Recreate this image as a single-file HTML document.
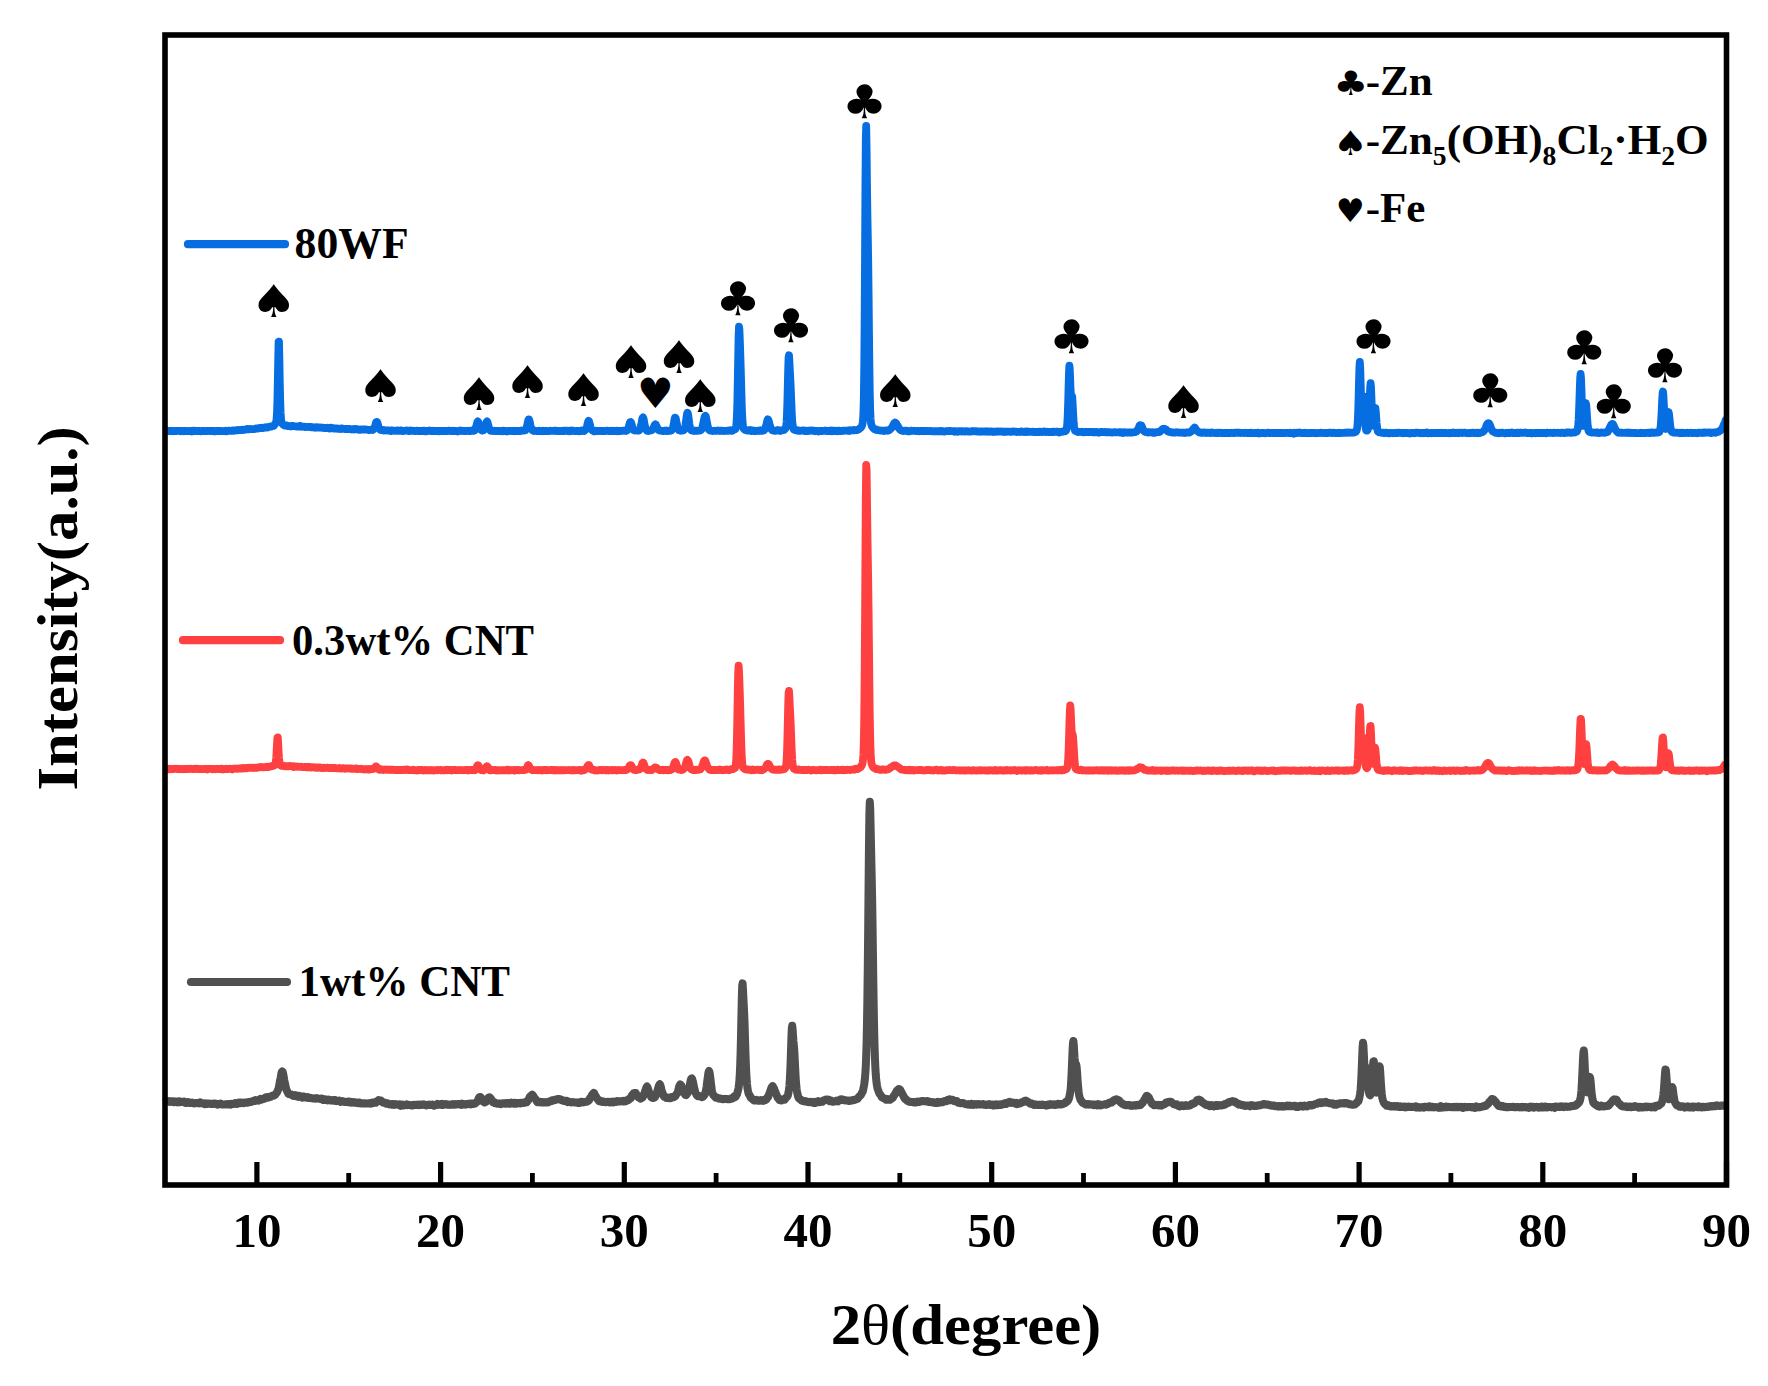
<!DOCTYPE html>
<html lang="en"><head><meta charset="utf-8"><title>XRD patterns</title>
<style>html,body{margin:0;padding:0;background:#fff}body{width:1768px;height:1386px;overflow:hidden}svg{display:block}</style>
</head><body>
<svg width="1768" height="1386" viewBox="0 0 1768 1386">
<rect width="1768" height="1386" fill="#fff"/>
<path d="M165.0,1102.0 165.4,1101.6 165.8,1101.1 166.2,1100.8 166.6,1101.0 167.0,1101.2 167.4,1101.2 167.8,1101.2 168.2,1101.2 168.6,1101.1 169.0,1101.1 169.4,1101.6 169.8,1102.0 170.2,1102.0 170.6,1101.7 171.0,1101.4 171.4,1101.2 171.8,1101.3 172.2,1101.5 172.6,1101.3 173.0,1101.2 173.4,1101.7 173.8,1102.1 174.2,1101.9 174.6,1101.4 175.0,1101.6 175.4,1101.9 175.8,1101.8 176.2,1101.6 176.6,1101.8 177.0,1102.3 177.4,1102.4 177.8,1101.8 178.2,1101.6 178.6,1101.4 179.0,1101.2 179.4,1101.4 179.8,1101.8 180.2,1102.2 180.6,1102.0 181.0,1101.8 181.4,1102.1 181.8,1102.0 182.2,1101.7 182.6,1101.8 183.0,1101.9 183.4,1102.0 183.8,1101.9 184.2,1101.7 184.6,1102.1 185.0,1102.7 185.4,1102.9 185.8,1103.0 186.2,1103.1 186.6,1102.9 187.0,1102.5 187.4,1102.4 187.8,1102.1 188.2,1102.0 188.6,1102.2 189.0,1102.8 189.4,1103.1 189.8,1103.0 190.2,1103.0 190.6,1102.8 191.0,1102.7 191.4,1102.7 191.8,1102.6 192.2,1103.0 192.6,1103.2 193.0,1103.0 193.4,1103.0 193.8,1103.2 194.2,1103.4 194.6,1103.4 195.0,1103.3 195.4,1103.3 195.8,1103.0 196.2,1102.9 196.6,1103.1 197.0,1103.0 197.4,1103.1 197.8,1103.2 198.2,1103.1 198.6,1103.3 199.0,1103.5 199.4,1103.3 199.8,1102.7 200.2,1102.3 200.6,1102.6 201.0,1103.0 201.4,1103.0 201.8,1103.1 202.2,1103.3 202.6,1103.3 203.0,1103.4 203.4,1103.5 203.8,1103.3 204.2,1103.5 204.6,1104.1 205.0,1103.8 205.4,1103.3 205.8,1103.4 206.2,1103.8 206.6,1104.0 207.0,1103.7 207.4,1103.4 207.8,1103.4 208.2,1103.7 208.6,1103.7 209.0,1103.5 209.4,1103.5 209.8,1103.7 210.2,1103.8 210.6,1103.7 211.0,1103.9 211.4,1104.1 211.8,1103.9 212.2,1103.8 212.6,1104.0 213.0,1103.9 213.4,1103.8 213.8,1103.5 214.2,1103.4 214.6,1103.8 215.0,1104.0 215.4,1104.0 215.8,1103.9 216.2,1103.7 216.6,1103.7 217.0,1104.1 217.4,1104.6 217.8,1104.4 218.2,1104.1 218.6,1104.1 219.0,1104.0 219.4,1104.0 219.8,1104.2 220.2,1103.9 220.6,1103.6 221.0,1103.7 221.4,1104.1 221.8,1104.4 222.2,1104.5 222.6,1104.3 223.0,1104.4 223.4,1104.4 223.8,1104.4 224.2,1104.5 224.6,1104.4 225.0,1104.3 225.4,1104.3 225.8,1104.2 226.2,1104.2 226.6,1104.4 227.0,1104.4 227.4,1104.2 227.8,1104.2 228.2,1104.4 228.6,1104.4 229.0,1104.2 229.4,1104.1 229.8,1104.0 230.2,1104.2 230.6,1104.6 231.0,1104.2 231.4,1103.9 231.8,1104.1 232.2,1103.9 232.6,1104.0 233.0,1104.1 233.4,1103.7 233.8,1103.5 234.2,1103.5 234.6,1103.4 235.0,1103.1 235.4,1103.1 235.8,1103.5 236.2,1103.8 236.6,1104.0 237.0,1104.0 237.4,1103.7 237.8,1103.3 238.2,1102.9 238.6,1102.6 239.0,1102.6 239.4,1102.8 239.8,1103.1 240.2,1103.2 240.6,1102.9 241.0,1102.5 241.4,1102.4 241.8,1102.7 242.2,1102.9 242.6,1102.8 243.0,1102.8 243.4,1103.2 243.8,1103.2 244.2,1102.6 244.6,1102.4 245.0,1102.4 245.4,1102.4 245.8,1102.5 246.2,1102.6 246.6,1102.7 247.0,1102.8 247.4,1102.6 247.8,1102.3 248.2,1102.1 248.6,1101.9 249.0,1102.0 249.4,1102.2 249.8,1102.2 250.2,1102.1 250.6,1101.9 251.0,1101.7 251.4,1101.8 251.8,1101.6 252.2,1101.4 252.6,1101.2 253.0,1101.0 253.4,1100.8 253.8,1100.9 254.2,1101.1 254.6,1101.1 255.0,1100.7 255.4,1100.1 255.8,1100.2 256.2,1100.4 256.6,1100.3 257.0,1100.4 257.4,1100.3 257.8,1100.0 258.2,1100.2 258.6,1100.5 259.0,1100.0 259.4,1099.5 259.8,1099.3 260.2,1099.1 260.6,1098.8 261.0,1099.1 261.4,1099.7 261.8,1099.5 262.2,1099.2 262.6,1099.2 263.0,1099.2 263.4,1099.0 263.8,1099.0 264.2,1098.7 264.6,1098.5 265.0,1098.1 265.4,1097.4 265.8,1097.3 266.2,1097.5 266.6,1097.3 267.0,1097.2 267.4,1097.0 267.8,1097.3 268.2,1097.7 268.6,1097.5 269.0,1097.1 269.4,1097.0 269.8,1096.9 270.2,1096.8 270.6,1096.8 271.0,1096.6 271.4,1096.1 271.8,1096.1 272.2,1095.9 272.6,1095.6 273.0,1095.6 273.4,1095.6 273.8,1095.7 274.2,1095.5 274.6,1095.1 275.0,1094.9 275.4,1094.4 275.8,1093.7 276.2,1093.3 276.6,1092.9 277.0,1092.3 277.4,1091.6 277.8,1090.5 278.2,1089.3 278.6,1088.4 279.0,1086.8 279.4,1084.3 279.8,1081.9 280.2,1079.9 280.6,1078.0 281.0,1075.8 281.4,1073.4 281.8,1071.9 282.2,1071.4 282.6,1071.7 283.0,1073.0 283.4,1075.0 283.8,1077.3 284.2,1079.9 284.6,1082.1 285.0,1083.6 285.4,1085.4 285.8,1087.4 286.2,1089.2 286.6,1090.0 287.0,1090.7 287.4,1091.9 287.8,1092.7 288.2,1093.3 288.6,1094.0 289.0,1094.2 289.4,1094.2 289.8,1094.2 290.2,1094.5 290.6,1094.4 291.0,1094.3 291.4,1094.6 291.8,1094.7 292.2,1094.8 292.6,1095.2 293.0,1095.8 293.4,1096.0 293.8,1096.0 294.2,1095.9 294.6,1095.3 295.0,1095.1 295.4,1095.7 295.8,1096.2 296.2,1096.3 296.6,1096.5 297.0,1096.4 297.4,1096.0 297.8,1096.5 298.2,1096.8 298.6,1096.3 299.0,1095.9 299.4,1096.2 299.8,1096.5 300.2,1096.6 300.6,1096.6 301.0,1096.4 301.4,1096.4 301.8,1097.0 302.2,1097.6 302.6,1097.3 303.0,1096.9 303.4,1096.6 303.8,1096.5 304.2,1096.9 304.6,1097.1 305.0,1097.1 305.4,1097.3 305.8,1097.6 306.2,1097.7 306.6,1097.7 307.0,1097.4 307.4,1097.0 307.8,1097.0 308.2,1097.5 308.6,1097.7 309.0,1098.0 309.4,1098.1 309.8,1097.8 310.2,1097.8 310.6,1098.0 311.0,1098.0 311.4,1098.1 311.8,1098.2 312.2,1098.4 312.6,1098.4 313.0,1098.5 313.4,1098.6 313.8,1098.5 314.2,1098.3 314.6,1098.3 315.0,1098.5 315.4,1098.7 315.8,1098.7 316.2,1098.3 316.6,1098.1 317.0,1098.3 317.4,1098.4 317.8,1098.4 318.2,1098.5 318.6,1098.4 319.0,1098.4 319.4,1098.8 319.8,1099.0 320.2,1098.9 320.6,1098.9 321.0,1099.0 321.4,1098.8 321.8,1098.5 322.2,1098.8 322.6,1099.4 323.0,1099.9 323.4,1100.1 323.8,1099.9 324.2,1099.5 324.6,1099.3 325.0,1099.6 325.4,1100.0 325.8,1099.9 326.2,1099.6 326.6,1099.8 327.0,1100.2 327.4,1100.4 327.8,1100.1 328.2,1099.7 328.6,1099.6 329.0,1099.7 329.4,1099.9 329.8,1100.3 330.2,1100.6 330.6,1100.6 331.0,1100.5 331.4,1100.3 331.8,1100.3 332.2,1100.3 332.6,1100.5 333.0,1100.7 333.4,1100.3 333.8,1100.0 334.2,1100.1 334.6,1100.2 335.0,1100.0 335.4,1100.4 335.8,1101.0 336.2,1101.2 336.6,1101.0 337.0,1101.1 337.4,1101.1 337.8,1100.7 338.2,1100.8 338.6,1101.0 339.0,1100.9 339.4,1100.6 339.8,1100.9 340.2,1101.5 340.6,1101.9 341.0,1101.8 341.4,1101.6 341.8,1101.8 342.2,1101.6 342.6,1101.2 343.0,1101.4 343.4,1101.5 343.8,1101.6 344.2,1101.7 344.6,1101.9 345.0,1101.8 345.4,1101.8 345.8,1102.0 346.2,1101.9 346.6,1101.9 347.0,1102.1 347.4,1101.9 347.8,1101.6 348.2,1101.6 348.6,1101.5 349.0,1101.9 349.4,1102.4 349.8,1102.1 350.2,1101.9 350.6,1101.8 351.0,1102.1 351.4,1102.7 351.8,1102.7 352.2,1102.3 352.6,1102.2 353.0,1102.1 353.4,1102.1 353.8,1102.1 354.2,1102.3 354.6,1102.6 355.0,1102.9 355.4,1102.8 355.8,1102.6 356.2,1102.4 356.6,1102.5 357.0,1102.7 357.4,1103.0 357.8,1103.2 358.2,1103.1 358.6,1102.8 359.0,1102.6 359.4,1103.2 359.8,1103.3 360.2,1102.9 360.6,1103.2 361.0,1103.4 361.4,1103.3 361.8,1103.5 362.2,1103.3 362.6,1103.2 363.0,1103.6 363.4,1103.5 363.8,1103.4 364.2,1103.3 364.6,1103.2 365.0,1103.5 365.4,1103.5 365.8,1103.4 366.2,1103.4 366.6,1103.6 367.0,1103.6 367.4,1103.5 367.8,1103.5 368.2,1103.4 368.6,1103.2 369.0,1103.2 369.4,1103.1 369.8,1103.3 370.2,1103.6 370.6,1103.7 371.0,1103.7 371.4,1103.5 371.8,1102.9 372.2,1102.6 372.6,1102.9 373.0,1103.2 373.4,1103.0 373.8,1102.9 374.2,1102.8 374.6,1102.2 375.0,1102.0 375.4,1102.5 375.8,1102.7 376.2,1102.1 376.6,1101.5 377.0,1101.4 377.4,1101.4 377.8,1101.1 378.2,1100.5 378.6,1100.1 379.0,1100.2 379.4,1100.5 379.8,1100.9 380.2,1101.0 380.6,1100.5 381.0,1100.5 381.4,1100.9 381.8,1101.3 382.2,1101.8 382.6,1102.2 383.0,1102.5 383.4,1102.8 383.8,1102.7 384.2,1102.5 384.6,1102.5 385.0,1102.7 385.4,1102.8 385.8,1103.0 386.2,1103.6 386.6,1103.8 387.0,1103.6 387.4,1103.4 387.8,1103.3 388.2,1103.8 388.6,1104.1 389.0,1103.8 389.4,1104.0 389.8,1104.4 390.2,1104.3 390.6,1104.2 391.0,1104.2 391.4,1104.1 391.8,1104.4 392.2,1104.6 392.6,1104.1 393.0,1104.0 393.4,1104.4 393.8,1104.8 394.2,1104.9 394.6,1104.7 395.0,1104.2 395.4,1104.1 395.8,1104.4 396.2,1104.5 396.6,1104.3 397.0,1104.4 397.4,1104.7 397.8,1104.7 398.2,1104.5 398.6,1104.4 399.0,1104.3 399.4,1104.3 399.8,1104.7 400.2,1105.4 400.6,1105.7 401.0,1105.2 401.4,1105.0 401.8,1104.8 402.2,1104.6 402.6,1104.6 403.0,1104.7 403.4,1105.2 403.8,1105.4 404.2,1105.0 404.6,1104.9 405.0,1105.1 405.4,1105.1 405.8,1105.0 406.2,1104.8 406.6,1104.5 407.0,1104.9 407.4,1105.2 407.8,1105.1 408.2,1104.8 408.6,1104.8 409.0,1105.0 409.4,1105.0 409.8,1104.9 410.2,1104.9 410.6,1105.2 411.0,1105.4 411.4,1105.3 411.8,1105.4 412.2,1105.6 412.6,1105.5 413.0,1105.1 413.4,1104.8 413.8,1104.8 414.2,1104.9 414.6,1105.1 415.0,1105.1 415.4,1104.9 415.8,1104.7 416.2,1104.8 416.6,1105.0 417.0,1105.0 417.4,1104.8 417.8,1104.7 418.2,1104.6 418.6,1104.9 419.0,1105.2 419.4,1105.1 419.8,1104.7 420.2,1104.5 420.6,1104.6 421.0,1105.1 421.4,1105.1 421.8,1104.6 422.2,1104.4 422.6,1104.6 423.0,1104.4 423.4,1104.3 423.8,1104.7 424.2,1104.8 424.6,1104.5 425.0,1104.8 425.4,1105.2 425.8,1105.1 426.2,1105.1 426.6,1105.4 427.0,1105.1 427.4,1104.8 427.8,1104.8 428.2,1104.7 428.6,1104.7 429.0,1104.6 429.4,1104.7 429.8,1104.8 430.2,1105.0 430.6,1105.1 431.0,1104.9 431.4,1104.9 431.8,1104.8 432.2,1104.5 432.6,1104.6 433.0,1104.9 433.4,1105.0 433.8,1105.4 434.2,1105.7 434.6,1105.3 435.0,1104.9 435.4,1105.0 435.8,1104.8 436.2,1104.6 436.6,1104.8 437.0,1104.4 437.4,1103.9 437.8,1104.1 438.2,1104.5 438.6,1104.7 439.0,1104.8 439.4,1104.8 439.8,1104.7 440.2,1104.3 440.6,1104.1 441.0,1104.6 441.4,1104.9 441.8,1104.4 442.2,1103.9 442.6,1104.3 443.0,1104.8 443.4,1104.6 443.8,1104.3 444.2,1104.4 444.6,1104.6 445.0,1104.4 445.4,1104.1 445.8,1104.1 446.2,1104.5 446.6,1104.8 447.0,1104.8 447.4,1104.8 447.8,1104.7 448.2,1104.6 448.6,1104.6 449.0,1104.7 449.4,1104.9 449.8,1104.7 450.2,1104.5 450.6,1104.5 451.0,1104.6 451.4,1104.6 451.8,1104.7 452.2,1104.4 452.6,1104.2 453.0,1104.6 453.4,1104.7 453.8,1104.5 454.2,1104.7 454.6,1104.7 455.0,1104.2 455.4,1104.1 455.8,1104.4 456.2,1104.3 456.6,1104.3 457.0,1104.4 457.4,1104.1 457.8,1103.9 458.2,1104.0 458.6,1104.3 459.0,1104.6 459.4,1104.6 459.8,1104.5 460.2,1104.4 460.6,1104.3 461.0,1104.5 461.4,1104.8 461.8,1104.4 462.2,1103.7 462.6,1104.0 463.0,1104.4 463.4,1104.1 463.8,1104.1 464.2,1104.2 464.6,1104.2 465.0,1104.6 465.4,1104.7 465.8,1104.4 466.2,1104.3 466.6,1104.0 467.0,1103.9 467.4,1104.1 467.8,1104.2 468.2,1104.1 468.6,1104.1 469.0,1103.7 469.4,1103.6 469.8,1103.8 470.2,1104.2 470.6,1104.4 471.0,1104.1 471.4,1103.7 471.8,1103.9 472.2,1103.8 472.6,1103.4 473.0,1103.5 473.4,1103.9 473.8,1104.0 474.2,1103.8 474.6,1103.7 475.0,1103.6 475.4,1103.3 475.8,1102.8 476.2,1102.4 476.6,1102.0 477.0,1101.9 477.4,1101.6 477.8,1100.7 478.2,1099.5 478.6,1098.6 479.0,1097.8 479.4,1097.2 479.8,1096.9 480.2,1097.0 480.6,1097.3 481.0,1097.7 481.4,1098.6 481.8,1099.4 482.2,1099.9 482.6,1100.7 483.0,1101.4 483.4,1101.7 483.8,1101.7 484.2,1101.9 484.6,1102.4 485.0,1102.2 485.4,1102.0 485.8,1101.9 486.2,1101.5 486.6,1101.4 487.0,1101.1 487.4,1100.3 487.8,1099.3 488.2,1098.1 488.6,1097.5 489.0,1097.5 489.4,1097.2 489.8,1097.3 490.2,1098.0 490.6,1098.3 491.0,1098.9 491.4,1099.7 491.8,1100.4 492.2,1100.9 492.6,1101.6 493.0,1102.5 493.4,1102.5 493.8,1101.9 494.2,1102.1 494.6,1102.9 495.0,1103.2 495.4,1103.3 495.8,1103.3 496.2,1103.2 496.6,1103.5 497.0,1103.7 497.4,1103.6 497.8,1103.7 498.2,1103.7 498.6,1103.5 499.0,1103.4 499.4,1103.7 499.8,1103.5 500.2,1103.4 500.6,1103.8 501.0,1104.2 501.4,1104.0 501.8,1103.8 502.2,1103.6 502.6,1103.3 503.0,1103.2 503.4,1103.4 503.8,1103.5 504.2,1103.6 504.6,1103.7 505.0,1103.2 505.4,1103.0 505.8,1103.4 506.2,1103.7 506.6,1103.5 507.0,1103.2 507.4,1103.1 507.8,1103.0 508.2,1103.2 508.6,1103.6 509.0,1103.8 509.4,1103.7 509.8,1103.7 510.2,1103.8 510.6,1103.2 511.0,1102.7 511.4,1103.1 511.8,1103.5 512.2,1103.4 512.6,1103.3 513.0,1103.6 513.4,1103.7 513.8,1103.2 514.2,1102.8 514.6,1102.8 515.0,1103.2 515.4,1103.6 515.8,1103.7 516.2,1103.7 516.6,1103.7 517.0,1103.5 517.4,1103.3 517.8,1103.0 518.2,1102.9 518.6,1103.0 519.0,1103.0 519.4,1103.3 519.8,1103.5 520.2,1103.2 520.6,1102.8 521.0,1102.9 521.4,1103.1 521.8,1102.9 522.2,1102.8 522.6,1102.8 523.0,1102.9 523.4,1103.0 523.8,1102.5 524.2,1102.4 524.6,1102.8 525.0,1102.8 525.4,1102.5 525.8,1102.3 526.2,1102.3 526.6,1102.3 527.0,1101.9 527.4,1101.1 527.8,1100.5 528.2,1100.2 528.6,1099.7 529.0,1098.9 529.4,1097.7 529.8,1096.8 530.2,1096.5 530.6,1096.2 531.0,1095.7 531.4,1095.4 531.8,1094.9 532.2,1094.6 532.6,1094.9 533.0,1095.5 533.4,1096.1 533.8,1096.8 534.2,1097.4 534.6,1098.1 535.0,1098.5 535.4,1099.0 535.8,1099.4 536.2,1099.9 536.6,1100.8 537.0,1101.7 537.4,1102.1 537.8,1101.9 538.2,1101.5 538.6,1101.7 539.0,1102.2 539.4,1102.1 539.8,1102.0 540.2,1101.8 540.6,1102.1 541.0,1102.5 541.4,1102.5 541.8,1102.3 542.2,1102.0 542.6,1102.1 543.0,1102.5 543.4,1102.5 543.8,1102.3 544.2,1102.2 544.6,1102.2 545.0,1102.5 545.4,1102.5 545.8,1102.1 546.2,1102.2 546.6,1102.2 547.0,1102.2 547.4,1102.5 547.8,1102.4 548.2,1102.0 548.6,1102.1 549.0,1102.0 549.4,1101.5 549.8,1101.4 550.2,1101.3 550.6,1101.2 551.0,1101.2 551.4,1100.7 551.8,1100.2 552.2,1100.2 552.6,1100.5 553.0,1100.6 553.4,1100.4 553.8,1100.1 554.2,1100.2 554.6,1100.3 555.0,1100.0 555.4,1099.5 555.8,1099.6 556.2,1099.7 556.6,1099.4 557.0,1099.2 557.4,1099.1 557.8,1099.1 558.2,1099.1 558.6,1099.1 559.0,1099.4 559.4,1099.3 559.8,1099.1 560.2,1099.3 560.6,1099.3 561.0,1099.8 561.4,1100.1 561.8,1099.9 562.2,1100.1 562.6,1100.4 563.0,1100.3 563.4,1100.5 563.8,1100.9 564.2,1101.1 564.6,1101.0 565.0,1101.1 565.4,1101.1 565.8,1100.7 566.2,1100.7 566.6,1100.7 567.0,1101.1 567.4,1101.9 567.8,1102.2 568.2,1102.1 568.6,1102.0 569.0,1101.9 569.4,1101.8 569.8,1101.8 570.2,1102.0 570.6,1102.3 571.0,1102.5 571.4,1102.4 571.8,1102.2 572.2,1102.2 572.6,1102.1 573.0,1102.1 573.4,1102.3 573.8,1102.3 574.2,1102.2 574.6,1102.4 575.0,1102.6 575.4,1102.6 575.8,1102.4 576.2,1102.4 576.6,1102.6 577.0,1102.6 577.4,1102.7 577.8,1102.9 578.2,1103.0 578.6,1102.5 579.0,1102.3 579.4,1102.9 579.8,1103.0 580.2,1102.4 580.6,1101.9 581.0,1101.8 581.4,1102.1 581.8,1102.3 582.2,1102.3 582.6,1101.8 583.0,1102.0 583.4,1102.3 583.8,1102.0 584.2,1101.9 584.6,1102.0 585.0,1101.9 585.4,1101.8 585.8,1101.8 586.2,1101.6 586.6,1101.7 587.0,1101.7 587.4,1101.4 587.8,1101.1 588.2,1100.9 588.6,1100.6 589.0,1100.2 589.4,1099.5 589.8,1098.5 590.2,1097.8 590.6,1097.6 591.0,1097.3 591.4,1096.4 591.8,1095.2 592.2,1094.7 592.6,1094.4 593.0,1093.9 593.4,1093.3 593.8,1092.9 594.2,1093.2 594.6,1094.4 595.0,1095.4 595.4,1095.8 595.8,1096.3 596.2,1097.1 596.6,1098.0 597.0,1098.5 597.4,1098.8 597.8,1099.1 598.2,1099.8 598.6,1100.7 599.0,1101.0 599.4,1101.1 599.8,1101.3 600.2,1101.4 600.6,1101.3 601.0,1101.1 601.4,1101.0 601.8,1101.5 602.2,1101.9 602.6,1101.7 603.0,1101.8 603.4,1101.9 603.8,1101.6 604.2,1101.7 604.6,1101.9 605.0,1102.1 605.4,1102.2 605.8,1102.0 606.2,1102.0 606.6,1102.2 607.0,1102.1 607.4,1101.9 607.8,1101.7 608.2,1101.8 608.6,1102.0 609.0,1101.9 609.4,1102.1 609.8,1102.5 610.2,1102.4 610.6,1101.9 611.0,1101.7 611.4,1101.8 611.8,1102.1 612.2,1102.1 612.6,1102.3 613.0,1102.5 613.4,1102.0 613.8,1101.6 614.2,1101.8 614.6,1101.9 615.0,1101.9 615.4,1101.9 615.8,1102.0 616.2,1102.0 616.6,1101.5 617.0,1101.2 617.4,1101.5 617.8,1101.5 618.2,1101.4 618.6,1101.4 619.0,1101.2 619.4,1101.3 619.8,1101.5 620.2,1101.5 620.6,1101.5 621.0,1101.3 621.4,1101.2 621.8,1101.1 622.2,1101.3 622.6,1101.4 623.0,1101.2 623.4,1100.9 623.8,1101.1 624.2,1101.4 624.6,1101.5 625.0,1101.2 625.4,1100.8 625.8,1100.9 626.2,1101.1 626.6,1100.6 627.0,1100.2 627.4,1100.0 627.8,1099.9 628.2,1100.1 628.6,1100.0 629.0,1099.5 629.4,1098.8 629.8,1098.5 630.2,1098.4 630.6,1098.3 631.0,1098.0 631.4,1096.9 631.8,1095.5 632.2,1094.9 632.6,1094.6 633.0,1094.2 633.4,1093.7 633.8,1093.2 634.2,1093.0 634.6,1093.2 635.0,1093.4 635.4,1093.1 635.8,1093.0 636.2,1093.9 636.6,1095.1 637.0,1095.5 637.4,1095.7 637.8,1096.3 638.2,1097.1 638.6,1097.5 639.0,1097.6 639.4,1097.8 639.8,1098.1 640.2,1098.3 640.6,1098.7 641.0,1098.6 641.4,1097.9 641.8,1097.6 642.2,1097.7 642.6,1097.3 643.0,1096.4 643.4,1095.7 643.8,1095.0 644.2,1093.9 644.6,1092.7 645.0,1091.5 645.4,1090.4 645.8,1089.1 646.2,1087.9 646.6,1087.0 647.0,1086.6 647.4,1087.0 647.8,1088.1 648.2,1089.4 648.6,1090.8 649.0,1092.0 649.4,1093.2 649.8,1094.2 650.2,1094.9 650.6,1095.7 651.0,1096.6 651.4,1097.2 651.8,1097.5 652.2,1097.6 652.6,1097.8 653.0,1098.0 653.4,1098.1 653.8,1097.8 654.2,1097.6 654.6,1097.4 655.0,1097.0 655.4,1096.3 655.8,1095.5 656.2,1094.4 656.6,1093.3 657.0,1092.3 657.4,1090.9 657.8,1089.4 658.2,1088.0 658.6,1086.5 659.0,1085.4 659.4,1084.7 659.8,1084.3 660.2,1084.8 660.6,1085.9 661.0,1087.5 661.4,1089.5 661.8,1091.3 662.2,1092.3 662.6,1092.9 663.0,1094.2 663.4,1095.5 663.8,1096.3 664.2,1096.8 664.6,1096.8 665.0,1096.7 665.4,1096.9 665.8,1097.4 666.2,1097.8 666.6,1097.7 667.0,1097.9 667.4,1098.1 667.8,1098.0 668.2,1097.8 668.6,1098.1 669.0,1098.2 669.4,1097.8 669.8,1098.0 670.2,1098.3 670.6,1098.2 671.0,1097.8 671.4,1097.1 671.8,1097.0 672.2,1097.1 672.6,1097.2 673.0,1097.3 673.4,1097.3 673.8,1097.1 674.2,1096.9 674.6,1096.7 675.0,1096.6 675.4,1096.1 675.8,1095.2 676.2,1094.5 676.6,1094.0 677.0,1093.5 677.4,1093.1 677.8,1092.3 678.2,1090.8 678.6,1088.8 679.0,1087.1 679.4,1086.1 679.8,1085.1 680.2,1084.5 680.6,1084.8 681.0,1085.3 681.4,1085.7 681.8,1087.0 682.2,1088.7 682.6,1089.5 683.0,1090.7 683.4,1091.8 683.8,1092.1 684.2,1092.6 684.6,1093.5 685.0,1094.4 685.4,1094.8 685.8,1095.0 686.2,1095.1 686.6,1094.6 687.0,1093.9 687.4,1093.4 687.8,1092.8 688.2,1091.6 688.6,1090.3 689.0,1089.2 689.4,1087.5 689.8,1085.2 690.2,1082.7 690.6,1080.7 691.0,1079.4 691.4,1078.6 691.8,1078.4 692.2,1079.1 692.6,1080.5 693.0,1082.0 693.4,1084.0 693.8,1086.0 694.2,1087.8 694.6,1089.7 695.0,1091.4 695.4,1092.5 695.8,1093.3 696.2,1094.2 696.6,1095.0 697.0,1095.4 697.4,1095.8 697.8,1096.2 698.2,1096.2 698.6,1095.9 699.0,1095.7 699.4,1096.0 699.8,1096.3 700.2,1096.4 700.6,1096.4 701.0,1096.6 701.4,1097.1 701.8,1097.2 702.2,1096.9 702.6,1096.9 703.0,1096.7 703.4,1096.3 703.8,1095.6 704.2,1095.0 704.6,1094.8 705.0,1094.1 705.4,1092.5 705.8,1091.0 706.2,1089.2 706.6,1086.6 707.0,1083.3 707.4,1080.1 707.8,1077.2 708.2,1074.3 708.6,1071.9 709.0,1071.0 709.4,1071.8 709.8,1073.9 710.2,1076.9 710.6,1080.3 711.0,1083.7 711.4,1087.1 711.8,1089.9 712.2,1092.0 712.6,1093.4 713.0,1094.6 713.4,1095.2 713.8,1095.3 714.2,1095.8 714.6,1096.5 715.0,1096.8 715.4,1097.4 715.8,1097.7 716.2,1097.6 716.6,1097.7 717.0,1097.6 717.4,1097.7 717.8,1097.8 718.2,1098.0 718.6,1098.4 719.0,1098.6 719.4,1098.7 719.8,1098.7 720.2,1098.6 720.6,1098.5 721.0,1098.5 721.4,1098.7 721.8,1099.0 722.2,1099.2 722.6,1098.9 723.0,1098.9 723.4,1099.1 723.8,1099.2 724.2,1099.0 724.6,1098.8 725.0,1098.9 725.4,1099.0 725.8,1099.0 726.2,1098.9 726.6,1099.0 727.0,1099.2 727.4,1099.1 727.8,1099.0 728.2,1099.2 728.6,1099.3 729.0,1099.3 729.4,1099.1 729.8,1098.9 730.2,1098.9 730.6,1098.9 731.0,1098.5 731.4,1098.2 731.8,1098.3 732.2,1098.5 732.6,1098.4 733.0,1098.1 733.4,1097.6 733.8,1097.0 734.2,1096.4 734.6,1096.2 735.0,1096.6 735.4,1097.0 735.8,1096.4 736.2,1095.4 736.6,1094.8 737.0,1094.2 737.4,1092.6 737.8,1091.2 738.2,1089.9 738.6,1087.6 739.0,1084.6 739.4,1080.5 739.8,1074.1 740.2,1065.2 740.6,1052.8 741.0,1036.4 741.4,1017.2 741.8,998.5 742.2,985.7 742.6,983.4 743.0,989.7 743.4,998.3 743.8,1006.1 744.2,1014.0 744.6,1024.5 745.0,1037.8 745.4,1051.3 745.8,1062.7 746.2,1071.7 746.6,1078.6 747.0,1083.8 747.4,1087.7 747.8,1090.0 748.2,1091.9 748.6,1093.6 749.0,1094.4 749.4,1094.8 749.8,1095.6 750.2,1096.6 750.6,1097.5 751.0,1098.0 751.4,1098.2 751.8,1098.4 752.2,1098.9 752.6,1099.3 753.0,1099.6 753.4,1100.1 753.8,1100.0 754.2,1100.2 754.6,1100.6 755.0,1100.5 755.4,1100.4 755.8,1100.6 756.2,1100.4 756.6,1099.9 757.0,1100.2 757.4,1100.4 757.8,1100.3 758.2,1100.6 758.6,1100.8 759.0,1100.7 759.4,1100.8 759.8,1100.7 760.2,1100.2 760.6,1100.1 761.0,1100.3 761.4,1100.6 761.8,1100.7 762.2,1100.7 762.6,1100.7 763.0,1100.9 763.4,1100.8 763.8,1100.2 764.2,1099.7 764.6,1099.5 765.0,1099.7 765.4,1100.1 765.8,1099.8 766.2,1099.3 766.6,1099.1 767.0,1098.2 767.4,1097.3 767.8,1097.2 768.2,1096.8 768.6,1095.5 769.0,1094.4 769.4,1093.5 769.8,1092.3 770.2,1091.2 770.6,1090.2 771.0,1089.0 771.4,1087.8 771.8,1087.0 772.2,1086.6 772.6,1086.2 773.0,1086.6 773.4,1087.4 773.8,1088.1 774.2,1088.9 774.6,1090.1 775.0,1091.2 775.4,1092.1 775.8,1093.3 776.2,1094.3 776.6,1095.0 777.0,1096.0 777.4,1097.4 777.8,1098.0 778.2,1098.2 778.6,1098.8 779.0,1099.4 779.4,1099.9 779.8,1099.8 780.2,1099.3 780.6,1099.7 781.0,1100.5 781.4,1100.5 781.8,1100.0 782.2,1099.7 782.6,1099.8 783.0,1099.8 783.4,1099.6 783.8,1099.5 784.2,1099.7 784.6,1099.7 785.0,1099.2 785.4,1098.4 785.8,1097.8 786.2,1097.6 786.6,1097.3 787.0,1096.7 787.4,1096.3 787.8,1095.6 788.2,1093.9 788.6,1091.9 789.0,1089.6 789.4,1085.8 789.8,1080.0 790.2,1072.4 790.6,1062.6 791.0,1050.7 791.4,1038.2 791.8,1028.7 792.2,1025.7 792.6,1029.0 793.0,1035.4 793.4,1040.9 793.8,1044.8 794.2,1049.6 794.6,1056.6 795.0,1064.8 795.4,1072.8 795.8,1079.7 796.2,1084.7 796.6,1088.5 797.0,1091.4 797.4,1093.7 797.8,1095.5 798.2,1096.8 798.6,1097.7 799.0,1098.4 799.4,1098.7 799.8,1098.8 800.2,1099.0 800.6,1099.4 801.0,1100.0 801.4,1100.4 801.8,1100.3 802.2,1100.6 802.6,1100.9 803.0,1101.1 803.4,1101.1 803.8,1101.2 804.2,1101.3 804.6,1101.2 805.0,1101.1 805.4,1101.5 805.8,1101.6 806.2,1101.4 806.6,1101.5 807.0,1101.7 807.4,1101.9 807.8,1102.0 808.2,1102.1 808.6,1101.9 809.0,1101.8 809.4,1102.3 809.8,1102.3 810.2,1102.0 810.6,1102.1 811.0,1102.1 811.4,1101.8 811.8,1101.9 812.2,1102.2 812.6,1102.3 813.0,1102.5 813.4,1102.8 813.8,1102.4 814.2,1102.1 814.6,1102.1 815.0,1101.8 815.4,1102.1 815.8,1102.7 816.2,1102.3 816.6,1102.0 817.0,1101.9 817.4,1102.0 817.8,1101.8 818.2,1101.3 818.6,1101.6 819.0,1102.2 819.4,1102.3 819.8,1102.0 820.2,1101.7 820.6,1101.7 821.0,1101.5 821.4,1101.3 821.8,1101.7 822.2,1101.8 822.6,1101.4 823.0,1101.2 823.4,1100.9 823.8,1100.3 824.2,1100.1 824.6,1100.2 825.0,1100.1 825.4,1099.9 825.8,1099.6 826.2,1099.6 826.6,1099.9 827.0,1099.7 827.4,1099.5 827.8,1099.9 828.2,1100.3 828.6,1099.9 829.0,1099.8 829.4,1100.6 829.8,1101.2 830.2,1101.0 830.6,1100.4 831.0,1100.4 831.4,1101.1 831.8,1101.4 832.2,1101.4 832.6,1101.6 833.0,1101.8 833.4,1101.7 833.8,1101.5 834.2,1101.4 834.6,1101.3 835.0,1101.4 835.4,1101.2 835.8,1100.8 836.2,1100.7 836.6,1100.7 837.0,1100.7 837.4,1101.1 837.8,1101.4 838.2,1100.9 838.6,1100.2 839.0,1100.0 839.4,1100.3 839.8,1100.3 840.2,1099.9 840.6,1099.4 841.0,1099.5 841.4,1100.0 841.8,1099.8 842.2,1099.4 842.6,1099.6 843.0,1100.0 843.4,1099.9 843.8,1099.8 844.2,1100.0 844.6,1100.3 845.0,1100.4 845.4,1100.2 845.8,1100.3 846.2,1100.4 846.6,1100.4 847.0,1100.6 847.4,1100.6 847.8,1100.5 848.2,1100.6 848.6,1100.9 849.0,1100.7 849.4,1100.7 849.8,1100.9 850.2,1100.8 850.6,1100.7 851.0,1100.6 851.4,1100.6 851.8,1100.6 852.2,1100.2 852.6,1100.0 853.0,1100.1 853.4,1099.9 853.8,1099.7 854.2,1099.9 854.6,1100.0 855.0,1099.7 855.4,1099.4 855.8,1099.3 856.2,1099.2 856.6,1099.0 857.0,1099.0 857.4,1098.9 857.8,1098.4 858.2,1097.8 858.6,1097.3 859.0,1096.8 859.4,1096.4 859.8,1095.9 860.2,1095.7 860.6,1095.4 861.0,1094.8 861.4,1094.0 861.8,1093.0 862.2,1092.2 862.6,1091.8 863.0,1090.7 863.4,1088.6 863.8,1086.6 864.2,1084.4 864.6,1081.6 865.0,1077.6 865.4,1072.5 865.8,1065.9 866.2,1056.2 866.6,1042.4 867.0,1023.2 867.4,997.8 867.8,965.9 868.2,927.1 868.6,884.0 869.0,843.1 869.4,813.2 869.8,801.7 870.2,808.5 870.6,825.9 871.0,845.2 871.4,863.3 871.8,881.2 872.2,902.4 872.6,928.7 873.0,958.1 873.4,986.8 873.8,1011.8 874.2,1032.0 874.6,1047.6 875.0,1059.4 875.4,1068.4 875.8,1074.9 876.2,1079.5 876.6,1083.1 877.0,1085.7 877.4,1087.8 877.8,1089.2 878.2,1090.3 878.6,1091.5 879.0,1092.4 879.4,1093.4 879.8,1094.1 880.2,1094.5 880.6,1095.0 881.0,1095.6 881.4,1096.5 881.8,1097.2 882.2,1097.4 882.6,1097.6 883.0,1097.9 883.4,1098.0 883.8,1098.3 884.2,1098.5 884.6,1098.4 885.0,1098.4 885.4,1098.9 885.8,1099.6 886.2,1099.8 886.6,1099.6 887.0,1099.5 887.4,1099.4 887.8,1099.1 888.2,1099.3 888.6,1099.7 889.0,1099.6 889.4,1099.7 889.8,1099.8 890.2,1099.4 890.6,1099.1 891.0,1099.0 891.4,1098.7 891.8,1098.4 892.2,1098.2 892.6,1098.0 893.0,1097.4 893.4,1096.4 893.8,1095.7 894.2,1095.2 894.6,1094.7 895.0,1094.1 895.4,1093.6 895.8,1092.7 896.2,1091.9 896.6,1091.2 897.0,1090.4 897.4,1090.1 897.8,1090.1 898.2,1089.7 898.6,1089.1 899.0,1089.0 899.4,1089.3 899.8,1089.4 900.2,1089.8 900.6,1090.7 901.0,1091.5 901.4,1092.0 901.8,1092.8 902.2,1093.7 902.6,1094.4 903.0,1095.1 903.4,1096.2 903.8,1096.9 904.2,1097.3 904.6,1098.2 905.0,1098.9 905.4,1098.9 905.8,1099.0 906.2,1099.8 906.6,1100.2 907.0,1100.4 907.4,1100.8 907.8,1100.9 908.2,1101.1 908.6,1101.4 909.0,1101.6 909.4,1101.8 909.8,1101.7 910.2,1101.7 910.6,1101.8 911.0,1101.9 911.4,1102.1 911.8,1102.0 912.2,1102.0 912.6,1102.2 913.0,1102.2 913.4,1102.4 913.8,1102.3 914.2,1102.0 914.6,1101.9 915.0,1102.2 915.4,1102.5 915.8,1102.5 916.2,1102.4 916.6,1102.2 917.0,1101.9 917.4,1101.6 917.8,1101.5 918.2,1101.8 918.6,1102.0 919.0,1102.0 919.4,1101.9 919.8,1101.8 920.2,1101.8 920.6,1101.5 921.0,1101.3 921.4,1101.1 921.8,1101.3 922.2,1101.3 922.6,1101.0 923.0,1101.0 923.4,1101.1 923.8,1101.1 924.2,1101.2 924.6,1101.3 925.0,1101.3 925.4,1101.3 925.8,1101.5 926.2,1101.4 926.6,1101.2 927.0,1101.1 927.4,1101.5 927.8,1101.8 928.2,1102.0 928.6,1101.7 929.0,1101.6 929.4,1102.0 929.8,1101.8 930.2,1101.8 930.6,1102.1 931.0,1102.2 931.4,1102.3 931.8,1102.3 932.2,1102.4 932.6,1102.3 933.0,1102.0 933.4,1102.2 933.8,1102.4 934.2,1102.5 934.6,1102.8 935.0,1102.9 935.4,1102.6 935.8,1102.7 936.2,1103.1 936.6,1103.0 937.0,1102.5 937.4,1101.9 937.8,1101.8 938.2,1102.0 938.6,1102.3 939.0,1102.7 939.4,1102.8 939.8,1102.2 940.2,1102.0 940.6,1102.2 941.0,1102.3 941.4,1102.3 941.8,1101.9 942.2,1101.8 942.6,1102.2 943.0,1101.9 943.4,1101.3 943.8,1101.3 944.2,1101.2 944.6,1101.0 945.0,1101.2 945.4,1101.2 945.8,1100.8 946.2,1100.9 946.6,1101.1 947.0,1100.8 947.4,1100.1 947.8,1099.8 948.2,1100.0 948.6,1100.6 949.0,1100.6 949.4,1099.9 949.8,1099.5 950.2,1099.9 950.6,1100.3 951.0,1100.3 951.4,1100.2 951.8,1100.0 952.2,1099.8 952.6,1099.8 953.0,1100.2 953.4,1100.5 953.8,1101.0 954.2,1101.1 954.6,1101.1 955.0,1101.3 955.4,1101.3 955.8,1101.4 956.2,1101.5 956.6,1101.1 957.0,1101.1 957.4,1101.7 957.8,1102.2 958.2,1102.7 958.6,1102.7 959.0,1102.5 959.4,1102.7 959.8,1102.9 960.2,1103.2 960.6,1103.2 961.0,1103.2 961.4,1103.1 961.8,1103.1 962.2,1103.1 962.6,1103.0 963.0,1103.0 963.4,1103.2 963.8,1103.2 964.2,1103.3 964.6,1103.7 965.0,1104.0 965.4,1104.0 965.8,1104.0 966.2,1104.2 966.6,1104.4 967.0,1104.4 967.4,1104.5 967.8,1104.5 968.2,1104.3 968.6,1104.1 969.0,1104.2 969.4,1104.6 969.8,1104.4 970.2,1104.4 970.6,1104.6 971.0,1104.3 971.4,1103.8 971.8,1103.7 972.2,1104.3 972.6,1104.8 973.0,1104.9 973.4,1104.9 973.8,1104.8 974.2,1104.2 974.6,1104.0 975.0,1104.3 975.4,1104.6 975.8,1104.5 976.2,1104.6 976.6,1104.7 977.0,1104.4 977.4,1104.1 977.8,1104.4 978.2,1104.6 978.6,1104.4 979.0,1104.1 979.4,1104.2 979.8,1104.5 980.2,1104.6 980.6,1104.5 981.0,1104.4 981.4,1104.5 981.8,1104.4 982.2,1104.2 982.6,1104.0 983.0,1104.1 983.4,1104.4 983.8,1104.7 984.2,1104.8 984.6,1104.8 985.0,1104.6 985.4,1104.6 985.8,1104.9 986.2,1105.1 986.6,1104.9 987.0,1104.7 987.4,1104.6 987.8,1104.4 988.2,1104.3 988.6,1104.3 989.0,1104.1 989.4,1104.2 989.8,1104.7 990.2,1105.0 990.6,1104.9 991.0,1104.7 991.4,1104.7 991.8,1104.8 992.2,1104.4 992.6,1104.4 993.0,1105.2 993.4,1105.5 993.8,1105.2 994.2,1104.8 994.6,1104.5 995.0,1104.6 995.4,1104.6 995.8,1104.3 996.2,1104.5 996.6,1104.9 997.0,1105.2 997.4,1104.9 997.8,1104.5 998.2,1104.5 998.6,1105.0 999.0,1105.0 999.4,1104.8 999.8,1104.5 1000.2,1104.4 1000.6,1104.9 1001.0,1105.0 1001.4,1104.7 1001.8,1104.3 1002.2,1104.3 1002.6,1104.5 1003.0,1104.1 1003.4,1103.7 1003.8,1103.4 1004.2,1103.5 1004.6,1103.8 1005.0,1103.5 1005.4,1103.2 1005.8,1103.7 1006.2,1103.9 1006.6,1103.4 1007.0,1102.7 1007.4,1102.8 1007.8,1103.0 1008.2,1102.5 1008.6,1102.2 1009.0,1102.1 1009.4,1101.9 1009.8,1102.3 1010.2,1102.8 1010.6,1102.9 1011.0,1102.9 1011.4,1102.7 1011.8,1102.6 1012.2,1102.6 1012.6,1102.5 1013.0,1102.4 1013.4,1102.7 1013.8,1102.9 1014.2,1103.1 1014.6,1103.3 1015.0,1103.5 1015.4,1103.6 1015.8,1103.2 1016.2,1102.9 1016.6,1103.3 1017.0,1104.1 1017.4,1104.0 1017.8,1103.6 1018.2,1103.4 1018.6,1103.4 1019.0,1103.3 1019.4,1103.4 1019.8,1103.5 1020.2,1103.4 1020.6,1102.9 1021.0,1102.5 1021.4,1102.4 1021.8,1102.4 1022.2,1102.3 1022.6,1102.1 1023.0,1102.2 1023.4,1102.0 1023.8,1101.5 1024.2,1101.0 1024.6,1100.8 1025.0,1100.8 1025.4,1100.7 1025.8,1100.6 1026.2,1100.8 1026.6,1101.0 1027.0,1101.5 1027.4,1101.9 1027.8,1101.9 1028.2,1102.0 1028.6,1102.2 1029.0,1102.5 1029.4,1102.9 1029.8,1103.3 1030.2,1103.6 1030.6,1103.8 1031.0,1103.7 1031.4,1103.5 1031.8,1103.5 1032.2,1103.5 1032.6,1103.8 1033.0,1104.2 1033.4,1104.7 1033.8,1104.9 1034.2,1104.7 1034.6,1104.3 1035.0,1104.5 1035.4,1104.9 1035.8,1104.7 1036.2,1104.6 1036.6,1104.6 1037.0,1104.7 1037.4,1104.8 1037.8,1104.9 1038.2,1105.0 1038.6,1104.9 1039.0,1104.8 1039.4,1104.9 1039.8,1104.8 1040.2,1104.7 1040.6,1104.8 1041.0,1104.9 1041.4,1104.9 1041.8,1104.8 1042.2,1104.7 1042.6,1104.6 1043.0,1104.7 1043.4,1105.0 1043.8,1105.0 1044.2,1105.0 1044.6,1105.1 1045.0,1104.9 1045.4,1104.9 1045.8,1105.4 1046.2,1105.6 1046.6,1105.3 1047.0,1105.2 1047.4,1105.0 1047.8,1104.7 1048.2,1105.0 1048.6,1105.2 1049.0,1105.1 1049.4,1104.8 1049.8,1104.3 1050.2,1104.1 1050.6,1104.4 1051.0,1104.4 1051.4,1104.5 1051.8,1104.6 1052.2,1104.8 1052.6,1104.7 1053.0,1104.3 1053.4,1104.4 1053.8,1104.7 1054.2,1104.9 1054.6,1104.7 1055.0,1104.3 1055.4,1104.5 1055.8,1104.8 1056.2,1104.5 1056.6,1104.4 1057.0,1104.4 1057.4,1104.1 1057.8,1103.8 1058.2,1103.7 1058.6,1104.0 1059.0,1104.4 1059.4,1104.2 1059.8,1104.0 1060.2,1104.1 1060.6,1103.9 1061.0,1103.9 1061.4,1104.4 1061.8,1104.3 1062.2,1104.1 1062.6,1104.1 1063.0,1103.9 1063.4,1103.6 1063.8,1103.4 1064.2,1103.2 1064.6,1103.3 1065.0,1103.2 1065.4,1102.8 1065.8,1102.2 1066.2,1101.6 1066.6,1101.4 1067.0,1101.6 1067.4,1101.2 1067.8,1100.7 1068.2,1100.2 1068.6,1099.3 1069.0,1098.3 1069.4,1096.7 1069.8,1094.7 1070.2,1092.6 1070.6,1089.5 1071.0,1084.4 1071.4,1077.4 1071.8,1068.8 1072.2,1059.2 1072.6,1049.6 1073.0,1042.6 1073.4,1041.0 1073.8,1045.2 1074.2,1052.0 1074.6,1058.1 1075.0,1062.2 1075.4,1063.8 1075.8,1063.8 1076.2,1064.4 1076.6,1066.7 1077.0,1071.2 1077.4,1077.0 1077.8,1082.9 1078.2,1087.8 1078.6,1091.5 1079.0,1094.4 1079.4,1096.6 1079.8,1097.8 1080.2,1098.9 1080.6,1100.0 1081.0,1100.6 1081.4,1100.9 1081.8,1101.4 1082.2,1102.3 1082.6,1102.8 1083.0,1102.8 1083.4,1103.1 1083.8,1103.5 1084.2,1103.5 1084.6,1103.4 1085.0,1103.7 1085.4,1104.2 1085.8,1104.5 1086.2,1104.3 1086.6,1104.3 1087.0,1104.4 1087.4,1104.2 1087.8,1104.0 1088.2,1104.3 1088.6,1104.6 1089.0,1104.4 1089.4,1104.2 1089.8,1104.2 1090.2,1104.4 1090.6,1104.6 1091.0,1104.6 1091.4,1104.4 1091.8,1104.3 1092.2,1104.4 1092.6,1104.6 1093.0,1104.9 1093.4,1105.1 1093.8,1104.8 1094.2,1104.6 1094.6,1104.5 1095.0,1104.6 1095.4,1104.9 1095.8,1105.0 1096.2,1104.7 1096.6,1104.7 1097.0,1105.4 1097.4,1105.4 1097.8,1104.6 1098.2,1104.2 1098.6,1104.4 1099.0,1104.6 1099.4,1104.5 1099.8,1104.6 1100.2,1104.9 1100.6,1105.3 1101.0,1104.9 1101.4,1104.8 1101.8,1105.2 1102.2,1105.0 1102.6,1104.7 1103.0,1104.7 1103.4,1104.7 1103.8,1104.6 1104.2,1104.5 1104.6,1104.3 1105.0,1104.1 1105.4,1104.3 1105.8,1104.7 1106.2,1104.8 1106.6,1104.5 1107.0,1104.2 1107.4,1104.2 1107.8,1103.9 1108.2,1103.4 1108.6,1103.1 1109.0,1102.8 1109.4,1102.6 1109.8,1102.8 1110.2,1102.9 1110.6,1102.7 1111.0,1102.7 1111.4,1102.6 1111.8,1102.2 1112.2,1101.7 1112.6,1101.5 1113.0,1101.6 1113.4,1101.1 1113.8,1100.3 1114.2,1100.0 1114.6,1100.1 1115.0,1100.0 1115.4,1099.7 1115.8,1099.5 1116.2,1099.2 1116.6,1099.4 1117.0,1099.7 1117.4,1099.7 1117.8,1099.9 1118.2,1100.2 1118.6,1100.2 1119.0,1100.3 1119.4,1100.9 1119.8,1101.5 1120.2,1102.0 1120.6,1102.5 1121.0,1102.8 1121.4,1102.8 1121.8,1103.2 1122.2,1103.8 1122.6,1104.0 1123.0,1103.9 1123.4,1104.1 1123.8,1104.6 1124.2,1104.8 1124.6,1104.7 1125.0,1104.8 1125.4,1104.9 1125.8,1105.2 1126.2,1105.3 1126.6,1105.1 1127.0,1105.1 1127.4,1105.0 1127.8,1105.1 1128.2,1105.3 1128.6,1105.1 1129.0,1104.9 1129.4,1105.0 1129.8,1105.2 1130.2,1105.7 1130.6,1105.8 1131.0,1105.6 1131.4,1105.5 1131.8,1105.6 1132.2,1105.9 1132.6,1105.7 1133.0,1105.4 1133.4,1105.6 1133.8,1105.6 1134.2,1105.3 1134.6,1105.2 1135.0,1105.6 1135.4,1105.7 1135.8,1105.3 1136.2,1105.1 1136.6,1105.5 1137.0,1105.5 1137.4,1104.9 1137.8,1104.8 1138.2,1105.0 1138.6,1105.0 1139.0,1104.9 1139.4,1105.0 1139.8,1105.2 1140.2,1105.1 1140.6,1105.0 1141.0,1104.5 1141.4,1103.6 1141.8,1103.0 1142.2,1103.0 1142.6,1102.9 1143.0,1102.2 1143.4,1101.6 1143.8,1100.9 1144.2,1099.9 1144.6,1099.2 1145.0,1098.6 1145.4,1098.0 1145.8,1097.3 1146.2,1096.5 1146.6,1095.9 1147.0,1095.8 1147.4,1096.0 1147.8,1096.5 1148.2,1096.9 1148.6,1097.1 1149.0,1097.8 1149.4,1099.0 1149.8,1099.9 1150.2,1100.3 1150.6,1101.0 1151.0,1101.9 1151.4,1102.7 1151.8,1103.4 1152.2,1103.9 1152.6,1104.1 1153.0,1104.5 1153.4,1104.8 1153.8,1105.1 1154.2,1105.3 1154.6,1105.2 1155.0,1104.8 1155.4,1104.7 1155.8,1104.9 1156.2,1105.0 1156.6,1105.1 1157.0,1105.2 1157.4,1105.1 1157.8,1105.0 1158.2,1104.8 1158.6,1105.1 1159.0,1105.6 1159.4,1105.6 1159.8,1105.3 1160.2,1104.9 1160.6,1104.9 1161.0,1105.4 1161.4,1105.6 1161.8,1105.3 1162.2,1105.1 1162.6,1105.0 1163.0,1104.7 1163.4,1104.7 1163.8,1104.4 1164.2,1104.1 1164.6,1104.1 1165.0,1104.0 1165.4,1103.5 1165.8,1102.8 1166.2,1102.4 1166.6,1102.5 1167.0,1102.7 1167.4,1102.6 1167.8,1102.3 1168.2,1102.0 1168.6,1101.9 1169.0,1101.8 1169.4,1101.8 1169.8,1101.8 1170.2,1101.8 1170.6,1101.8 1171.0,1101.8 1171.4,1102.1 1171.8,1102.6 1172.2,1102.9 1172.6,1103.2 1173.0,1103.5 1173.4,1103.8 1173.8,1104.3 1174.2,1104.3 1174.6,1104.1 1175.0,1104.3 1175.4,1104.4 1175.8,1104.6 1176.2,1105.0 1176.6,1105.0 1177.0,1104.6 1177.4,1105.0 1177.8,1105.6 1178.2,1105.9 1178.6,1106.0 1179.0,1105.8 1179.4,1105.9 1179.8,1106.4 1180.2,1106.2 1180.6,1105.8 1181.0,1105.6 1181.4,1105.4 1181.8,1105.2 1182.2,1105.3 1182.6,1105.5 1183.0,1105.4 1183.4,1105.6 1183.8,1106.2 1184.2,1106.1 1184.6,1105.5 1185.0,1105.2 1185.4,1105.2 1185.8,1105.0 1186.2,1105.2 1186.6,1105.8 1187.0,1105.9 1187.4,1105.8 1187.8,1105.8 1188.2,1105.5 1188.6,1105.3 1189.0,1105.5 1189.4,1105.7 1189.8,1105.5 1190.2,1105.3 1190.6,1105.0 1191.0,1104.5 1191.4,1104.1 1191.8,1104.1 1192.2,1104.2 1192.6,1104.0 1193.0,1103.4 1193.4,1103.3 1193.8,1103.5 1194.2,1103.4 1194.6,1102.9 1195.0,1102.5 1195.4,1102.1 1195.8,1101.8 1196.2,1101.3 1196.6,1100.8 1197.0,1100.2 1197.4,1100.1 1197.8,1100.3 1198.2,1100.3 1198.6,1099.7 1199.0,1099.6 1199.4,1100.1 1199.8,1100.3 1200.2,1100.2 1200.6,1100.3 1201.0,1100.8 1201.4,1101.7 1201.8,1102.3 1202.2,1102.2 1202.6,1102.3 1203.0,1102.6 1203.4,1103.1 1203.8,1103.5 1204.2,1103.6 1204.6,1103.6 1205.0,1103.9 1205.4,1104.5 1205.8,1104.8 1206.2,1104.9 1206.6,1105.0 1207.0,1105.0 1207.4,1105.2 1207.8,1105.0 1208.2,1104.8 1208.6,1105.0 1209.0,1105.6 1209.4,1106.1 1209.8,1105.9 1210.2,1105.8 1210.6,1105.9 1211.0,1105.5 1211.4,1105.1 1211.8,1105.3 1212.2,1105.3 1212.6,1105.2 1213.0,1105.4 1213.4,1105.9 1213.8,1106.3 1214.2,1106.1 1214.6,1105.7 1215.0,1105.5 1215.4,1105.2 1215.8,1105.1 1216.2,1105.1 1216.6,1105.1 1217.0,1105.5 1217.4,1106.0 1217.8,1105.8 1218.2,1105.5 1218.6,1105.2 1219.0,1105.0 1219.4,1105.3 1219.8,1105.5 1220.2,1105.5 1220.6,1105.5 1221.0,1105.4 1221.4,1105.3 1221.8,1105.4 1222.2,1105.3 1222.6,1105.0 1223.0,1104.9 1223.4,1105.1 1223.8,1104.9 1224.2,1104.4 1224.6,1104.0 1225.0,1104.2 1225.4,1104.4 1225.8,1104.0 1226.2,1103.5 1226.6,1103.3 1227.0,1103.2 1227.4,1103.2 1227.8,1102.9 1228.2,1102.5 1228.6,1102.4 1229.0,1102.7 1229.4,1102.3 1229.8,1101.7 1230.2,1101.7 1230.6,1101.9 1231.0,1101.9 1231.4,1101.6 1231.8,1101.4 1232.2,1101.3 1232.6,1101.0 1233.0,1101.2 1233.4,1101.7 1233.8,1101.8 1234.2,1101.7 1234.6,1101.6 1235.0,1101.7 1235.4,1102.2 1235.8,1102.7 1236.2,1103.0 1236.6,1102.9 1237.0,1103.0 1237.4,1103.1 1237.8,1103.5 1238.2,1104.2 1238.6,1104.5 1239.0,1104.1 1239.4,1104.0 1239.8,1104.4 1240.2,1104.6 1240.6,1104.4 1241.0,1104.6 1241.4,1105.0 1241.8,1105.1 1242.2,1105.2 1242.6,1105.1 1243.0,1105.3 1243.4,1105.4 1243.8,1105.2 1244.2,1105.3 1244.6,1105.6 1245.0,1106.0 1245.4,1106.0 1245.8,1105.7 1246.2,1105.6 1246.6,1105.8 1247.0,1105.8 1247.4,1105.6 1247.8,1105.4 1248.2,1105.6 1248.6,1105.9 1249.0,1105.9 1249.4,1106.1 1249.8,1106.4 1250.2,1106.3 1250.6,1105.7 1251.0,1105.1 1251.4,1105.1 1251.8,1105.3 1252.2,1105.5 1252.6,1105.5 1253.0,1105.6 1253.4,1105.9 1253.8,1105.8 1254.2,1105.5 1254.6,1105.8 1255.0,1106.1 1255.4,1106.0 1255.8,1105.9 1256.2,1106.0 1256.6,1105.9 1257.0,1105.7 1257.4,1105.5 1257.8,1105.4 1258.2,1105.4 1258.6,1105.3 1259.0,1105.1 1259.4,1105.2 1259.8,1105.4 1260.2,1105.2 1260.6,1104.9 1261.0,1104.9 1261.4,1105.0 1261.8,1105.0 1262.2,1104.8 1262.6,1104.6 1263.0,1104.2 1263.4,1104.0 1263.8,1104.3 1264.2,1104.4 1264.6,1104.1 1265.0,1104.3 1265.4,1104.6 1265.8,1104.6 1266.2,1104.7 1266.6,1104.5 1267.0,1104.5 1267.4,1104.8 1267.8,1104.6 1268.2,1104.6 1268.6,1104.8 1269.0,1104.9 1269.4,1104.9 1269.8,1105.0 1270.2,1105.4 1270.6,1105.6 1271.0,1105.4 1271.4,1105.5 1271.8,1105.7 1272.2,1105.7 1272.6,1105.7 1273.0,1105.6 1273.4,1105.4 1273.8,1105.5 1274.2,1105.8 1274.6,1106.1 1275.0,1106.2 1275.4,1106.2 1275.8,1106.2 1276.2,1106.2 1276.6,1106.3 1277.0,1106.1 1277.4,1106.1 1277.8,1106.1 1278.2,1106.3 1278.6,1106.6 1279.0,1106.4 1279.4,1106.0 1279.8,1106.0 1280.2,1106.3 1280.6,1106.5 1281.0,1106.2 1281.4,1106.0 1281.8,1106.0 1282.2,1106.1 1282.6,1106.4 1283.0,1106.7 1283.4,1106.6 1283.8,1106.2 1284.2,1106.1 1284.6,1106.2 1285.0,1106.3 1285.4,1106.4 1285.8,1106.1 1286.2,1106.0 1286.6,1105.8 1287.0,1105.6 1287.4,1105.5 1287.8,1105.7 1288.2,1106.1 1288.6,1105.9 1289.0,1105.7 1289.4,1105.6 1289.8,1105.7 1290.2,1106.0 1290.6,1106.3 1291.0,1106.3 1291.4,1106.1 1291.8,1106.2 1292.2,1106.2 1292.6,1106.0 1293.0,1106.0 1293.4,1105.8 1293.8,1105.8 1294.2,1106.2 1294.6,1106.2 1295.0,1106.0 1295.4,1105.9 1295.8,1106.4 1296.2,1106.8 1296.6,1106.6 1297.0,1106.3 1297.4,1106.3 1297.8,1106.3 1298.2,1106.5 1298.6,1106.8 1299.0,1106.5 1299.4,1106.3 1299.8,1106.3 1300.2,1105.9 1300.6,1105.7 1301.0,1105.8 1301.4,1106.1 1301.8,1106.3 1302.2,1106.3 1302.6,1106.6 1303.0,1106.7 1303.4,1106.5 1303.8,1106.0 1304.2,1105.5 1304.6,1105.6 1305.0,1106.1 1305.4,1106.0 1305.8,1106.0 1306.2,1106.2 1306.6,1106.4 1307.0,1106.4 1307.4,1106.0 1307.8,1105.9 1308.2,1105.8 1308.6,1105.5 1309.0,1105.2 1309.4,1105.1 1309.8,1105.0 1310.2,1105.1 1310.6,1105.4 1311.0,1105.6 1311.4,1105.6 1311.8,1105.4 1312.2,1105.1 1312.6,1105.0 1313.0,1105.1 1313.4,1105.0 1313.8,1104.8 1314.2,1104.6 1314.6,1104.3 1315.0,1104.1 1315.4,1104.1 1315.8,1104.1 1316.2,1103.8 1316.6,1103.6 1317.0,1103.8 1317.4,1103.5 1317.8,1103.0 1318.2,1102.8 1318.6,1102.8 1319.0,1102.7 1319.4,1102.6 1319.8,1102.3 1320.2,1102.3 1320.6,1102.8 1321.0,1103.1 1321.4,1102.8 1321.8,1102.3 1322.2,1102.2 1322.6,1102.3 1323.0,1102.5 1323.4,1102.4 1323.8,1102.4 1324.2,1102.7 1324.6,1102.6 1325.0,1102.1 1325.4,1101.9 1325.8,1101.8 1326.2,1102.1 1326.6,1102.6 1327.0,1102.7 1327.4,1102.8 1327.8,1102.7 1328.2,1102.7 1328.6,1103.0 1329.0,1103.2 1329.4,1103.2 1329.8,1103.3 1330.2,1103.4 1330.6,1103.3 1331.0,1103.4 1331.4,1103.5 1331.8,1103.6 1332.2,1103.6 1332.6,1103.3 1333.0,1103.4 1333.4,1104.1 1333.8,1104.6 1334.2,1104.4 1334.6,1104.3 1335.0,1104.5 1335.4,1104.3 1335.8,1104.0 1336.2,1104.2 1336.6,1104.6 1337.0,1104.4 1337.4,1103.8 1337.8,1103.7 1338.2,1103.8 1338.6,1103.6 1339.0,1103.6 1339.4,1103.7 1339.8,1103.3 1340.2,1103.2 1340.6,1103.3 1341.0,1103.4 1341.4,1103.5 1341.8,1103.4 1342.2,1103.3 1342.6,1103.2 1343.0,1103.0 1343.4,1103.3 1343.8,1103.4 1344.2,1103.1 1344.6,1102.9 1345.0,1103.1 1345.4,1103.5 1345.8,1103.4 1346.2,1103.1 1346.6,1103.1 1347.0,1103.2 1347.4,1103.4 1347.8,1103.7 1348.2,1103.6 1348.6,1103.6 1349.0,1104.1 1349.4,1104.3 1349.8,1104.2 1350.2,1104.1 1350.6,1104.4 1351.0,1104.5 1351.4,1104.5 1351.8,1104.7 1352.2,1104.7 1352.6,1104.7 1353.0,1104.8 1353.4,1104.6 1353.8,1104.4 1354.2,1104.3 1354.6,1104.4 1355.0,1104.4 1355.4,1104.0 1355.8,1103.6 1356.2,1103.4 1356.6,1103.1 1357.0,1102.3 1357.4,1101.8 1357.8,1101.7 1358.2,1101.4 1358.6,1100.7 1359.0,1099.3 1359.4,1097.5 1359.8,1095.5 1360.2,1093.1 1360.6,1089.4 1361.0,1084.1 1361.4,1076.7 1361.8,1067.2 1362.2,1056.7 1362.6,1047.2 1363.0,1042.8 1363.4,1045.4 1363.8,1053.1 1364.2,1061.9 1364.6,1068.5 1365.0,1072.0 1365.4,1072.5 1365.8,1070.7 1366.2,1068.5 1366.6,1067.6 1367.0,1069.7 1367.4,1074.6 1367.8,1080.7 1368.2,1085.8 1368.6,1089.8 1369.0,1092.7 1369.4,1094.2 1369.8,1095.0 1370.2,1095.3 1370.6,1094.5 1371.0,1092.6 1371.4,1089.4 1371.8,1085.3 1372.2,1079.9 1372.6,1073.1 1373.0,1066.1 1373.4,1061.3 1373.8,1061.2 1374.2,1066.0 1374.6,1073.0 1375.0,1079.6 1375.4,1084.6 1375.8,1088.6 1376.2,1091.6 1376.6,1092.6 1377.0,1091.7 1377.4,1089.9 1377.8,1087.2 1378.2,1082.6 1378.6,1076.2 1379.0,1069.9 1379.4,1066.3 1379.8,1066.9 1380.2,1071.5 1380.6,1078.1 1381.0,1084.6 1381.4,1089.9 1381.8,1094.2 1382.2,1097.4 1382.6,1099.3 1383.0,1100.5 1383.4,1101.6 1383.8,1102.6 1384.2,1103.3 1384.6,1103.9 1385.0,1104.2 1385.4,1104.4 1385.8,1104.8 1386.2,1105.2 1386.6,1105.7 1387.0,1105.7 1387.4,1105.3 1387.8,1105.1 1388.2,1105.2 1388.6,1105.7 1389.0,1106.0 1389.4,1105.8 1389.8,1105.8 1390.2,1106.4 1390.6,1106.5 1391.0,1106.1 1391.4,1105.9 1391.8,1106.1 1392.2,1106.5 1392.6,1106.5 1393.0,1106.4 1393.4,1106.2 1393.8,1106.0 1394.2,1106.0 1394.6,1106.1 1395.0,1106.6 1395.4,1106.7 1395.8,1106.5 1396.2,1106.4 1396.6,1106.1 1397.0,1105.9 1397.4,1106.1 1397.8,1106.4 1398.2,1106.6 1398.6,1107.0 1399.0,1106.9 1399.4,1106.5 1399.8,1106.6 1400.2,1106.7 1400.6,1106.4 1401.0,1106.6 1401.4,1107.0 1401.8,1106.9 1402.2,1106.8 1402.6,1106.9 1403.0,1106.7 1403.4,1106.6 1403.8,1106.8 1404.2,1107.0 1404.6,1107.2 1405.0,1107.4 1405.4,1107.1 1405.8,1106.6 1406.2,1106.8 1406.6,1107.2 1407.0,1107.2 1407.4,1107.0 1407.8,1106.9 1408.2,1106.9 1408.6,1106.6 1409.0,1106.6 1409.4,1107.1 1409.8,1107.1 1410.2,1106.9 1410.6,1107.0 1411.0,1107.0 1411.4,1106.8 1411.8,1106.8 1412.2,1106.8 1412.6,1106.8 1413.0,1106.9 1413.4,1107.1 1413.8,1107.1 1414.2,1107.1 1414.6,1107.2 1415.0,1106.8 1415.4,1106.5 1415.8,1107.0 1416.2,1107.4 1416.6,1107.0 1417.0,1106.6 1417.4,1106.8 1417.8,1107.1 1418.2,1107.3 1418.6,1107.4 1419.0,1107.6 1419.4,1107.7 1419.8,1107.4 1420.2,1107.2 1420.6,1107.2 1421.0,1107.3 1421.4,1107.5 1421.8,1107.2 1422.2,1107.0 1422.6,1107.4 1423.0,1107.6 1423.4,1107.6 1423.8,1107.7 1424.2,1107.4 1424.6,1106.8 1425.0,1106.7 1425.4,1106.7 1425.8,1106.7 1426.2,1106.9 1426.6,1107.1 1427.0,1107.1 1427.4,1106.8 1427.8,1107.1 1428.2,1107.3 1428.6,1107.3 1429.0,1106.9 1429.4,1106.5 1429.8,1106.9 1430.2,1107.3 1430.6,1107.3 1431.0,1107.0 1431.4,1106.7 1431.8,1106.7 1432.2,1106.7 1432.6,1106.8 1433.0,1107.1 1433.4,1107.3 1433.8,1107.4 1434.2,1107.3 1434.6,1107.2 1435.0,1107.3 1435.4,1107.1 1435.8,1107.0 1436.2,1107.2 1436.6,1107.2 1437.0,1107.3 1437.4,1107.5 1437.8,1107.5 1438.2,1107.6 1438.6,1107.9 1439.0,1107.8 1439.4,1107.5 1439.8,1107.1 1440.2,1106.4 1440.6,1106.2 1441.0,1106.9 1441.4,1107.6 1441.8,1107.3 1442.2,1107.1 1442.6,1107.4 1443.0,1107.5 1443.4,1107.5 1443.8,1107.4 1444.2,1107.3 1444.6,1107.0 1445.0,1106.7 1445.4,1106.5 1445.8,1106.9 1446.2,1107.2 1446.6,1107.3 1447.0,1107.2 1447.4,1106.8 1447.8,1106.8 1448.2,1107.0 1448.6,1106.8 1449.0,1107.0 1449.4,1107.2 1449.8,1107.1 1450.2,1107.0 1450.6,1107.0 1451.0,1107.0 1451.4,1107.2 1451.8,1107.2 1452.2,1107.0 1452.6,1107.3 1453.0,1107.3 1453.4,1107.0 1453.8,1106.8 1454.2,1106.9 1454.6,1107.3 1455.0,1107.3 1455.4,1106.9 1455.8,1106.8 1456.2,1106.8 1456.6,1107.1 1457.0,1107.3 1457.4,1107.1 1457.8,1106.8 1458.2,1106.9 1458.6,1107.2 1459.0,1107.0 1459.4,1106.9 1459.8,1107.1 1460.2,1107.3 1460.6,1107.1 1461.0,1106.8 1461.4,1106.8 1461.8,1107.0 1462.2,1107.0 1462.6,1107.4 1463.0,1107.8 1463.4,1107.6 1463.8,1107.0 1464.2,1106.8 1464.6,1107.2 1465.0,1107.3 1465.4,1107.1 1465.8,1107.1 1466.2,1107.0 1466.6,1107.1 1467.0,1107.2 1467.4,1107.1 1467.8,1107.2 1468.2,1107.0 1468.6,1106.9 1469.0,1107.0 1469.4,1107.0 1469.8,1106.9 1470.2,1106.9 1470.6,1107.2 1471.0,1107.2 1471.4,1106.9 1471.8,1107.0 1472.2,1107.4 1472.6,1107.3 1473.0,1107.1 1473.4,1107.2 1473.8,1107.4 1474.2,1107.6 1474.6,1107.6 1475.0,1107.8 1475.4,1107.4 1475.8,1106.6 1476.2,1106.4 1476.6,1106.7 1477.0,1107.0 1477.4,1107.0 1477.8,1106.9 1478.2,1107.2 1478.6,1107.4 1479.0,1107.3 1479.4,1107.0 1479.8,1107.2 1480.2,1107.2 1480.6,1106.9 1481.0,1106.8 1481.4,1106.8 1481.8,1106.7 1482.2,1106.5 1482.6,1106.3 1483.0,1106.5 1483.4,1106.4 1483.8,1106.2 1484.2,1106.0 1484.6,1105.6 1485.0,1105.6 1485.4,1106.0 1485.8,1105.8 1486.2,1105.4 1486.6,1105.3 1487.0,1104.8 1487.4,1104.3 1487.8,1104.0 1488.2,1103.7 1488.6,1103.1 1489.0,1102.3 1489.4,1101.8 1489.8,1101.6 1490.2,1101.3 1490.6,1100.7 1491.0,1100.3 1491.4,1099.7 1491.8,1099.0 1492.2,1099.1 1492.6,1099.5 1493.0,1099.4 1493.4,1099.3 1493.8,1099.8 1494.2,1100.6 1494.6,1100.9 1495.0,1101.3 1495.4,1101.7 1495.8,1101.9 1496.2,1102.7 1496.6,1103.4 1497.0,1103.8 1497.4,1104.3 1497.8,1104.7 1498.2,1105.4 1498.6,1105.8 1499.0,1105.5 1499.4,1105.6 1499.8,1105.6 1500.2,1105.7 1500.6,1106.1 1501.0,1106.4 1501.4,1106.6 1501.8,1106.4 1502.2,1106.0 1502.6,1106.0 1503.0,1106.1 1503.4,1106.7 1503.8,1107.0 1504.2,1106.9 1504.6,1106.8 1505.0,1107.0 1505.4,1107.2 1505.8,1107.1 1506.2,1106.8 1506.6,1106.9 1507.0,1107.2 1507.4,1107.1 1507.8,1107.0 1508.2,1107.1 1508.6,1107.2 1509.0,1107.2 1509.4,1107.0 1509.8,1106.9 1510.2,1106.9 1510.6,1107.1 1511.0,1107.0 1511.4,1107.0 1511.8,1107.1 1512.2,1107.0 1512.6,1106.8 1513.0,1106.8 1513.4,1106.8 1513.8,1107.1 1514.2,1107.2 1514.6,1107.3 1515.0,1107.3 1515.4,1107.3 1515.8,1107.3 1516.2,1106.9 1516.6,1107.0 1517.0,1107.2 1517.4,1107.0 1517.8,1107.0 1518.2,1107.0 1518.6,1107.1 1519.0,1107.2 1519.4,1107.3 1519.8,1107.4 1520.2,1107.3 1520.6,1107.1 1521.0,1107.0 1521.4,1107.3 1521.8,1107.4 1522.2,1107.0 1522.6,1106.8 1523.0,1107.0 1523.4,1107.1 1523.8,1106.9 1524.2,1107.0 1524.6,1107.2 1525.0,1107.1 1525.4,1106.9 1525.8,1107.0 1526.2,1107.0 1526.6,1107.4 1527.0,1107.6 1527.4,1107.5 1527.8,1107.6 1528.2,1107.5 1528.6,1107.6 1529.0,1107.9 1529.4,1107.7 1529.8,1107.1 1530.2,1106.6 1530.6,1106.7 1531.0,1107.1 1531.4,1106.9 1531.8,1106.9 1532.2,1107.0 1532.6,1106.7 1533.0,1106.8 1533.4,1107.4 1533.8,1107.6 1534.2,1107.2 1534.6,1107.2 1535.0,1107.2 1535.4,1107.0 1535.8,1106.9 1536.2,1107.0 1536.6,1106.8 1537.0,1107.1 1537.4,1107.3 1537.8,1107.1 1538.2,1107.6 1538.6,1107.7 1539.0,1107.3 1539.4,1107.4 1539.8,1107.2 1540.2,1106.9 1540.6,1106.8 1541.0,1107.1 1541.4,1107.3 1541.8,1106.9 1542.2,1106.6 1542.6,1106.8 1543.0,1107.2 1543.4,1107.5 1543.8,1107.2 1544.2,1106.8 1544.6,1106.7 1545.0,1106.6 1545.4,1106.5 1545.8,1106.8 1546.2,1106.9 1546.6,1107.1 1547.0,1107.5 1547.4,1107.6 1547.8,1107.3 1548.2,1106.9 1548.6,1106.9 1549.0,1106.9 1549.4,1106.9 1549.8,1106.9 1550.2,1107.0 1550.6,1107.2 1551.0,1107.2 1551.4,1107.4 1551.8,1107.3 1552.2,1107.1 1552.6,1107.1 1553.0,1107.0 1553.4,1107.0 1553.8,1107.2 1554.2,1107.6 1554.6,1107.9 1555.0,1107.1 1555.4,1106.7 1555.8,1107.1 1556.2,1107.0 1556.6,1106.7 1557.0,1106.6 1557.4,1106.7 1557.8,1106.9 1558.2,1107.0 1558.6,1106.9 1559.0,1106.9 1559.4,1107.1 1559.8,1107.0 1560.2,1106.7 1560.6,1106.4 1561.0,1106.2 1561.4,1106.4 1561.8,1106.8 1562.2,1106.8 1562.6,1106.7 1563.0,1106.9 1563.4,1107.1 1563.8,1107.2 1564.2,1107.0 1564.6,1106.6 1565.0,1106.5 1565.4,1106.7 1565.8,1106.8 1566.2,1106.6 1566.6,1106.5 1567.0,1106.8 1567.4,1106.9 1567.8,1106.8 1568.2,1106.8 1568.6,1106.7 1569.0,1106.7 1569.4,1106.8 1569.8,1106.6 1570.2,1106.3 1570.6,1106.2 1571.0,1106.4 1571.4,1106.3 1571.8,1106.2 1572.2,1106.2 1572.6,1106.1 1573.0,1105.9 1573.4,1105.7 1573.8,1105.9 1574.2,1105.9 1574.6,1105.7 1575.0,1105.8 1575.4,1105.7 1575.8,1105.3 1576.2,1105.2 1576.6,1104.9 1577.0,1104.2 1577.4,1103.6 1577.8,1103.5 1578.2,1103.6 1578.6,1103.1 1579.0,1102.3 1579.4,1101.9 1579.8,1101.0 1580.2,1099.5 1580.6,1097.4 1581.0,1094.8 1581.4,1090.6 1581.8,1084.2 1582.2,1076.4 1582.6,1067.9 1583.0,1059.1 1583.4,1052.4 1583.8,1050.5 1584.2,1054.7 1584.6,1062.8 1585.0,1071.8 1585.4,1079.5 1585.8,1085.2 1586.2,1089.2 1586.6,1091.5 1587.0,1092.3 1587.4,1092.4 1587.8,1091.7 1588.2,1089.6 1588.6,1085.8 1589.0,1081.7 1589.4,1078.6 1589.8,1076.9 1590.2,1078.0 1590.6,1081.4 1591.0,1085.8 1591.4,1090.8 1591.8,1094.8 1592.2,1097.6 1592.6,1099.7 1593.0,1101.5 1593.4,1102.8 1593.8,1103.4 1594.2,1103.6 1594.6,1103.9 1595.0,1104.2 1595.4,1104.4 1595.8,1104.9 1596.2,1105.1 1596.6,1104.9 1597.0,1105.2 1597.4,1105.9 1597.8,1106.1 1598.2,1106.3 1598.6,1106.3 1599.0,1106.2 1599.4,1106.3 1599.8,1106.7 1600.2,1106.6 1600.6,1106.0 1601.0,1105.5 1601.4,1105.6 1601.8,1105.9 1602.2,1106.0 1602.6,1106.3 1603.0,1106.5 1603.4,1106.5 1603.8,1106.4 1604.2,1106.4 1604.6,1106.3 1605.0,1106.1 1605.4,1105.9 1605.8,1105.9 1606.2,1106.1 1606.6,1106.0 1607.0,1105.7 1607.4,1105.6 1607.8,1105.9 1608.2,1105.8 1608.6,1105.6 1609.0,1105.3 1609.4,1104.7 1609.8,1104.4 1610.2,1103.8 1610.6,1103.1 1611.0,1102.8 1611.4,1102.6 1611.8,1102.1 1612.2,1101.4 1612.6,1100.7 1613.0,1100.3 1613.4,1100.0 1613.8,1099.5 1614.2,1099.3 1614.6,1099.4 1615.0,1099.4 1615.4,1099.7 1615.8,1099.7 1616.2,1099.6 1616.6,1099.8 1617.0,1100.4 1617.4,1101.3 1617.8,1102.0 1618.2,1102.6 1618.6,1103.2 1619.0,1103.6 1619.4,1103.8 1619.8,1103.9 1620.2,1104.4 1620.6,1105.0 1621.0,1105.8 1621.4,1105.9 1621.8,1105.6 1622.2,1105.9 1622.6,1106.4 1623.0,1106.5 1623.4,1106.6 1623.8,1106.6 1624.2,1106.6 1624.6,1106.6 1625.0,1106.4 1625.4,1106.3 1625.8,1106.6 1626.2,1107.0 1626.6,1106.8 1627.0,1106.6 1627.4,1106.9 1627.8,1107.2 1628.2,1107.1 1628.6,1107.0 1629.0,1106.6 1629.4,1106.4 1629.8,1106.5 1630.2,1106.4 1630.6,1106.8 1631.0,1107.3 1631.4,1107.2 1631.8,1107.0 1632.2,1106.9 1632.6,1106.8 1633.0,1106.6 1633.4,1106.7 1633.8,1106.9 1634.2,1106.8 1634.6,1106.3 1635.0,1106.1 1635.4,1106.4 1635.8,1106.6 1636.2,1106.8 1636.6,1106.8 1637.0,1106.7 1637.4,1106.7 1637.8,1107.0 1638.2,1107.6 1638.6,1107.7 1639.0,1107.2 1639.4,1106.8 1639.8,1106.9 1640.2,1106.9 1640.6,1106.8 1641.0,1106.9 1641.4,1107.2 1641.8,1107.4 1642.2,1107.6 1642.6,1107.5 1643.0,1107.2 1643.4,1107.1 1643.8,1106.9 1644.2,1106.7 1644.6,1106.8 1645.0,1107.0 1645.4,1107.3 1645.8,1107.1 1646.2,1106.5 1646.6,1106.5 1647.0,1106.9 1647.4,1107.2 1647.8,1107.1 1648.2,1107.0 1648.6,1106.9 1649.0,1106.7 1649.4,1106.9 1649.8,1107.1 1650.2,1106.9 1650.6,1106.8 1651.0,1107.1 1651.4,1107.5 1651.8,1107.5 1652.2,1106.9 1652.6,1106.7 1653.0,1106.7 1653.4,1106.6 1653.8,1106.5 1654.2,1106.6 1654.6,1107.1 1655.0,1107.3 1655.4,1106.6 1655.8,1105.8 1656.2,1105.8 1656.6,1106.0 1657.0,1105.9 1657.4,1105.8 1657.8,1105.8 1658.2,1105.8 1658.6,1105.7 1659.0,1105.3 1659.4,1104.9 1659.8,1104.7 1660.2,1104.4 1660.6,1103.8 1661.0,1103.6 1661.4,1103.4 1661.8,1102.5 1662.2,1101.3 1662.6,1099.7 1663.0,1097.5 1663.4,1094.5 1663.8,1090.4 1664.2,1085.0 1664.6,1079.2 1665.0,1073.5 1665.4,1069.6 1665.8,1069.7 1666.2,1073.5 1666.6,1078.7 1667.0,1084.3 1667.4,1089.6 1667.8,1093.3 1668.2,1096.0 1668.6,1098.1 1669.0,1099.2 1669.4,1099.0 1669.8,1098.3 1670.2,1097.6 1670.6,1095.9 1671.0,1093.2 1671.4,1090.5 1671.8,1088.1 1672.2,1087.0 1672.6,1087.9 1673.0,1090.6 1673.4,1094.1 1673.8,1097.0 1674.2,1099.0 1674.6,1101.1 1675.0,1102.4 1675.4,1102.9 1675.8,1103.7 1676.2,1104.5 1676.6,1105.0 1677.0,1105.4 1677.4,1105.4 1677.8,1105.5 1678.2,1105.5 1678.6,1105.5 1679.0,1106.0 1679.4,1106.7 1679.8,1106.6 1680.2,1106.6 1680.6,1106.9 1681.0,1106.8 1681.4,1106.5 1681.8,1106.6 1682.2,1106.7 1682.6,1106.3 1683.0,1106.3 1683.4,1106.8 1683.8,1107.0 1684.2,1107.2 1684.6,1107.5 1685.0,1107.0 1685.4,1106.7 1685.8,1106.8 1686.2,1106.8 1686.6,1107.0 1687.0,1107.2 1687.4,1106.6 1687.8,1106.3 1688.2,1106.5 1688.6,1106.6 1689.0,1106.7 1689.4,1106.8 1689.8,1107.2 1690.2,1107.6 1690.6,1107.6 1691.0,1107.6 1691.4,1107.2 1691.8,1106.6 1692.2,1106.5 1692.6,1106.9 1693.0,1107.5 1693.4,1107.6 1693.8,1106.9 1694.2,1106.6 1694.6,1106.8 1695.0,1106.9 1695.4,1106.9 1695.8,1106.8 1696.2,1106.8 1696.6,1106.7 1697.0,1106.7 1697.4,1107.2 1697.8,1107.3 1698.2,1106.8 1698.6,1106.4 1699.0,1106.7 1699.4,1107.0 1699.8,1107.2 1700.2,1107.2 1700.6,1106.9 1701.0,1106.7 1701.4,1107.0 1701.8,1107.4 1702.2,1107.2 1702.6,1106.8 1703.0,1106.8 1703.4,1106.8 1703.8,1106.8 1704.2,1107.1 1704.6,1107.3 1705.0,1107.1 1705.4,1106.9 1705.8,1106.9 1706.2,1106.9 1706.6,1106.9 1707.0,1106.7 1707.4,1106.6 1707.8,1106.8 1708.2,1106.9 1708.6,1106.9 1709.0,1106.7 1709.4,1106.4 1709.8,1106.3 1710.2,1106.4 1710.6,1106.4 1711.0,1106.0 1711.4,1106.0 1711.8,1106.5 1712.2,1106.4 1712.6,1106.2 1713.0,1106.2 1713.4,1106.0 1713.8,1105.9 1714.2,1106.0 1714.6,1106.2 1715.0,1106.3 1715.4,1105.9 1715.8,1105.5 1716.2,1105.3 1716.6,1105.5 1717.0,1105.7 1717.4,1105.7 1717.8,1105.5 1718.2,1105.6 1718.6,1105.9 1719.0,1105.9 1719.4,1105.9 1719.8,1106.0 1720.2,1105.9 1720.6,1105.7 1721.0,1105.7 1721.4,1105.5 1721.8,1105.4 1722.2,1105.5 1722.6,1105.6 1723.0,1105.8 1723.4,1105.7 1723.8,1105.5 1724.2,1105.7 1724.6,1105.9 1725.0,1105.8 1725.4,1105.7 1725.8,1105.8 1726.2,1105.8" fill="none" stroke="#505050" stroke-width="8.0" stroke-linejoin="round" stroke-linecap="butt"/>
<path d="M165.0,768.9 165.4,768.8 165.8,768.8 166.2,768.9 166.6,768.8 167.0,768.8 167.4,768.9 167.8,768.8 168.2,768.7 168.6,768.8 169.0,769.2 169.4,769.4 169.8,769.1 170.2,768.9 170.6,769.0 171.0,768.9 171.4,769.0 171.8,769.1 172.2,769.0 172.6,768.9 173.0,768.9 173.4,768.9 173.8,769.0 174.2,768.8 174.6,768.9 175.0,768.9 175.4,768.8 175.8,768.7 176.2,768.7 176.6,768.8 177.0,769.1 177.4,769.1 177.8,768.8 178.2,768.9 178.6,769.2 179.0,769.3 179.4,769.1 179.8,768.9 180.2,769.0 180.6,769.1 181.0,769.0 181.4,768.9 181.8,768.9 182.2,769.2 182.6,769.3 183.0,769.1 183.4,769.1 183.8,769.0 184.2,768.9 184.6,769.0 185.0,769.1 185.4,769.0 185.8,768.9 186.2,769.0 186.6,769.2 187.0,769.2 187.4,769.0 187.8,769.0 188.2,768.9 188.6,768.7 189.0,768.8 189.4,768.9 189.8,769.0 190.2,768.9 190.6,768.7 191.0,768.8 191.4,768.8 191.8,768.8 192.2,769.0 192.6,769.1 193.0,769.0 193.4,769.0 193.8,769.0 194.2,768.9 194.6,769.0 195.0,769.0 195.4,768.7 195.8,768.8 196.2,768.9 196.6,768.7 197.0,768.8 197.4,769.0 197.8,769.2 198.2,769.2 198.6,768.9 199.0,768.9 199.4,769.2 199.8,769.2 200.2,769.0 200.6,769.0 201.0,769.1 201.4,769.1 201.8,769.2 202.2,769.1 202.6,768.9 203.0,769.1 203.4,769.1 203.8,769.1 204.2,769.0 204.6,768.8 205.0,769.0 205.4,769.1 205.8,768.9 206.2,769.0 206.6,769.2 207.0,769.5 207.4,769.5 207.8,769.1 208.2,768.9 208.6,768.8 209.0,768.9 209.4,768.8 209.8,768.8 210.2,768.8 210.6,768.9 211.0,768.8 211.4,768.8 211.8,769.0 212.2,769.2 212.6,768.9 213.0,768.8 213.4,769.0 213.8,769.0 214.2,769.1 214.6,769.2 215.0,769.3 215.4,769.1 215.8,769.0 216.2,769.0 216.6,768.8 217.0,768.8 217.4,768.8 217.8,768.8 218.2,769.0 218.6,769.1 219.0,769.0 219.4,768.9 219.8,769.0 220.2,769.1 220.6,768.9 221.0,768.8 221.4,768.7 221.8,768.6 222.2,768.8 222.6,769.4 223.0,769.5 223.4,769.3 223.8,769.1 224.2,769.1 224.6,769.2 225.0,769.1 225.4,769.0 225.8,768.8 226.2,768.7 226.6,768.9 227.0,769.2 227.4,769.1 227.8,769.1 228.2,769.2 228.6,768.9 229.0,768.8 229.4,768.9 229.8,768.8 230.2,768.7 230.6,768.8 231.0,769.0 231.4,769.0 231.8,769.2 232.2,769.5 232.6,769.3 233.0,768.9 233.4,768.6 233.8,768.7 234.2,768.8 234.6,768.6 235.0,768.5 235.4,768.6 235.8,768.6 236.2,768.6 236.6,768.8 237.0,768.9 237.4,768.7 237.8,768.5 238.2,768.6 238.6,768.7 239.0,768.5 239.4,768.3 239.8,768.3 240.2,768.5 240.6,768.6 241.0,768.6 241.4,768.5 241.8,768.2 242.2,768.0 242.6,768.2 243.0,768.5 243.4,768.5 243.8,768.4 244.2,768.4 244.6,768.1 245.0,768.0 245.4,768.0 245.8,768.2 246.2,768.4 246.6,768.3 247.0,768.0 247.4,768.1 247.8,768.1 248.2,767.9 248.6,767.8 249.0,767.7 249.4,767.9 249.8,767.8 250.2,767.7 250.6,767.7 251.0,767.8 251.4,767.8 251.8,767.9 252.2,767.9 252.6,767.7 253.0,767.9 253.4,768.1 253.8,767.9 254.2,767.6 254.6,767.6 255.0,767.6 255.4,767.8 255.8,767.9 256.2,767.9 256.6,767.9 257.0,767.8 257.4,767.8 257.8,767.6 258.2,767.4 258.6,767.3 259.0,767.2 259.4,767.2 259.8,767.4 260.2,767.3 260.6,767.2 261.0,767.0 261.4,767.0 261.8,767.2 262.2,767.3 262.6,767.3 263.0,767.3 263.4,767.2 263.8,767.3 264.2,767.3 264.6,767.1 265.0,767.1 265.4,767.1 265.8,767.1 266.2,766.9 266.6,766.6 267.0,766.8 267.4,767.0 267.8,766.9 268.2,767.0 268.6,767.1 269.0,766.9 269.4,766.7 269.8,766.5 270.2,766.4 270.6,766.3 271.0,766.3 271.4,766.3 271.8,766.2 272.2,766.1 272.6,765.8 273.0,765.7 273.4,765.7 273.8,765.5 274.2,765.4 274.6,765.1 275.0,764.8 275.4,764.1 275.8,762.1 276.2,758.1 276.6,751.8 277.0,744.0 277.4,737.5 277.8,737.4 278.2,743.8 278.6,751.6 279.0,757.8 279.4,761.6 279.8,763.4 280.2,764.5 280.6,765.4 281.0,765.6 281.4,765.7 281.8,765.9 282.2,765.8 282.6,765.8 283.0,765.9 283.4,765.9 283.8,765.9 284.2,766.0 284.6,766.2 285.0,766.3 285.4,766.3 285.8,766.1 286.2,766.1 286.6,766.2 287.0,766.2 287.4,766.2 287.8,766.4 288.2,766.4 288.6,766.3 289.0,766.3 289.4,766.0 289.8,766.0 290.2,766.2 290.6,766.2 291.0,766.1 291.4,766.2 291.8,766.3 292.2,766.3 292.6,766.2 293.0,766.5 293.4,766.9 293.8,766.6 294.2,766.2 294.6,766.5 295.0,766.7 295.4,766.8 295.8,766.6 296.2,766.6 296.6,766.8 297.0,766.7 297.4,766.4 297.8,766.6 298.2,766.7 298.6,766.8 299.0,766.8 299.4,766.8 299.8,766.8 300.2,766.8 300.6,766.7 301.0,766.7 301.4,766.8 301.8,766.9 302.2,767.0 302.6,767.1 303.0,767.1 303.4,767.1 303.8,767.2 304.2,767.1 304.6,767.0 305.0,766.9 305.4,767.0 305.8,767.2 306.2,767.3 306.6,767.2 307.0,766.9 307.4,766.8 307.8,766.9 308.2,767.1 308.6,767.5 309.0,767.4 309.4,767.0 309.8,767.0 310.2,767.1 310.6,767.2 311.0,767.3 311.4,767.5 311.8,767.5 312.2,767.2 312.6,767.1 313.0,767.3 313.4,767.4 313.8,767.5 314.2,767.4 314.6,767.5 315.0,767.5 315.4,767.3 315.8,767.4 316.2,767.7 316.6,767.9 317.0,767.7 317.4,767.6 317.8,767.6 318.2,767.5 318.6,767.4 319.0,767.6 319.4,767.8 319.8,767.5 320.2,767.4 320.6,767.7 321.0,768.0 321.4,768.0 321.8,768.0 322.2,768.2 322.6,768.1 323.0,767.9 323.4,767.7 323.8,767.7 324.2,767.8 324.6,767.8 325.0,767.8 325.4,768.0 325.8,767.9 326.2,767.8 326.6,767.8 327.0,767.6 327.4,767.6 327.8,767.8 328.2,768.0 328.6,768.0 329.0,768.1 329.4,768.0 329.8,768.0 330.2,768.0 330.6,768.1 331.0,768.1 331.4,768.1 331.8,767.9 332.2,767.8 332.6,768.0 333.0,768.2 333.4,767.9 333.8,767.8 334.2,768.0 334.6,768.2 335.0,768.0 335.4,768.0 335.8,768.2 336.2,768.2 336.6,768.3 337.0,768.4 337.4,768.3 337.8,768.3 338.2,768.4 338.6,768.3 339.0,768.1 339.4,768.0 339.8,768.2 340.2,768.5 340.6,768.5 341.0,768.5 341.4,768.5 341.8,768.4 342.2,768.4 342.6,768.2 343.0,768.1 343.4,768.2 343.8,768.3 344.2,768.4 344.6,768.7 345.0,768.8 345.4,768.6 345.8,768.5 346.2,768.6 346.6,768.6 347.0,768.5 347.4,768.3 347.8,768.4 348.2,768.4 348.6,768.4 349.0,768.4 349.4,768.5 349.8,768.6 350.2,768.7 350.6,768.8 351.0,768.7 351.4,768.4 351.8,768.5 352.2,768.9 352.6,768.9 353.0,768.8 353.4,768.8 353.8,768.8 354.2,768.8 354.6,768.9 355.0,768.8 355.4,768.5 355.8,768.4 356.2,768.7 356.6,769.0 357.0,768.9 357.4,768.6 357.8,768.8 358.2,769.0 358.6,768.9 359.0,768.9 359.4,768.9 359.8,768.8 360.2,768.9 360.6,769.0 361.0,768.8 361.4,768.7 361.8,768.9 362.2,769.2 362.6,769.3 363.0,769.2 363.4,769.2 363.8,769.2 364.2,769.4 364.6,769.5 365.0,769.2 365.4,769.1 365.8,769.3 366.2,769.2 366.6,769.1 367.0,769.1 367.4,769.2 367.8,769.5 368.2,769.2 368.6,769.0 369.0,769.1 369.4,769.3 369.8,769.5 370.2,769.3 370.6,769.0 371.0,769.1 371.4,769.1 371.8,769.1 372.2,769.0 372.6,769.0 373.0,769.1 373.4,768.9 373.8,768.7 374.2,768.7 374.6,768.3 375.0,767.6 375.4,766.9 375.8,766.4 376.2,766.4 376.6,766.8 377.0,767.3 377.4,767.9 377.8,768.4 378.2,768.9 378.6,769.2 379.0,769.6 379.4,769.9 379.8,769.7 380.2,769.4 380.6,769.2 381.0,769.2 381.4,769.6 381.8,769.5 382.2,769.5 382.6,769.7 383.0,769.9 383.4,770.0 383.8,770.0 384.2,769.7 384.6,769.5 385.0,769.6 385.4,769.7 385.8,769.6 386.2,769.6 386.6,769.8 387.0,769.9 387.4,769.7 387.8,769.6 388.2,769.6 388.6,769.6 389.0,769.8 389.4,769.8 389.8,769.7 390.2,769.6 390.6,769.8 391.0,770.1 391.4,769.9 391.8,769.6 392.2,769.6 392.6,769.7 393.0,769.8 393.4,769.8 393.8,769.8 394.2,769.9 394.6,770.1 395.0,770.0 395.4,769.9 395.8,769.8 396.2,769.8 396.6,770.0 397.0,770.0 397.4,769.9 397.8,769.9 398.2,770.0 398.6,770.2 399.0,770.1 399.4,770.0 399.8,770.0 400.2,769.9 400.6,769.9 401.0,769.9 401.4,770.0 401.8,770.1 402.2,770.2 402.6,770.1 403.0,769.9 403.4,769.8 403.8,769.8 404.2,769.7 404.6,769.7 405.0,770.0 405.4,770.0 405.8,769.9 406.2,769.6 406.6,769.5 407.0,769.5 407.4,769.9 407.8,770.2 408.2,770.2 408.6,770.0 409.0,769.9 409.4,770.0 409.8,770.1 410.2,770.2 410.6,770.2 411.0,770.1 411.4,770.1 411.8,770.2 412.2,770.2 412.6,769.9 413.0,769.7 413.4,769.9 413.8,770.2 414.2,770.3 414.6,770.3 415.0,770.2 415.4,770.2 415.8,770.3 416.2,770.3 416.6,770.3 417.0,770.5 417.4,770.5 417.8,770.4 418.2,770.0 418.6,770.0 419.0,770.1 419.4,770.0 419.8,770.0 420.2,770.2 420.6,770.1 421.0,769.9 421.4,769.8 421.8,769.9 422.2,770.0 422.6,770.1 423.0,770.4 423.4,770.5 423.8,770.2 424.2,770.1 424.6,770.4 425.0,770.4 425.4,770.1 425.8,770.0 426.2,770.2 426.6,770.4 427.0,770.4 427.4,770.2 427.8,770.1 428.2,770.1 428.6,770.2 429.0,770.4 429.4,770.4 429.8,770.2 430.2,770.1 430.6,770.2 431.0,770.3 431.4,770.2 431.8,770.0 432.2,770.1 432.6,770.2 433.0,770.4 433.4,770.6 433.8,770.5 434.2,770.3 434.6,770.2 435.0,770.2 435.4,770.2 435.8,770.1 436.2,770.2 436.6,770.3 437.0,770.3 437.4,770.0 437.8,769.9 438.2,770.1 438.6,770.2 439.0,770.2 439.4,770.1 439.8,769.9 440.2,770.0 440.6,770.3 441.0,770.3 441.4,770.1 441.8,770.1 442.2,770.2 442.6,770.3 443.0,770.3 443.4,770.3 443.8,770.3 444.2,770.2 444.6,770.4 445.0,770.4 445.4,770.1 445.8,770.0 446.2,769.9 446.6,769.7 447.0,769.9 447.4,770.3 447.8,770.3 448.2,770.1 448.6,770.0 449.0,770.0 449.4,770.0 449.8,769.9 450.2,769.8 450.6,770.0 451.0,770.3 451.4,770.6 451.8,770.4 452.2,770.2 452.6,770.2 453.0,770.2 453.4,769.9 453.8,769.8 454.2,769.9 454.6,770.1 455.0,770.1 455.4,770.0 455.8,770.0 456.2,770.1 456.6,770.2 457.0,770.3 457.4,770.2 457.8,770.2 458.2,770.1 458.6,770.2 459.0,770.1 459.4,770.0 459.8,770.0 460.2,770.1 460.6,770.1 461.0,770.2 461.4,770.2 461.8,770.1 462.2,770.1 462.6,770.2 463.0,770.3 463.4,770.2 463.8,770.1 464.2,770.1 464.6,770.2 465.0,770.2 465.4,770.2 465.8,770.1 466.2,769.9 466.6,769.8 467.0,770.0 467.4,770.4 467.8,770.6 468.2,770.4 468.6,770.0 469.0,769.9 469.4,770.1 469.8,770.1 470.2,770.0 470.6,770.2 471.0,770.2 471.4,769.9 471.8,769.9 472.2,770.1 472.6,770.2 473.0,770.0 473.4,769.9 473.8,770.0 474.2,770.2 474.6,770.3 475.0,770.2 475.4,769.9 475.8,769.3 476.2,768.5 476.6,767.5 477.0,766.3 477.4,765.5 477.8,765.2 478.2,765.3 478.6,765.9 479.0,766.9 479.4,768.0 479.8,768.6 480.2,769.0 480.6,769.5 481.0,770.0 481.4,770.2 481.8,770.1 482.2,770.0 482.6,769.9 483.0,770.2 483.4,770.5 483.8,770.3 484.2,769.7 484.6,769.3 485.0,768.9 485.4,768.1 485.8,767.4 486.2,766.9 486.6,766.5 487.0,766.2 487.4,766.4 487.8,766.9 488.2,767.8 488.6,768.5 489.0,769.1 489.4,769.7 489.8,770.2 490.2,770.4 490.6,770.2 491.0,770.0 491.4,769.9 491.8,770.0 492.2,769.9 492.6,769.9 493.0,770.1 493.4,770.2 493.8,770.1 494.2,770.0 494.6,770.0 495.0,769.9 495.4,770.0 495.8,770.3 496.2,770.5 496.6,770.4 497.0,770.2 497.4,770.2 497.8,770.4 498.2,770.5 498.6,770.3 499.0,770.1 499.4,770.2 499.8,770.2 500.2,770.2 500.6,770.3 501.0,770.4 501.4,770.4 501.8,770.3 502.2,770.1 502.6,770.1 503.0,770.1 503.4,770.2 503.8,770.4 504.2,770.3 504.6,770.1 505.0,770.3 505.4,770.3 505.8,770.4 506.2,770.4 506.6,770.4 507.0,770.1 507.4,769.7 507.8,769.7 508.2,769.9 508.6,770.3 509.0,770.5 509.4,770.2 509.8,770.0 510.2,770.2 510.6,770.3 511.0,770.2 511.4,770.2 511.8,770.1 512.2,770.1 512.6,770.2 513.0,770.1 513.4,770.0 513.8,770.2 514.2,770.5 514.6,770.7 515.0,770.5 515.4,770.1 515.8,770.0 516.2,770.1 516.6,770.2 517.0,770.1 517.4,770.0 517.8,769.9 518.2,770.0 518.6,770.3 519.0,770.3 519.4,770.2 519.8,770.2 520.2,770.2 520.6,770.1 521.0,770.2 521.4,770.2 521.8,770.1 522.2,770.2 522.6,770.2 523.0,770.1 523.4,770.0 523.8,769.9 524.2,770.0 524.6,770.0 525.0,769.9 525.4,769.8 525.8,769.5 526.2,769.0 526.6,768.2 527.0,767.4 527.4,766.5 527.8,765.5 528.2,765.0 528.6,765.3 529.0,766.0 529.4,766.9 529.8,767.8 530.2,768.4 530.6,769.0 531.0,769.4 531.4,769.6 531.8,769.7 532.2,770.0 532.6,770.3 533.0,770.1 533.4,769.8 533.8,769.8 534.2,770.1 534.6,770.2 535.0,770.2 535.4,770.2 535.8,770.1 536.2,770.1 536.6,770.2 537.0,770.2 537.4,770.3 537.8,770.3 538.2,770.1 538.6,770.0 539.0,770.1 539.4,770.2 539.8,770.1 540.2,770.0 540.6,770.2 541.0,770.4 541.4,770.3 541.8,770.2 542.2,770.3 542.6,770.5 543.0,770.2 543.4,770.0 543.8,770.1 544.2,770.1 544.6,770.0 545.0,769.9 545.4,769.9 545.8,770.0 546.2,770.3 546.6,770.3 547.0,770.0 547.4,770.1 547.8,770.2 548.2,770.1 548.6,770.1 549.0,770.2 549.4,770.2 549.8,770.1 550.2,770.0 550.6,770.1 551.0,770.2 551.4,770.0 551.8,770.0 552.2,770.2 552.6,770.3 553.0,770.3 553.4,770.0 553.8,769.9 554.2,770.2 554.6,770.5 555.0,770.5 555.4,770.4 555.8,770.3 556.2,770.1 556.6,770.0 557.0,770.1 557.4,770.2 557.8,770.4 558.2,770.3 558.6,770.1 559.0,770.1 559.4,770.2 559.8,770.3 560.2,770.4 560.6,770.3 561.0,770.2 561.4,770.0 561.8,770.1 562.2,770.4 562.6,770.4 563.0,770.3 563.4,770.3 563.8,770.2 564.2,770.2 564.6,770.2 565.0,770.3 565.4,770.2 565.8,770.1 566.2,770.1 566.6,770.1 567.0,770.2 567.4,770.2 567.8,770.2 568.2,770.2 568.6,770.0 569.0,770.0 569.4,770.1 569.8,770.3 570.2,770.3 570.6,770.2 571.0,770.1 571.4,770.2 571.8,770.2 572.2,770.4 572.6,770.6 573.0,770.4 573.4,770.0 573.8,770.0 574.2,770.2 574.6,770.3 575.0,770.3 575.4,770.3 575.8,770.2 576.2,770.1 576.6,770.1 577.0,770.1 577.4,770.1 577.8,770.3 578.2,770.1 578.6,770.0 579.0,770.0 579.4,769.9 579.8,769.9 580.2,770.2 580.6,770.5 581.0,770.7 581.4,770.3 581.8,770.0 582.2,770.1 582.6,770.2 583.0,770.0 583.4,770.2 583.8,770.3 584.2,770.1 584.6,769.8 585.0,769.5 585.4,769.3 585.8,769.0 586.2,768.8 586.6,768.2 587.0,767.1 587.4,766.1 587.8,765.6 588.2,765.2 588.6,764.9 589.0,765.1 589.4,765.9 589.8,766.7 590.2,767.5 590.6,768.1 591.0,768.6 591.4,769.3 591.8,769.6 592.2,769.7 592.6,769.8 593.0,769.9 593.4,769.9 593.8,770.0 594.2,769.9 594.6,770.0 595.0,770.4 595.4,770.5 595.8,770.5 596.2,770.4 596.6,770.3 597.0,770.4 597.4,770.4 597.8,770.5 598.2,770.3 598.6,770.2 599.0,770.3 599.4,770.2 599.8,769.9 600.2,769.8 600.6,769.9 601.0,770.0 601.4,770.2 601.8,770.3 602.2,770.3 602.6,770.3 603.0,770.1 603.4,770.0 603.8,770.2 604.2,770.2 604.6,770.1 605.0,770.0 605.4,770.3 605.8,770.4 606.2,770.2 606.6,770.1 607.0,770.0 607.4,770.0 607.8,770.0 608.2,770.2 608.6,770.5 609.0,770.3 609.4,770.2 609.8,770.1 610.2,770.1 610.6,770.2 611.0,770.2 611.4,770.0 611.8,770.0 612.2,770.2 612.6,770.4 613.0,770.3 613.4,770.0 613.8,770.0 614.2,770.1 614.6,770.1 615.0,770.2 615.4,770.1 615.8,770.0 616.2,770.3 616.6,770.5 617.0,770.4 617.4,770.2 617.8,770.1 618.2,770.1 618.6,770.1 619.0,769.9 619.4,769.9 619.8,770.1 620.2,770.1 620.6,770.1 621.0,770.2 621.4,770.2 621.8,770.3 622.2,770.2 622.6,770.2 623.0,770.2 623.4,770.1 623.8,770.1 624.2,770.0 624.6,770.0 625.0,770.1 625.4,770.2 625.8,770.1 626.2,769.8 626.6,769.5 627.0,769.6 627.4,769.6 627.8,769.2 628.2,768.7 628.6,767.9 629.0,767.0 629.4,766.1 629.8,765.5 630.2,765.2 630.6,765.1 631.0,765.3 631.4,765.7 631.8,766.5 632.2,767.3 632.6,768.1 633.0,768.8 633.4,769.2 633.8,769.6 634.2,769.9 634.6,770.1 635.0,770.1 635.4,770.1 635.8,770.2 636.2,770.2 636.6,770.0 637.0,769.8 637.4,769.8 637.8,769.7 638.2,769.5 638.6,769.4 639.0,769.5 639.4,769.4 639.8,769.1 640.2,768.6 640.6,768.0 641.0,767.1 641.4,766.1 641.8,764.9 642.2,763.5 642.6,762.8 643.0,762.5 643.4,762.7 643.8,763.7 644.2,765.1 644.6,766.2 645.0,767.2 645.4,768.2 645.8,768.8 646.2,769.1 646.6,769.4 647.0,769.7 647.4,769.9 647.8,770.0 648.2,770.0 648.6,769.9 649.0,769.9 649.4,769.8 649.8,769.9 650.2,770.0 650.6,769.9 651.0,769.9 651.4,770.1 651.8,770.1 652.2,769.8 652.6,769.4 653.0,769.0 653.4,768.7 653.8,768.5 654.2,768.2 654.6,767.9 655.0,767.4 655.4,767.3 655.8,767.6 656.2,767.8 656.6,767.8 657.0,768.3 657.4,768.9 657.8,769.2 658.2,769.3 658.6,769.4 659.0,769.5 659.4,770.0 659.8,770.2 660.2,770.0 660.6,769.8 661.0,769.8 661.4,769.9 661.8,770.2 662.2,770.2 662.6,770.1 663.0,769.8 663.4,770.0 663.8,770.3 664.2,770.2 664.6,770.1 665.0,770.0 665.4,770.0 665.8,770.0 666.2,769.9 666.6,769.8 667.0,769.9 667.4,770.3 667.8,770.3 668.2,770.3 668.6,770.2 669.0,770.0 669.4,769.9 669.8,770.0 670.2,770.1 670.6,770.0 671.0,769.7 671.4,769.5 671.8,769.5 672.2,769.2 672.6,768.5 673.0,767.7 673.4,766.6 673.8,765.2 674.2,763.8 674.6,762.8 675.0,762.1 675.4,762.0 675.8,762.5 676.2,763.4 676.6,764.6 677.0,766.2 677.4,767.5 677.8,768.3 678.2,768.9 678.6,769.5 679.0,769.7 679.4,769.6 679.8,769.5 680.2,769.7 680.6,770.0 681.0,770.0 681.4,770.0 681.8,770.0 682.2,769.8 682.6,769.8 683.0,769.6 683.4,769.1 683.8,768.8 684.2,768.5 684.6,767.7 685.0,766.7 685.4,765.6 685.8,764.2 686.2,762.7 686.6,761.3 687.0,760.2 687.4,759.9 687.8,760.3 688.2,760.9 688.6,761.9 689.0,763.4 689.4,765.2 689.8,766.6 690.2,767.4 690.6,768.2 691.0,769.0 691.4,769.4 691.8,769.4 692.2,769.4 692.6,769.8 693.0,770.0 693.4,770.1 693.8,770.0 694.2,770.0 694.6,770.1 695.0,770.0 695.4,770.0 695.8,770.1 696.2,769.8 696.6,769.6 697.0,769.7 697.4,769.9 697.8,769.8 698.2,769.8 698.6,769.8 699.0,769.7 699.4,769.6 699.8,769.6 700.2,769.4 700.6,769.0 701.0,768.5 701.4,767.9 701.8,767.1 702.2,765.9 702.6,764.9 703.0,763.8 703.4,762.6 703.8,761.5 704.2,760.7 704.6,760.3 705.0,760.3 705.4,761.1 705.8,762.3 706.2,763.5 706.6,764.5 707.0,765.5 707.4,766.4 707.8,767.1 708.2,767.7 708.6,768.4 709.0,769.0 709.4,769.5 709.8,769.8 710.2,769.8 710.6,769.7 711.0,769.8 711.4,770.1 711.8,770.2 712.2,770.1 712.6,770.1 713.0,770.1 713.4,770.0 713.8,769.9 714.2,770.0 714.6,769.8 715.0,769.9 715.4,770.2 715.8,770.2 716.2,770.0 716.6,770.1 717.0,770.2 717.4,769.9 717.8,769.8 718.2,770.1 718.6,770.0 719.0,769.7 719.4,769.5 719.8,769.6 720.2,769.8 720.6,769.9 721.0,770.0 721.4,770.0 721.8,770.0 722.2,770.1 722.6,770.3 723.0,770.1 723.4,769.8 723.8,769.8 724.2,770.1 724.6,770.1 725.0,769.8 725.4,769.7 725.8,769.6 726.2,769.4 726.6,769.5 727.0,769.8 727.4,769.9 727.8,770.1 728.2,770.0 728.6,770.1 729.0,770.3 729.4,770.1 729.8,769.7 730.2,769.5 730.6,769.3 731.0,769.2 731.4,769.4 731.8,769.4 732.2,769.3 732.6,769.3 733.0,769.0 733.4,768.6 733.8,768.5 734.2,768.5 734.6,768.4 735.0,767.9 735.4,766.7 735.8,764.5 736.2,759.8 736.6,750.5 737.0,735.0 737.4,713.6 737.8,690.5 738.2,672.4 738.6,665.6 739.0,670.3 739.4,680.7 739.8,692.7 740.2,705.6 740.6,720.1 741.0,734.8 741.4,747.6 741.8,756.8 742.2,762.7 742.6,766.1 743.0,767.5 743.4,767.9 743.8,768.4 744.2,768.9 744.6,769.0 745.0,769.1 745.4,769.2 745.8,769.3 746.2,769.5 746.6,769.6 747.0,769.5 747.4,769.5 747.8,769.7 748.2,769.8 748.6,769.8 749.0,769.6 749.4,769.6 749.8,769.7 750.2,769.7 750.6,769.8 751.0,770.0 751.4,770.2 751.8,770.3 752.2,770.2 752.6,769.8 753.0,769.4 753.4,769.6 753.8,769.9 754.2,769.9 754.6,770.0 755.0,770.0 755.4,769.9 755.8,769.9 756.2,769.9 756.6,769.8 757.0,769.8 757.4,769.7 757.8,769.6 758.2,769.7 758.6,769.9 759.0,769.9 759.4,770.0 759.8,770.0 760.2,770.0 760.6,770.0 761.0,769.8 761.4,769.9 761.8,770.3 762.2,770.3 762.6,769.8 763.0,769.4 763.4,769.2 763.8,769.2 764.2,769.0 764.6,768.6 765.0,768.2 765.4,767.7 765.8,767.1 766.2,766.3 766.6,765.3 767.0,764.4 767.4,764.0 767.8,763.9 768.2,763.9 768.6,764.0 769.0,764.5 769.4,765.3 769.8,766.1 770.2,766.8 770.6,767.4 771.0,768.0 771.4,768.7 771.8,769.1 772.2,769.3 772.6,769.5 773.0,769.7 773.4,769.7 773.8,769.6 774.2,769.6 774.6,769.7 775.0,769.9 775.4,769.8 775.8,769.7 776.2,769.7 776.6,769.8 777.0,769.8 777.4,769.8 777.8,769.7 778.2,769.5 778.6,769.6 779.0,769.9 779.4,769.8 779.8,769.6 780.2,769.7 780.6,769.8 781.0,769.8 781.4,769.6 781.8,769.6 782.2,769.6 782.6,769.3 783.0,769.2 783.4,769.3 783.8,769.3 784.2,769.1 784.6,768.8 785.0,768.3 785.4,768.0 785.8,767.1 786.2,765.0 786.6,760.6 787.0,752.2 787.4,739.1 787.8,722.1 788.2,704.6 788.6,692.7 789.0,690.9 789.4,697.1 789.8,705.7 790.2,713.7 790.6,721.8 791.0,731.7 791.4,742.4 791.8,752.2 792.2,759.5 792.6,764.0 793.0,766.5 793.4,767.8 793.8,768.7 794.2,768.8 794.6,769.0 795.0,769.3 795.4,769.5 795.8,769.7 796.2,769.8 796.6,769.8 797.0,769.9 797.4,769.7 797.8,769.7 798.2,769.7 798.6,769.5 799.0,769.5 799.4,769.8 799.8,769.9 800.2,769.9 800.6,769.9 801.0,769.9 801.4,770.1 801.8,770.1 802.2,769.9 802.6,769.9 803.0,769.9 803.4,769.9 803.8,770.0 804.2,770.2 804.6,770.2 805.0,770.0 805.4,769.8 805.8,770.0 806.2,770.2 806.6,770.1 807.0,770.0 807.4,770.0 807.8,770.1 808.2,769.9 808.6,769.7 809.0,769.8 809.4,769.9 809.8,769.8 810.2,770.0 810.6,770.3 811.0,770.5 811.4,770.5 811.8,770.1 812.2,769.9 812.6,769.9 813.0,769.8 813.4,769.9 813.8,770.1 814.2,770.1 814.6,770.1 815.0,770.2 815.4,770.2 815.8,770.1 816.2,770.2 816.6,770.4 817.0,770.3 817.4,770.2 817.8,770.2 818.2,770.2 818.6,770.2 819.0,770.2 819.4,770.0 819.8,769.7 820.2,769.7 820.6,770.0 821.0,770.4 821.4,770.4 821.8,770.1 822.2,769.9 822.6,769.9 823.0,770.1 823.4,770.2 823.8,770.0 824.2,769.8 824.6,769.8 825.0,770.0 825.4,770.2 825.8,770.2 826.2,770.1 826.6,769.9 827.0,769.8 827.4,770.0 827.8,770.1 828.2,770.1 828.6,770.1 829.0,770.0 829.4,770.1 829.8,770.2 830.2,770.1 830.6,770.1 831.0,770.1 831.4,770.0 831.8,769.9 832.2,769.9 832.6,770.1 833.0,770.3 833.4,770.3 833.8,770.3 834.2,770.0 834.6,769.9 835.0,770.1 835.4,770.2 835.8,770.3 836.2,770.3 836.6,770.3 837.0,769.9 837.4,769.7 837.8,770.0 838.2,770.2 838.6,770.2 839.0,770.2 839.4,770.2 839.8,770.0 840.2,769.8 840.6,770.0 841.0,770.2 841.4,770.1 841.8,769.8 842.2,769.6 842.6,769.7 843.0,769.9 843.4,770.1 843.8,770.3 844.2,770.2 844.6,770.0 845.0,769.9 845.4,770.0 845.8,769.9 846.2,769.9 846.6,770.0 847.0,769.9 847.4,769.7 847.8,769.7 848.2,769.9 848.6,769.9 849.0,769.9 849.4,769.9 849.8,769.8 850.2,770.0 850.6,770.0 851.0,769.8 851.4,769.7 851.8,769.6 852.2,769.6 852.6,769.7 853.0,769.6 853.4,769.5 853.8,769.4 854.2,769.5 854.6,769.7 855.0,769.4 855.4,768.8 855.8,768.7 856.2,768.9 856.6,768.9 857.0,768.9 857.4,769.0 857.8,769.0 858.2,768.8 858.6,768.5 859.0,768.1 859.4,767.8 859.8,767.4 860.2,767.3 860.6,767.3 861.0,766.8 861.4,766.0 861.8,765.3 862.2,764.4 862.6,762.9 863.0,760.1 863.4,754.5 863.8,742.7 864.2,719.5 864.6,680.3 865.0,624.0 865.4,557.5 865.8,497.4 866.2,464.8 866.6,469.4 867.0,498.1 867.4,530.3 867.8,556.3 868.2,580.3 868.6,610.8 869.0,647.9 869.4,685.3 869.8,716.7 870.2,738.8 870.6,752.0 871.0,759.1 871.4,762.7 871.8,764.4 872.2,765.4 872.6,766.2 873.0,766.9 873.4,767.5 873.8,767.7 874.2,767.7 874.6,768.1 875.0,768.5 875.4,768.7 875.8,769.0 876.2,769.1 876.6,769.1 877.0,768.9 877.4,769.0 877.8,769.1 878.2,769.2 878.6,769.3 879.0,769.6 879.4,769.8 879.8,769.8 880.2,769.9 880.6,769.7 881.0,769.6 881.4,769.8 881.8,769.9 882.2,769.6 882.6,769.5 883.0,769.6 883.4,769.4 883.8,769.4 884.2,769.6 884.6,769.8 885.0,769.9 885.4,769.8 885.8,769.8 886.2,769.8 886.6,769.6 887.0,769.4 887.4,769.3 887.8,769.4 888.2,769.3 888.6,768.9 889.0,768.7 889.4,768.5 889.8,768.3 890.2,768.0 890.6,767.6 891.0,767.2 891.4,766.9 891.8,766.7 892.2,766.6 892.6,766.3 893.0,766.0 893.4,765.7 893.8,765.5 894.2,765.4 894.6,765.4 895.0,765.4 895.4,765.4 895.8,765.5 896.2,765.7 896.6,765.9 897.0,766.3 897.4,766.7 897.8,767.0 898.2,767.1 898.6,767.2 899.0,767.6 899.4,768.1 899.8,768.3 900.2,768.5 900.6,768.9 901.0,769.4 901.4,769.7 901.8,769.7 902.2,769.6 902.6,769.8 903.0,769.8 903.4,769.9 903.8,769.9 904.2,769.7 904.6,769.8 905.0,770.1 905.4,770.3 905.8,770.1 906.2,770.1 906.6,770.1 907.0,770.0 907.4,770.0 907.8,770.2 908.2,770.4 908.6,770.2 909.0,769.8 909.4,769.7 909.8,770.0 910.2,770.3 910.6,770.3 911.0,770.1 911.4,770.1 911.8,770.4 912.2,770.4 912.6,770.1 913.0,770.0 913.4,770.3 913.8,770.5 914.2,770.5 914.6,770.3 915.0,770.1 915.4,770.1 915.8,770.2 916.2,770.2 916.6,770.2 917.0,770.1 917.4,770.1 917.8,770.2 918.2,770.0 918.6,769.8 919.0,769.8 919.4,770.1 919.8,770.2 920.2,770.0 920.6,770.0 921.0,770.1 921.4,770.1 921.8,770.0 922.2,770.2 922.6,770.4 923.0,770.4 923.4,770.4 923.8,770.4 924.2,770.5 924.6,770.4 925.0,770.3 925.4,770.4 925.8,770.3 926.2,770.1 926.6,770.0 927.0,770.0 927.4,769.8 927.8,769.9 928.2,770.0 928.6,769.9 929.0,769.9 929.4,769.9 929.8,769.9 930.2,770.1 930.6,770.3 931.0,770.4 931.4,770.4 931.8,770.2 932.2,770.1 932.6,770.3 933.0,770.5 933.4,770.5 933.8,770.3 934.2,770.2 934.6,770.3 935.0,770.1 935.4,769.9 935.8,769.8 936.2,769.7 936.6,769.6 937.0,770.0 937.4,770.2 937.8,770.4 938.2,770.5 938.6,770.5 939.0,770.4 939.4,770.3 939.8,770.1 940.2,769.9 940.6,770.0 941.0,770.4 941.4,770.6 941.8,770.3 942.2,770.1 942.6,770.2 943.0,770.4 943.4,770.5 943.8,770.5 944.2,770.6 944.6,770.6 945.0,770.4 945.4,770.4 945.8,770.6 946.2,770.3 946.6,770.1 947.0,770.1 947.4,770.1 947.8,770.1 948.2,770.1 948.6,770.1 949.0,770.1 949.4,770.0 949.8,769.9 950.2,770.1 950.6,770.2 951.0,770.2 951.4,770.1 951.8,770.2 952.2,770.2 952.6,770.1 953.0,770.3 953.4,770.1 953.8,769.9 954.2,770.1 954.6,770.2 955.0,770.1 955.4,770.1 955.8,770.2 956.2,770.4 956.6,770.4 957.0,770.4 957.4,770.4 957.8,770.4 958.2,770.4 958.6,770.3 959.0,770.3 959.4,770.3 959.8,770.5 960.2,770.5 960.6,770.4 961.0,770.3 961.4,770.3 961.8,770.4 962.2,770.5 962.6,770.5 963.0,770.4 963.4,770.4 963.8,770.4 964.2,770.4 964.6,770.5 965.0,770.6 965.4,770.6 965.8,770.5 966.2,770.4 966.6,770.5 967.0,770.4 967.4,770.4 967.8,770.4 968.2,770.3 968.6,770.2 969.0,770.3 969.4,770.4 969.8,770.4 970.2,770.3 970.6,770.5 971.0,770.6 971.4,770.4 971.8,770.4 972.2,770.5 972.6,770.5 973.0,770.6 973.4,770.4 973.8,770.2 974.2,770.2 974.6,770.3 975.0,770.3 975.4,770.3 975.8,770.5 976.2,770.6 976.6,770.6 977.0,770.4 977.4,770.4 977.8,770.5 978.2,770.4 978.6,770.3 979.0,770.3 979.4,770.2 979.8,770.1 980.2,770.3 980.6,770.5 981.0,770.5 981.4,770.3 981.8,770.2 982.2,770.4 982.6,770.4 983.0,770.3 983.4,770.4 983.8,770.4 984.2,770.3 984.6,770.4 985.0,770.6 985.4,770.6 985.8,770.5 986.2,770.6 986.6,770.7 987.0,770.5 987.4,770.5 987.8,770.5 988.2,770.3 988.6,770.2 989.0,770.3 989.4,770.5 989.8,770.5 990.2,770.2 990.6,770.2 991.0,770.3 991.4,770.3 991.8,770.3 992.2,770.5 992.6,770.5 993.0,770.4 993.4,770.3 993.8,770.5 994.2,770.7 994.6,770.6 995.0,770.2 995.4,770.0 995.8,770.1 996.2,770.2 996.6,770.3 997.0,770.6 997.4,770.7 997.8,770.6 998.2,770.4 998.6,770.3 999.0,770.3 999.4,770.1 999.8,770.1 1000.2,770.3 1000.6,770.3 1001.0,770.2 1001.4,770.2 1001.8,770.5 1002.2,770.6 1002.6,770.5 1003.0,770.4 1003.4,770.5 1003.8,770.6 1004.2,770.4 1004.6,770.1 1005.0,770.1 1005.4,770.5 1005.8,770.5 1006.2,770.3 1006.6,770.1 1007.0,770.0 1007.4,770.3 1007.8,770.5 1008.2,770.4 1008.6,770.4 1009.0,770.4 1009.4,770.3 1009.8,770.2 1010.2,770.2 1010.6,770.5 1011.0,770.6 1011.4,770.6 1011.8,770.4 1012.2,770.2 1012.6,770.2 1013.0,770.4 1013.4,770.4 1013.8,770.4 1014.2,770.2 1014.6,770.0 1015.0,770.1 1015.4,770.4 1015.8,770.4 1016.2,770.3 1016.6,770.6 1017.0,770.9 1017.4,770.6 1017.8,770.4 1018.2,770.4 1018.6,770.2 1019.0,770.3 1019.4,770.4 1019.8,770.3 1020.2,770.2 1020.6,770.5 1021.0,770.5 1021.4,770.5 1021.8,770.5 1022.2,770.5 1022.6,770.5 1023.0,770.4 1023.4,770.4 1023.8,770.4 1024.2,770.1 1024.6,770.2 1025.0,770.6 1025.4,770.8 1025.8,770.5 1026.2,770.2 1026.6,770.3 1027.0,770.2 1027.4,770.1 1027.8,770.3 1028.2,770.4 1028.6,770.4 1029.0,770.5 1029.4,770.6 1029.8,770.4 1030.2,770.4 1030.6,770.6 1031.0,770.5 1031.4,770.3 1031.8,770.6 1032.2,770.6 1032.6,770.3 1033.0,770.3 1033.4,770.6 1033.8,770.4 1034.2,770.3 1034.6,770.3 1035.0,770.2 1035.4,770.0 1035.8,770.0 1036.2,770.2 1036.6,770.2 1037.0,770.1 1037.4,770.3 1037.8,770.5 1038.2,770.5 1038.6,770.5 1039.0,770.5 1039.4,770.7 1039.8,770.7 1040.2,770.5 1040.6,770.3 1041.0,770.1 1041.4,770.3 1041.8,770.7 1042.2,770.5 1042.6,770.1 1043.0,770.1 1043.4,770.2 1043.8,770.4 1044.2,770.4 1044.6,770.4 1045.0,770.4 1045.4,770.4 1045.8,770.3 1046.2,770.2 1046.6,769.9 1047.0,770.0 1047.4,770.3 1047.8,770.5 1048.2,770.6 1048.6,770.7 1049.0,770.7 1049.4,770.5 1049.8,770.5 1050.2,770.4 1050.6,770.3 1051.0,770.3 1051.4,770.3 1051.8,770.2 1052.2,770.3 1052.6,770.5 1053.0,770.5 1053.4,770.2 1053.8,770.3 1054.2,770.4 1054.6,770.4 1055.0,770.3 1055.4,770.3 1055.8,770.4 1056.2,770.2 1056.6,770.1 1057.0,770.2 1057.4,770.4 1057.8,770.3 1058.2,770.1 1058.6,770.3 1059.0,770.2 1059.4,770.2 1059.8,770.3 1060.2,770.1 1060.6,769.9 1061.0,769.8 1061.4,770.0 1061.8,770.5 1062.2,770.5 1062.6,770.2 1063.0,769.8 1063.4,769.6 1063.8,769.7 1064.2,770.0 1064.6,770.0 1065.0,769.7 1065.4,769.5 1065.8,769.5 1066.2,769.2 1066.6,768.8 1067.0,768.3 1067.4,767.1 1067.8,764.3 1068.2,759.1 1068.6,750.5 1069.0,738.1 1069.4,723.8 1069.8,711.5 1070.2,705.5 1070.6,708.5 1071.0,717.4 1071.4,726.8 1071.8,732.7 1072.2,734.2 1072.6,734.2 1073.0,736.2 1073.4,741.3 1073.8,748.3 1074.2,755.6 1074.6,761.5 1075.0,765.4 1075.4,767.6 1075.8,768.8 1076.2,769.3 1076.6,769.3 1077.0,769.5 1077.4,769.7 1077.8,769.7 1078.2,769.9 1078.6,770.2 1079.0,770.2 1079.4,770.0 1079.8,770.0 1080.2,770.2 1080.6,770.0 1081.0,769.7 1081.4,769.8 1081.8,770.2 1082.2,770.5 1082.6,770.4 1083.0,770.3 1083.4,770.2 1083.8,770.3 1084.2,770.4 1084.6,770.3 1085.0,770.5 1085.4,770.6 1085.8,770.5 1086.2,770.3 1086.6,770.3 1087.0,770.4 1087.4,770.4 1087.8,770.5 1088.2,770.6 1088.6,770.5 1089.0,770.5 1089.4,770.6 1089.8,770.7 1090.2,770.5 1090.6,770.4 1091.0,770.4 1091.4,770.3 1091.8,770.4 1092.2,770.6 1092.6,770.6 1093.0,770.4 1093.4,770.3 1093.8,770.4 1094.2,770.5 1094.6,770.4 1095.0,770.4 1095.4,770.4 1095.8,770.2 1096.2,770.3 1096.6,770.4 1097.0,770.1 1097.4,770.1 1097.8,770.4 1098.2,770.5 1098.6,770.6 1099.0,770.7 1099.4,770.6 1099.8,770.5 1100.2,770.4 1100.6,770.1 1101.0,770.2 1101.4,770.5 1101.8,770.6 1102.2,770.5 1102.6,770.6 1103.0,770.5 1103.4,770.2 1103.8,770.2 1104.2,770.5 1104.6,770.5 1105.0,770.6 1105.4,770.6 1105.8,770.5 1106.2,770.4 1106.6,770.5 1107.0,770.1 1107.4,770.1 1107.8,770.5 1108.2,770.8 1108.6,770.8 1109.0,770.6 1109.4,770.4 1109.8,770.6 1110.2,770.6 1110.6,770.3 1111.0,770.2 1111.4,770.6 1111.8,770.8 1112.2,770.7 1112.6,770.4 1113.0,770.3 1113.4,770.3 1113.8,770.4 1114.2,770.7 1114.6,770.6 1115.0,770.3 1115.4,770.2 1115.8,770.4 1116.2,770.6 1116.6,770.8 1117.0,770.7 1117.4,770.6 1117.8,770.8 1118.2,770.8 1118.6,770.5 1119.0,770.5 1119.4,770.6 1119.8,770.5 1120.2,770.5 1120.6,770.5 1121.0,770.6 1121.4,770.7 1121.8,770.4 1122.2,770.3 1122.6,770.5 1123.0,770.5 1123.4,770.4 1123.8,770.5 1124.2,770.6 1124.6,770.8 1125.0,770.9 1125.4,770.7 1125.8,770.6 1126.2,770.4 1126.6,770.5 1127.0,770.5 1127.4,770.3 1127.8,770.3 1128.2,770.7 1128.6,770.8 1129.0,770.8 1129.4,770.6 1129.8,770.1 1130.2,770.1 1130.6,770.4 1131.0,770.5 1131.4,770.5 1131.8,770.4 1132.2,770.3 1132.6,770.4 1133.0,770.5 1133.4,770.3 1133.8,770.3 1134.2,770.4 1134.6,770.3 1135.0,770.1 1135.4,769.9 1135.8,769.8 1136.2,769.7 1136.6,769.2 1137.0,768.8 1137.4,768.7 1137.8,768.7 1138.2,768.6 1138.6,768.3 1139.0,768.0 1139.4,767.5 1139.8,767.2 1140.2,767.2 1140.6,767.3 1141.0,767.5 1141.4,767.6 1141.8,767.7 1142.2,767.7 1142.6,768.1 1143.0,768.7 1143.4,769.0 1143.8,769.1 1144.2,769.5 1144.6,769.9 1145.0,769.9 1145.4,769.8 1145.8,770.0 1146.2,770.0 1146.6,770.1 1147.0,770.4 1147.4,770.5 1147.8,770.4 1148.2,770.6 1148.6,770.6 1149.0,770.7 1149.4,770.6 1149.8,770.5 1150.2,770.6 1150.6,770.6 1151.0,770.5 1151.4,770.4 1151.8,770.4 1152.2,770.1 1152.6,770.0 1153.0,770.4 1153.4,770.7 1153.8,770.8 1154.2,770.7 1154.6,770.9 1155.0,770.9 1155.4,770.7 1155.8,770.4 1156.2,770.4 1156.6,770.4 1157.0,770.4 1157.4,770.6 1157.8,770.7 1158.2,770.6 1158.6,770.6 1159.0,770.6 1159.4,770.6 1159.8,770.5 1160.2,770.3 1160.6,770.5 1161.0,770.8 1161.4,771.0 1161.8,770.8 1162.2,770.6 1162.6,770.5 1163.0,770.4 1163.4,770.6 1163.8,770.7 1164.2,770.7 1164.6,770.6 1165.0,770.7 1165.4,770.6 1165.8,770.5 1166.2,770.8 1166.6,771.0 1167.0,770.9 1167.4,770.6 1167.8,770.4 1168.2,770.6 1168.6,770.8 1169.0,770.7 1169.4,770.6 1169.8,770.7 1170.2,770.8 1170.6,770.6 1171.0,770.4 1171.4,770.5 1171.8,770.6 1172.2,770.5 1172.6,770.4 1173.0,770.4 1173.4,770.5 1173.8,770.6 1174.2,770.5 1174.6,770.4 1175.0,770.7 1175.4,770.8 1175.8,770.7 1176.2,770.6 1176.6,770.5 1177.0,770.6 1177.4,770.6 1177.8,770.6 1178.2,770.8 1178.6,770.8 1179.0,770.7 1179.4,770.6 1179.8,770.6 1180.2,770.7 1180.6,770.6 1181.0,770.4 1181.4,770.6 1181.8,770.9 1182.2,770.8 1182.6,770.5 1183.0,770.3 1183.4,770.5 1183.8,770.9 1184.2,770.9 1184.6,770.6 1185.0,770.6 1185.4,770.8 1185.8,770.8 1186.2,770.7 1186.6,770.7 1187.0,770.7 1187.4,770.6 1187.8,770.7 1188.2,770.8 1188.6,770.8 1189.0,770.9 1189.4,770.9 1189.8,770.6 1190.2,770.6 1190.6,770.7 1191.0,770.8 1191.4,770.8 1191.8,770.7 1192.2,770.8 1192.6,771.2 1193.0,771.2 1193.4,770.9 1193.8,770.9 1194.2,770.9 1194.6,770.9 1195.0,770.9 1195.4,770.8 1195.8,770.5 1196.2,770.4 1196.6,770.4 1197.0,770.4 1197.4,770.5 1197.8,770.5 1198.2,770.4 1198.6,770.5 1199.0,770.6 1199.4,770.6 1199.8,770.6 1200.2,770.6 1200.6,770.5 1201.0,770.4 1201.4,770.4 1201.8,770.6 1202.2,770.9 1202.6,771.1 1203.0,771.0 1203.4,770.8 1203.8,770.7 1204.2,770.7 1204.6,770.7 1205.0,770.7 1205.4,770.7 1205.8,770.7 1206.2,770.9 1206.6,770.8 1207.0,770.7 1207.4,770.7 1207.8,770.5 1208.2,770.4 1208.6,770.6 1209.0,770.8 1209.4,770.7 1209.8,770.8 1210.2,770.9 1210.6,770.7 1211.0,770.7 1211.4,771.1 1211.8,771.1 1212.2,770.8 1212.6,770.5 1213.0,770.4 1213.4,770.4 1213.8,770.6 1214.2,770.7 1214.6,770.6 1215.0,770.6 1215.4,770.9 1215.8,770.9 1216.2,770.8 1216.6,770.7 1217.0,771.0 1217.4,771.0 1217.8,770.9 1218.2,770.8 1218.6,770.6 1219.0,770.4 1219.4,770.6 1219.8,770.9 1220.2,770.8 1220.6,770.4 1221.0,770.4 1221.4,770.5 1221.8,770.5 1222.2,770.6 1222.6,770.7 1223.0,770.8 1223.4,771.0 1223.8,771.0 1224.2,770.9 1224.6,770.9 1225.0,771.0 1225.4,770.9 1225.8,770.8 1226.2,770.9 1226.6,770.8 1227.0,770.8 1227.4,770.8 1227.8,770.7 1228.2,770.7 1228.6,770.8 1229.0,770.7 1229.4,770.6 1229.8,770.9 1230.2,770.9 1230.6,770.7 1231.0,770.7 1231.4,770.8 1231.8,770.8 1232.2,770.8 1232.6,770.7 1233.0,770.5 1233.4,770.6 1233.8,770.7 1234.2,770.7 1234.6,770.7 1235.0,770.9 1235.4,771.1 1235.8,771.0 1236.2,770.8 1236.6,770.8 1237.0,770.7 1237.4,770.7 1237.8,770.8 1238.2,770.7 1238.6,770.5 1239.0,770.5 1239.4,770.6 1239.8,770.8 1240.2,770.9 1240.6,770.9 1241.0,770.8 1241.4,770.6 1241.8,770.7 1242.2,771.0 1242.6,771.1 1243.0,771.1 1243.4,770.9 1243.8,770.5 1244.2,770.4 1244.6,770.7 1245.0,770.7 1245.4,770.5 1245.8,770.7 1246.2,770.8 1246.6,770.7 1247.0,770.5 1247.4,770.7 1247.8,770.9 1248.2,770.7 1248.6,770.5 1249.0,770.6 1249.4,770.8 1249.8,770.7 1250.2,770.4 1250.6,770.5 1251.0,770.6 1251.4,770.5 1251.8,770.5 1252.2,770.5 1252.6,770.5 1253.0,770.9 1253.4,771.2 1253.8,770.9 1254.2,770.9 1254.6,771.2 1255.0,770.9 1255.4,770.7 1255.8,770.7 1256.2,770.6 1256.6,770.5 1257.0,770.5 1257.4,770.6 1257.8,770.6 1258.2,770.5 1258.6,770.6 1259.0,770.8 1259.4,770.7 1259.8,770.7 1260.2,770.9 1260.6,770.8 1261.0,770.5 1261.4,770.7 1261.8,771.0 1262.2,771.0 1262.6,770.8 1263.0,770.6 1263.4,770.7 1263.8,770.8 1264.2,770.7 1264.6,770.7 1265.0,770.5 1265.4,770.4 1265.8,770.6 1266.2,770.9 1266.6,771.1 1267.0,771.1 1267.4,771.0 1267.8,770.8 1268.2,770.8 1268.6,770.8 1269.0,770.8 1269.4,770.9 1269.8,770.8 1270.2,770.7 1270.6,770.7 1271.0,770.7 1271.4,770.6 1271.8,770.5 1272.2,770.7 1272.6,770.8 1273.0,770.7 1273.4,770.4 1273.8,770.5 1274.2,770.7 1274.6,770.9 1275.0,771.2 1275.4,771.3 1275.8,771.0 1276.2,770.8 1276.6,770.9 1277.0,770.8 1277.4,770.9 1277.8,770.9 1278.2,770.7 1278.6,770.7 1279.0,770.7 1279.4,770.8 1279.8,770.8 1280.2,770.8 1280.6,770.8 1281.0,770.5 1281.4,770.4 1281.8,770.7 1282.2,770.7 1282.6,770.5 1283.0,770.7 1283.4,770.5 1283.8,770.4 1284.2,770.7 1284.6,770.7 1285.0,770.5 1285.4,770.4 1285.8,770.3 1286.2,770.5 1286.6,770.7 1287.0,770.7 1287.4,770.5 1287.8,770.4 1288.2,770.5 1288.6,770.7 1289.0,770.6 1289.4,770.6 1289.8,770.6 1290.2,770.7 1290.6,770.9 1291.0,770.9 1291.4,770.8 1291.8,770.7 1292.2,770.5 1292.6,770.5 1293.0,770.6 1293.4,770.6 1293.8,770.3 1294.2,770.4 1294.6,770.7 1295.0,770.8 1295.4,770.6 1295.8,770.6 1296.2,770.7 1296.6,770.9 1297.0,770.9 1297.4,770.8 1297.8,770.7 1298.2,770.8 1298.6,770.9 1299.0,770.8 1299.4,770.6 1299.8,770.6 1300.2,770.8 1300.6,770.6 1301.0,770.4 1301.4,770.7 1301.8,770.8 1302.2,770.5 1302.6,770.7 1303.0,770.8 1303.4,770.7 1303.8,770.6 1304.2,770.6 1304.6,770.7 1305.0,770.6 1305.4,770.4 1305.8,770.3 1306.2,770.5 1306.6,770.9 1307.0,770.9 1307.4,770.7 1307.8,770.6 1308.2,770.5 1308.6,770.5 1309.0,770.5 1309.4,770.3 1309.8,770.1 1310.2,770.2 1310.6,770.5 1311.0,770.8 1311.4,770.7 1311.8,770.7 1312.2,770.8 1312.6,770.9 1313.0,770.8 1313.4,770.7 1313.8,770.6 1314.2,770.5 1314.6,770.8 1315.0,771.0 1315.4,771.0 1315.8,771.0 1316.2,770.9 1316.6,770.8 1317.0,770.7 1317.4,770.9 1317.8,771.0 1318.2,770.8 1318.6,770.7 1319.0,770.5 1319.4,770.4 1319.8,770.7 1320.2,771.1 1320.6,770.8 1321.0,770.6 1321.4,770.6 1321.8,770.4 1322.2,770.4 1322.6,770.5 1323.0,770.5 1323.4,770.6 1323.8,770.6 1324.2,770.6 1324.6,770.7 1325.0,770.8 1325.4,770.9 1325.8,771.0 1326.2,771.0 1326.6,770.8 1327.0,770.6 1327.4,770.4 1327.8,770.2 1328.2,770.4 1328.6,770.9 1329.0,770.9 1329.4,770.8 1329.8,771.0 1330.2,771.1 1330.6,770.9 1331.0,770.7 1331.4,770.7 1331.8,770.7 1332.2,770.4 1332.6,770.3 1333.0,770.6 1333.4,770.7 1333.8,770.6 1334.2,770.6 1334.6,770.6 1335.0,770.4 1335.4,770.4 1335.8,770.5 1336.2,770.5 1336.6,770.5 1337.0,770.3 1337.4,770.4 1337.8,770.6 1338.2,770.7 1338.6,770.9 1339.0,770.8 1339.4,770.5 1339.8,770.4 1340.2,770.6 1340.6,770.7 1341.0,770.7 1341.4,770.6 1341.8,770.6 1342.2,770.7 1342.6,770.6 1343.0,770.4 1343.4,770.5 1343.8,770.9 1344.2,771.1 1344.6,770.9 1345.0,770.7 1345.4,770.5 1345.8,770.4 1346.2,770.3 1346.6,770.2 1347.0,770.5 1347.4,770.8 1347.8,770.7 1348.2,770.8 1348.6,770.5 1349.0,770.3 1349.4,770.4 1349.8,770.6 1350.2,770.6 1350.6,770.4 1351.0,770.1 1351.4,770.2 1351.8,770.3 1352.2,770.4 1352.6,770.6 1353.0,770.5 1353.4,770.2 1353.8,770.0 1354.2,770.0 1354.6,770.1 1355.0,769.9 1355.4,769.3 1355.8,769.2 1356.2,769.0 1356.6,768.4 1357.0,767.3 1357.4,764.8 1357.8,759.8 1358.2,751.4 1358.6,739.1 1359.0,724.6 1359.4,712.3 1359.8,707.2 1360.2,712.0 1360.6,723.7 1361.0,736.5 1361.4,746.0 1361.8,750.6 1362.2,750.0 1362.6,745.7 1363.0,740.4 1363.4,737.6 1363.8,739.3 1364.2,745.2 1364.6,752.8 1365.0,759.4 1365.4,763.9 1365.8,766.5 1366.2,767.4 1366.6,767.8 1367.0,768.2 1367.4,767.9 1367.8,766.6 1368.2,764.0 1368.6,759.3 1369.0,752.2 1369.4,742.8 1369.8,732.9 1370.2,726.1 1370.6,726.0 1371.0,732.7 1371.4,742.6 1371.8,752.1 1372.2,759.2 1372.6,762.9 1373.0,763.6 1373.4,762.1 1373.8,758.5 1374.2,753.6 1374.6,749.4 1375.0,747.6 1375.4,749.4 1375.8,753.7 1376.2,758.7 1376.6,763.2 1377.0,766.4 1377.4,768.2 1377.8,769.2 1378.2,769.8 1378.6,770.0 1379.0,770.0 1379.4,770.0 1379.8,770.1 1380.2,770.1 1380.6,770.1 1381.0,770.3 1381.4,770.5 1381.8,770.6 1382.2,770.7 1382.6,770.7 1383.0,770.6 1383.4,770.9 1383.8,771.0 1384.2,770.8 1384.6,770.6 1385.0,770.4 1385.4,770.3 1385.8,770.3 1386.2,770.4 1386.6,770.6 1387.0,770.8 1387.4,770.7 1387.8,770.2 1388.2,770.1 1388.6,770.3 1389.0,770.4 1389.4,770.3 1389.8,770.5 1390.2,770.7 1390.6,770.7 1391.0,770.6 1391.4,770.9 1391.8,771.2 1392.2,771.0 1392.6,770.9 1393.0,770.7 1393.4,770.3 1393.8,770.2 1394.2,770.4 1394.6,770.6 1395.0,770.6 1395.4,770.5 1395.8,770.7 1396.2,770.8 1396.6,770.7 1397.0,770.6 1397.4,770.6 1397.8,770.6 1398.2,770.7 1398.6,770.8 1399.0,770.9 1399.4,770.7 1399.8,770.3 1400.2,770.2 1400.6,770.6 1401.0,770.9 1401.4,770.7 1401.8,770.7 1402.2,770.7 1402.6,770.8 1403.0,771.0 1403.4,770.8 1403.8,770.4 1404.2,770.6 1404.6,770.7 1405.0,770.7 1405.4,770.7 1405.8,770.6 1406.2,770.6 1406.6,770.6 1407.0,770.7 1407.4,770.9 1407.8,770.9 1408.2,770.8 1408.6,771.0 1409.0,771.0 1409.4,770.8 1409.8,771.0 1410.2,771.1 1410.6,770.9 1411.0,770.9 1411.4,771.0 1411.8,770.8 1412.2,770.7 1412.6,770.7 1413.0,770.9 1413.4,770.9 1413.8,770.6 1414.2,770.5 1414.6,770.6 1415.0,770.5 1415.4,770.4 1415.8,770.5 1416.2,770.6 1416.6,770.5 1417.0,770.3 1417.4,770.5 1417.8,770.7 1418.2,770.7 1418.6,770.6 1419.0,770.6 1419.4,770.6 1419.8,770.7 1420.2,770.7 1420.6,770.5 1421.0,770.6 1421.4,770.7 1421.8,770.7 1422.2,770.9 1422.6,771.0 1423.0,770.9 1423.4,770.7 1423.8,770.6 1424.2,770.5 1424.6,770.4 1425.0,770.5 1425.4,770.4 1425.8,770.4 1426.2,770.4 1426.6,770.4 1427.0,770.5 1427.4,770.5 1427.8,770.6 1428.2,770.7 1428.6,770.6 1429.0,770.5 1429.4,770.5 1429.8,770.4 1430.2,770.5 1430.6,770.6 1431.0,770.6 1431.4,770.6 1431.8,770.7 1432.2,770.9 1432.6,770.8 1433.0,770.6 1433.4,770.6 1433.8,770.3 1434.2,769.9 1434.6,770.1 1435.0,770.6 1435.4,770.8 1435.8,770.9 1436.2,770.9 1436.6,770.6 1437.0,770.3 1437.4,770.3 1437.8,770.5 1438.2,770.7 1438.6,770.9 1439.0,771.1 1439.4,771.0 1439.8,770.7 1440.2,770.6 1440.6,770.7 1441.0,770.9 1441.4,770.9 1441.8,770.8 1442.2,771.0 1442.6,771.2 1443.0,770.9 1443.4,770.6 1443.8,770.4 1444.2,770.5 1444.6,770.8 1445.0,770.8 1445.4,770.7 1445.8,770.9 1446.2,770.9 1446.6,770.8 1447.0,770.8 1447.4,770.8 1447.8,770.7 1448.2,770.7 1448.6,770.7 1449.0,770.5 1449.4,770.5 1449.8,770.8 1450.2,771.0 1450.6,770.9 1451.0,770.7 1451.4,770.8 1451.8,770.6 1452.2,770.5 1452.6,770.5 1453.0,770.7 1453.4,770.6 1453.8,770.4 1454.2,770.4 1454.6,770.7 1455.0,770.9 1455.4,771.0 1455.8,770.9 1456.2,770.8 1456.6,770.6 1457.0,770.4 1457.4,770.5 1457.8,770.5 1458.2,770.5 1458.6,770.6 1459.0,770.7 1459.4,770.6 1459.8,770.6 1460.2,770.9 1460.6,771.0 1461.0,771.0 1461.4,770.9 1461.8,770.8 1462.2,770.7 1462.6,770.6 1463.0,770.8 1463.4,770.9 1463.8,770.7 1464.2,770.6 1464.6,770.7 1465.0,770.8 1465.4,770.9 1465.8,770.4 1466.2,770.0 1466.6,770.2 1467.0,770.5 1467.4,770.5 1467.8,770.5 1468.2,770.6 1468.6,770.7 1469.0,770.5 1469.4,770.7 1469.8,771.0 1470.2,770.8 1470.6,770.7 1471.0,770.7 1471.4,770.6 1471.8,770.6 1472.2,770.6 1472.6,770.6 1473.0,770.6 1473.4,770.4 1473.8,770.3 1474.2,770.6 1474.6,770.8 1475.0,770.6 1475.4,770.6 1475.8,770.7 1476.2,770.7 1476.6,770.4 1477.0,770.3 1477.4,770.2 1477.8,770.0 1478.2,770.2 1478.6,770.5 1479.0,770.6 1479.4,770.4 1479.8,770.2 1480.2,770.4 1480.6,770.5 1481.0,770.3 1481.4,770.2 1481.8,770.1 1482.2,769.9 1482.6,769.5 1483.0,769.1 1483.4,768.8 1483.8,768.5 1484.2,768.1 1484.6,767.7 1485.0,766.8 1485.4,765.9 1485.8,765.2 1486.2,764.5 1486.6,763.8 1487.0,763.4 1487.4,763.0 1487.8,762.9 1488.2,763.0 1488.6,763.1 1489.0,763.4 1489.4,764.0 1489.8,764.6 1490.2,765.2 1490.6,766.0 1491.0,766.9 1491.4,767.7 1491.8,768.3 1492.2,768.6 1492.6,769.0 1493.0,769.3 1493.4,769.6 1493.8,769.8 1494.2,770.0 1494.6,770.3 1495.0,770.5 1495.4,770.7 1495.8,770.6 1496.2,770.3 1496.6,770.4 1497.0,770.5 1497.4,770.4 1497.8,770.5 1498.2,770.7 1498.6,770.7 1499.0,770.5 1499.4,770.4 1499.8,770.5 1500.2,770.7 1500.6,770.8 1501.0,770.7 1501.4,770.8 1501.8,770.6 1502.2,770.4 1502.6,770.4 1503.0,770.6 1503.4,770.8 1503.8,770.7 1504.2,770.5 1504.6,770.6 1505.0,770.7 1505.4,770.8 1505.8,771.0 1506.2,771.0 1506.6,771.0 1507.0,771.1 1507.4,770.9 1507.8,770.6 1508.2,770.2 1508.6,770.2 1509.0,770.5 1509.4,770.7 1509.8,770.7 1510.2,770.5 1510.6,770.6 1511.0,770.7 1511.4,770.8 1511.8,771.0 1512.2,771.0 1512.6,770.8 1513.0,770.8 1513.4,770.8 1513.8,770.8 1514.2,771.0 1514.6,771.1 1515.0,770.8 1515.4,770.7 1515.8,770.7 1516.2,770.7 1516.6,770.6 1517.0,770.8 1517.4,770.9 1517.8,770.9 1518.2,770.9 1518.6,770.5 1519.0,770.2 1519.4,770.4 1519.8,770.6 1520.2,770.7 1520.6,770.6 1521.0,770.6 1521.4,770.4 1521.8,770.2 1522.2,770.4 1522.6,770.6 1523.0,770.6 1523.4,770.7 1523.8,770.7 1524.2,770.6 1524.6,770.5 1525.0,770.5 1525.4,770.6 1525.8,770.7 1526.2,770.6 1526.6,770.4 1527.0,770.2 1527.4,770.3 1527.8,770.6 1528.2,770.6 1528.6,770.7 1529.0,770.7 1529.4,770.5 1529.8,770.3 1530.2,770.3 1530.6,770.5 1531.0,770.9 1531.4,771.0 1531.8,770.7 1532.2,770.5 1532.6,770.6 1533.0,770.8 1533.4,770.9 1533.8,770.8 1534.2,770.6 1534.6,770.3 1535.0,770.5 1535.4,770.9 1535.8,770.8 1536.2,770.8 1536.6,770.8 1537.0,770.9 1537.4,770.8 1537.8,770.7 1538.2,770.7 1538.6,770.8 1539.0,770.8 1539.4,770.8 1539.8,771.0 1540.2,771.0 1540.6,770.8 1541.0,770.8 1541.4,770.7 1541.8,770.6 1542.2,770.8 1542.6,770.8 1543.0,770.6 1543.4,770.6 1543.8,770.6 1544.2,770.5 1544.6,770.5 1545.0,770.7 1545.4,770.7 1545.8,770.6 1546.2,770.4 1546.6,770.6 1547.0,770.8 1547.4,770.6 1547.8,770.5 1548.2,770.6 1548.6,770.7 1549.0,770.8 1549.4,770.7 1549.8,770.8 1550.2,770.8 1550.6,770.7 1551.0,770.7 1551.4,770.6 1551.8,770.8 1552.2,771.1 1552.6,770.9 1553.0,770.6 1553.4,770.6 1553.8,770.6 1554.2,770.8 1554.6,770.9 1555.0,770.6 1555.4,770.3 1555.8,770.5 1556.2,770.7 1556.6,770.7 1557.0,770.6 1557.4,770.6 1557.8,770.4 1558.2,770.1 1558.6,770.0 1559.0,770.3 1559.4,770.5 1559.8,770.6 1560.2,770.7 1560.6,770.6 1561.0,770.3 1561.4,770.3 1561.8,770.5 1562.2,770.6 1562.6,770.5 1563.0,770.3 1563.4,770.3 1563.8,770.4 1564.2,770.6 1564.6,770.7 1565.0,770.7 1565.4,770.8 1565.8,770.7 1566.2,770.4 1566.6,770.2 1567.0,770.5 1567.4,770.5 1567.8,770.3 1568.2,770.1 1568.6,770.3 1569.0,770.5 1569.4,770.5 1569.8,770.6 1570.2,770.8 1570.6,770.8 1571.0,770.6 1571.4,770.5 1571.8,770.3 1572.2,770.1 1572.6,770.3 1573.0,770.3 1573.4,770.2 1573.8,770.4 1574.2,770.5 1574.6,770.3 1575.0,770.2 1575.4,770.1 1575.8,770.2 1576.2,770.2 1576.6,769.9 1577.0,769.6 1577.4,769.0 1577.8,767.7 1578.2,765.6 1578.6,762.0 1579.0,756.1 1579.4,747.1 1579.8,736.1 1580.2,725.6 1580.6,718.8 1581.0,718.9 1581.4,725.6 1581.8,736.0 1582.2,746.6 1582.6,755.0 1583.0,760.7 1583.4,763.6 1583.8,763.9 1584.2,761.9 1584.6,757.9 1585.0,752.8 1585.4,747.8 1585.8,744.4 1586.2,744.2 1586.6,747.3 1587.0,752.6 1587.4,758.3 1587.8,762.9 1588.2,766.2 1588.6,768.1 1589.0,769.0 1589.4,769.5 1589.8,770.0 1590.2,770.1 1590.6,769.9 1591.0,769.9 1591.4,770.0 1591.8,770.1 1592.2,770.3 1592.6,770.5 1593.0,770.4 1593.4,770.2 1593.8,770.1 1594.2,770.2 1594.6,770.1 1595.0,770.1 1595.4,770.2 1595.8,770.5 1596.2,770.5 1596.6,770.5 1597.0,770.7 1597.4,770.7 1597.8,770.4 1598.2,770.2 1598.6,770.3 1599.0,770.6 1599.4,770.7 1599.8,770.5 1600.2,770.5 1600.6,770.6 1601.0,770.4 1601.4,770.4 1601.8,770.5 1602.2,770.4 1602.6,770.3 1603.0,770.3 1603.4,770.3 1603.8,770.5 1604.2,770.5 1604.6,770.4 1605.0,770.4 1605.4,770.3 1605.8,770.4 1606.2,770.5 1606.6,770.1 1607.0,769.9 1607.4,769.8 1607.8,769.4 1608.2,768.9 1608.6,768.6 1609.0,768.2 1609.4,767.8 1609.8,767.4 1610.2,766.7 1610.6,765.9 1611.0,765.6 1611.4,765.3 1611.8,764.9 1612.2,764.6 1612.6,764.5 1613.0,764.8 1613.4,765.3 1613.8,765.6 1614.2,765.9 1614.6,766.3 1615.0,766.9 1615.4,767.7 1615.8,768.1 1616.2,768.5 1616.6,768.7 1617.0,769.1 1617.4,769.5 1617.8,769.9 1618.2,770.1 1618.6,770.2 1619.0,770.1 1619.4,770.4 1619.8,770.5 1620.2,770.5 1620.6,770.5 1621.0,770.6 1621.4,770.6 1621.8,770.6 1622.2,770.5 1622.6,770.5 1623.0,770.5 1623.4,770.5 1623.8,770.7 1624.2,770.8 1624.6,770.4 1625.0,770.0 1625.4,770.3 1625.8,770.6 1626.2,770.6 1626.6,770.8 1627.0,770.9 1627.4,770.7 1627.8,770.4 1628.2,770.2 1628.6,770.3 1629.0,770.4 1629.4,770.6 1629.8,770.8 1630.2,770.9 1630.6,770.7 1631.0,770.6 1631.4,770.7 1631.8,770.7 1632.2,770.6 1632.6,770.5 1633.0,770.6 1633.4,770.8 1633.8,770.8 1634.2,770.6 1634.6,770.6 1635.0,770.7 1635.4,770.5 1635.8,770.3 1636.2,770.4 1636.6,770.5 1637.0,770.5 1637.4,770.4 1637.8,770.5 1638.2,770.5 1638.6,770.4 1639.0,770.5 1639.4,770.7 1639.8,770.7 1640.2,770.6 1640.6,770.5 1641.0,770.8 1641.4,770.9 1641.8,770.9 1642.2,770.8 1642.6,770.4 1643.0,770.4 1643.4,770.6 1643.8,770.5 1644.2,770.7 1644.6,770.9 1645.0,770.7 1645.4,770.6 1645.8,770.6 1646.2,770.5 1646.6,770.4 1647.0,770.5 1647.4,770.7 1647.8,770.8 1648.2,770.6 1648.6,770.5 1649.0,770.6 1649.4,770.7 1649.8,770.5 1650.2,770.4 1650.6,770.5 1651.0,770.7 1651.4,770.7 1651.8,770.5 1652.2,770.4 1652.6,770.3 1653.0,770.5 1653.4,770.8 1653.8,770.8 1654.2,770.7 1654.6,770.6 1655.0,770.4 1655.4,770.6 1655.8,770.6 1656.2,770.7 1656.6,770.6 1657.0,770.2 1657.4,770.0 1657.8,770.3 1658.2,770.5 1658.6,770.4 1659.0,770.0 1659.4,769.3 1659.8,768.6 1660.2,767.5 1660.6,765.3 1661.0,761.2 1661.4,755.6 1661.8,748.7 1662.2,741.9 1662.6,737.6 1663.0,737.5 1663.4,741.8 1663.8,748.3 1664.2,755.3 1664.6,761.0 1665.0,764.5 1665.4,766.6 1665.8,767.2 1666.2,766.6 1666.6,765.3 1667.0,762.9 1667.4,759.6 1667.8,756.2 1668.2,753.8 1668.6,753.4 1669.0,755.3 1669.4,758.7 1669.8,762.3 1670.2,765.4 1670.6,767.7 1671.0,769.0 1671.4,769.9 1671.8,770.2 1672.2,770.2 1672.6,770.4 1673.0,770.3 1673.4,770.2 1673.8,770.4 1674.2,770.5 1674.6,770.4 1675.0,770.5 1675.4,770.5 1675.8,770.6 1676.2,770.8 1676.6,770.7 1677.0,770.6 1677.4,770.5 1677.8,770.4 1678.2,770.5 1678.6,770.8 1679.0,770.9 1679.4,770.8 1679.8,770.6 1680.2,770.5 1680.6,770.5 1681.0,770.5 1681.4,770.5 1681.8,770.3 1682.2,770.4 1682.6,770.7 1683.0,770.8 1683.4,770.7 1683.8,770.8 1684.2,770.7 1684.6,770.6 1685.0,770.8 1685.4,770.9 1685.8,770.9 1686.2,770.8 1686.6,770.7 1687.0,770.7 1687.4,770.7 1687.8,770.6 1688.2,770.6 1688.6,770.5 1689.0,770.4 1689.4,770.7 1689.8,771.0 1690.2,770.9 1690.6,770.6 1691.0,770.7 1691.4,770.7 1691.8,770.6 1692.2,770.8 1692.6,770.9 1693.0,770.6 1693.4,770.6 1693.8,770.9 1694.2,770.8 1694.6,770.7 1695.0,770.6 1695.4,770.5 1695.8,770.4 1696.2,770.3 1696.6,770.3 1697.0,770.5 1697.4,770.5 1697.8,770.4 1698.2,770.4 1698.6,770.6 1699.0,770.8 1699.4,771.0 1699.8,770.8 1700.2,770.6 1700.6,770.4 1701.0,770.5 1701.4,770.4 1701.8,770.4 1702.2,770.7 1702.6,770.8 1703.0,770.6 1703.4,770.6 1703.8,770.5 1704.2,770.5 1704.6,770.5 1705.0,770.6 1705.4,770.7 1705.8,770.7 1706.2,770.7 1706.6,770.9 1707.0,771.3 1707.4,771.1 1707.8,770.6 1708.2,770.5 1708.6,770.7 1709.0,770.7 1709.4,770.6 1709.8,770.7 1710.2,770.5 1710.6,770.4 1711.0,770.5 1711.4,770.6 1711.8,770.6 1712.2,770.6 1712.6,770.4 1713.0,770.5 1713.4,770.7 1713.8,770.7 1714.2,770.4 1714.6,770.4 1715.0,770.5 1715.4,770.4 1715.8,770.4 1716.2,770.5 1716.6,770.4 1717.0,770.2 1717.4,770.3 1717.8,770.4 1718.2,770.1 1718.6,770.0 1719.0,770.2 1719.4,770.1 1719.8,769.8 1720.2,769.6 1720.6,769.4 1721.0,769.2 1721.4,769.0 1721.8,769.0 1722.2,768.9 1722.6,768.3 1723.0,767.5 1723.4,766.9 1723.8,766.3 1724.2,765.8 1724.6,765.2 1725.0,764.7 1725.4,764.2 1725.8,763.5 1726.2,762.8" fill="none" stroke="#ff4040" stroke-width="7.8" stroke-linejoin="round" stroke-linecap="butt"/>
<path d="M165.0,431.3 165.4,431.0 165.8,430.8 166.2,430.9 166.6,430.9 167.0,430.8 167.4,431.0 167.8,431.0 168.2,431.0 168.6,431.1 169.0,431.0 169.4,430.8 169.8,430.8 170.2,431.0 170.6,431.1 171.0,430.9 171.4,430.8 171.8,430.9 172.2,431.0 172.6,431.0 173.0,431.0 173.4,431.2 173.8,431.3 174.2,431.2 174.6,431.1 175.0,431.0 175.4,430.9 175.8,430.8 176.2,430.9 176.6,431.0 177.0,430.9 177.4,430.8 177.8,430.8 178.2,430.8 178.6,430.8 179.0,430.9 179.4,430.8 179.8,431.1 180.2,431.3 180.6,431.2 181.0,431.0 181.4,430.8 181.8,430.9 182.2,431.2 182.6,431.1 183.0,430.9 183.4,431.1 183.8,431.3 184.2,431.2 184.6,431.1 185.0,431.1 185.4,430.9 185.8,430.8 186.2,430.8 186.6,431.0 187.0,431.1 187.4,431.2 187.8,431.2 188.2,431.2 188.6,431.1 189.0,431.0 189.4,431.2 189.8,431.1 190.2,431.0 190.6,431.0 191.0,431.1 191.4,431.3 191.8,431.5 192.2,431.3 192.6,430.8 193.0,430.6 193.4,430.8 193.8,431.0 194.2,431.2 194.6,431.0 195.0,430.7 195.4,430.9 195.8,431.1 196.2,431.1 196.6,431.1 197.0,431.0 197.4,431.0 197.8,431.0 198.2,431.1 198.6,431.1 199.0,431.0 199.4,430.9 199.8,431.0 200.2,431.1 200.6,431.3 201.0,431.3 201.4,431.1 201.8,430.9 202.2,430.9 202.6,431.0 203.0,431.0 203.4,431.0 203.8,430.9 204.2,431.0 204.6,431.0 205.0,431.1 205.4,431.2 205.8,431.2 206.2,431.0 206.6,430.9 207.0,431.0 207.4,431.0 207.8,430.9 208.2,430.9 208.6,430.9 209.0,430.8 209.4,431.0 209.8,431.1 210.2,431.0 210.6,430.9 211.0,430.8 211.4,430.8 211.8,430.8 212.2,431.1 212.6,431.1 213.0,431.0 213.4,431.0 213.8,431.3 214.2,431.2 214.6,431.0 215.0,431.2 215.4,431.4 215.8,431.1 216.2,430.9 216.6,431.0 217.0,431.0 217.4,430.8 217.8,430.8 218.2,431.0 218.6,431.1 219.0,431.0 219.4,430.9 219.8,430.9 220.2,431.0 220.6,431.0 221.0,431.0 221.4,431.0 221.8,431.2 222.2,431.2 222.6,431.1 223.0,431.1 223.4,431.1 223.8,431.1 224.2,431.1 224.6,431.1 225.0,430.8 225.4,430.7 225.8,431.1 226.2,431.4 226.6,431.2 227.0,431.0 227.4,430.9 227.8,430.9 228.2,430.8 228.6,430.7 229.0,430.6 229.4,430.7 229.8,430.8 230.2,430.8 230.6,430.8 231.0,430.8 231.4,430.9 231.8,430.9 232.2,430.8 232.6,430.4 233.0,430.4 233.4,430.8 233.8,430.9 234.2,430.6 234.6,430.4 235.0,430.5 235.4,430.5 235.8,430.4 236.2,430.4 236.6,430.2 237.0,430.0 237.4,430.2 237.8,430.4 238.2,430.4 238.6,430.1 239.0,430.0 239.4,430.1 239.8,430.1 240.2,430.0 240.6,430.0 241.0,430.1 241.4,430.2 241.8,430.2 242.2,430.2 242.6,429.8 243.0,429.6 243.4,429.7 243.8,429.8 244.2,429.9 244.6,429.8 245.0,429.6 245.4,429.6 245.8,429.6 246.2,429.6 246.6,429.2 247.0,428.9 247.4,428.9 247.8,429.0 248.2,429.2 248.6,429.4 249.0,429.2 249.4,429.1 249.8,429.2 250.2,429.0 250.6,428.9 251.0,429.1 251.4,429.2 251.8,429.1 252.2,429.1 252.6,429.2 253.0,429.2 253.4,429.2 253.8,429.1 254.2,428.8 254.6,428.8 255.0,428.9 255.4,428.8 255.8,428.5 256.2,428.5 256.6,428.5 257.0,428.6 257.4,428.6 257.8,428.7 258.2,428.7 258.6,428.4 259.0,428.1 259.4,428.0 259.8,428.0 260.2,428.0 260.6,428.2 261.0,428.1 261.4,428.0 261.8,427.9 262.2,427.7 262.6,427.8 263.0,428.0 263.4,428.0 263.8,427.9 264.2,427.9 264.6,427.6 265.0,427.5 265.4,427.3 265.8,427.2 266.2,427.5 266.6,427.5 267.0,427.3 267.4,427.5 267.8,427.4 268.2,427.2 268.6,427.0 269.0,426.8 269.4,426.7 269.8,426.7 270.2,426.7 270.6,426.7 271.0,426.7 271.4,426.5 271.8,426.3 272.2,426.1 272.6,425.9 273.0,426.0 273.4,425.9 273.8,425.7 274.2,425.2 274.6,424.6 275.0,424.0 275.4,423.6 275.8,423.0 276.2,421.6 276.6,418.8 277.0,412.6 277.4,401.0 277.8,382.7 278.2,359.9 278.6,341.7 279.0,341.6 279.4,359.7 279.8,382.5 280.2,400.9 280.6,412.4 281.0,418.5 281.4,421.3 281.8,422.7 282.2,423.4 282.6,424.0 283.0,424.4 283.4,424.8 283.8,425.0 284.2,425.1 284.6,425.5 285.0,425.6 285.4,425.4 285.8,425.3 286.2,425.4 286.6,425.7 287.0,426.0 287.4,425.9 287.8,425.8 288.2,425.9 288.6,425.9 289.0,426.1 289.4,426.2 289.8,426.1 290.2,426.2 290.6,426.5 291.0,426.4 291.4,426.2 291.8,426.0 292.2,425.9 292.6,425.9 293.0,426.0 293.4,426.0 293.8,426.1 294.2,426.1 294.6,426.3 295.0,426.4 295.4,426.3 295.8,426.4 296.2,426.4 296.6,426.5 297.0,426.6 297.4,426.5 297.8,426.3 298.2,426.4 298.6,426.6 299.0,426.3 299.4,426.0 299.8,425.9 300.2,425.9 300.6,426.0 301.0,426.5 301.4,426.8 301.8,426.7 302.2,426.7 302.6,426.7 303.0,426.7 303.4,426.7 303.8,426.8 304.2,426.8 304.6,426.7 305.0,427.0 305.4,427.1 305.8,427.0 306.2,427.0 306.6,426.8 307.0,426.8 307.4,426.9 307.8,426.9 308.2,426.9 308.6,426.9 309.0,427.0 309.4,427.0 309.8,426.9 310.2,427.0 310.6,427.2 311.0,427.3 311.4,427.1 311.8,426.9 312.2,427.1 312.6,427.3 313.0,427.3 313.4,427.3 313.8,427.4 314.2,427.5 314.6,427.6 315.0,427.8 315.4,427.7 315.8,427.3 316.2,427.2 316.6,427.5 317.0,427.7 317.4,427.5 317.8,427.3 318.2,427.4 318.6,427.6 319.0,427.6 319.4,427.6 319.8,427.5 320.2,427.5 320.6,427.4 321.0,427.6 321.4,427.8 321.8,427.8 322.2,427.7 322.6,427.7 323.0,427.7 323.4,427.7 323.8,427.8 324.2,428.1 324.6,428.1 325.0,427.9 325.4,427.9 325.8,428.1 326.2,428.2 326.6,428.0 327.0,427.8 327.4,427.7 327.8,427.8 328.2,428.2 328.6,428.3 329.0,428.3 329.4,428.6 329.8,428.6 330.2,428.1 330.6,427.7 331.0,427.7 331.4,428.1 331.8,428.4 332.2,428.3 332.6,428.0 333.0,428.2 333.4,428.5 333.8,428.4 334.2,428.4 334.6,428.6 335.0,428.5 335.4,428.4 335.8,428.5 336.2,428.5 336.6,428.5 337.0,428.7 337.4,428.8 337.8,428.7 338.2,428.7 338.6,428.7 339.0,428.7 339.4,428.7 339.8,428.9 340.2,429.0 340.6,429.0 341.0,428.7 341.4,428.4 341.8,428.5 342.2,428.8 342.6,428.8 343.0,428.7 343.4,428.8 343.8,428.8 344.2,428.9 344.6,429.0 345.0,429.0 345.4,429.0 345.8,429.0 346.2,428.9 346.6,429.0 347.0,428.8 347.4,428.8 347.8,429.0 348.2,428.9 348.6,428.8 349.0,428.8 349.4,428.9 349.8,429.2 350.2,429.2 350.6,429.1 351.0,429.1 351.4,429.3 351.8,429.5 352.2,429.4 352.6,429.2 353.0,429.3 353.4,429.2 353.8,429.3 354.2,429.5 354.6,429.3 355.0,429.0 355.4,428.9 355.8,429.0 356.2,429.2 356.6,429.3 357.0,429.3 357.4,429.2 357.8,429.3 358.2,429.6 358.6,429.8 359.0,429.7 359.4,429.8 359.8,429.9 360.2,429.7 360.6,429.5 361.0,429.5 361.4,429.6 361.8,429.6 362.2,429.5 362.6,429.3 363.0,429.4 363.4,429.5 363.8,429.3 364.2,429.3 364.6,429.5 365.0,429.4 365.4,429.5 365.8,429.6 366.2,429.6 366.6,429.7 367.0,429.7 367.4,429.7 367.8,429.7 368.2,429.8 368.6,430.0 369.0,430.1 369.4,430.0 369.8,429.8 370.2,429.8 370.6,429.8 371.0,429.7 371.4,429.7 371.8,429.9 372.2,430.0 372.6,430.0 373.0,429.9 373.4,429.4 373.8,429.1 374.2,428.7 374.6,427.7 375.0,426.4 375.4,424.9 375.8,423.3 376.2,422.2 376.6,421.9 377.0,422.0 377.4,422.6 377.8,424.0 378.2,425.6 378.6,426.9 379.0,428.1 379.4,429.0 379.8,429.3 380.2,429.5 380.6,429.9 381.0,430.0 381.4,429.9 381.8,430.0 382.2,430.2 382.6,429.9 383.0,429.9 383.4,430.3 383.8,430.6 384.2,430.6 384.6,430.3 385.0,430.2 385.4,430.3 385.8,430.4 386.2,430.3 386.6,430.4 387.0,430.6 387.4,430.6 387.8,430.6 388.2,430.5 388.6,430.5 389.0,430.6 389.4,430.7 389.8,430.8 390.2,430.6 390.6,430.6 391.0,431.1 391.4,430.9 391.8,430.5 392.2,430.4 392.6,430.4 393.0,430.6 393.4,430.7 393.8,430.8 394.2,430.9 394.6,430.8 395.0,430.7 395.4,430.7 395.8,430.6 396.2,430.7 396.6,430.8 397.0,430.8 397.4,430.5 397.8,430.4 398.2,430.7 398.6,430.8 399.0,430.9 399.4,430.9 399.8,430.7 400.2,430.5 400.6,430.3 401.0,430.4 401.4,430.7 401.8,430.9 402.2,431.0 402.6,431.0 403.0,431.0 403.4,431.0 403.8,430.9 404.2,430.9 404.6,430.8 405.0,430.7 405.4,430.7 405.8,430.6 406.2,430.5 406.6,430.5 407.0,430.6 407.4,430.8 407.8,430.7 408.2,430.7 408.6,431.0 409.0,431.1 409.4,431.1 409.8,431.0 410.2,430.7 410.6,430.4 411.0,430.7 411.4,430.9 411.8,430.9 412.2,430.9 412.6,430.9 413.0,430.8 413.4,430.7 413.8,430.9 414.2,431.1 414.6,431.1 415.0,431.1 415.4,431.0 415.8,431.0 416.2,430.9 416.6,430.7 417.0,430.7 417.4,431.0 417.8,431.0 418.2,430.9 418.6,431.0 419.0,431.0 419.4,431.0 419.8,430.9 420.2,430.8 420.6,430.9 421.0,431.2 421.4,431.1 421.8,431.0 422.2,431.0 422.6,431.0 423.0,430.9 423.4,430.7 423.8,430.6 424.2,430.8 424.6,431.0 425.0,431.3 425.4,431.4 425.8,431.4 426.2,431.3 426.6,431.0 427.0,431.0 427.4,431.1 427.8,431.1 428.2,430.9 428.6,430.8 429.0,430.7 429.4,430.5 429.8,430.6 430.2,430.9 430.6,431.0 431.0,430.9 431.4,431.0 431.8,431.1 432.2,431.0 432.6,430.8 433.0,430.7 433.4,430.9 433.8,431.1 434.2,431.1 434.6,430.9 435.0,431.0 435.4,431.1 435.8,431.0 436.2,431.0 436.6,431.1 437.0,431.0 437.4,430.8 437.8,430.9 438.2,431.4 438.6,431.4 439.0,431.0 439.4,431.0 439.8,431.2 440.2,431.2 440.6,431.0 441.0,430.8 441.4,430.9 441.8,430.9 442.2,431.0 442.6,430.9 443.0,431.0 443.4,431.2 443.8,431.2 444.2,430.9 444.6,430.8 445.0,430.9 445.4,431.1 445.8,431.2 446.2,431.2 446.6,431.0 447.0,430.9 447.4,430.9 447.8,431.1 448.2,430.9 448.6,430.7 449.0,430.6 449.4,430.6 449.8,430.8 450.2,431.0 450.6,431.1 451.0,431.2 451.4,431.1 451.8,431.1 452.2,431.1 452.6,430.8 453.0,430.7 453.4,430.9 453.8,431.0 454.2,430.9 454.6,430.8 455.0,430.9 455.4,431.0 455.8,431.0 456.2,431.0 456.6,431.2 457.0,431.3 457.4,431.4 457.8,431.5 458.2,431.1 458.6,430.8 459.0,430.8 459.4,430.9 459.8,430.7 460.2,430.4 460.6,430.6 461.0,431.0 461.4,431.0 461.8,430.8 462.2,430.7 462.6,430.8 463.0,430.9 463.4,431.0 463.8,431.0 464.2,431.0 464.6,431.0 465.0,431.1 465.4,431.2 465.8,431.1 466.2,431.0 466.6,430.9 467.0,430.8 467.4,430.7 467.8,430.8 468.2,430.9 468.6,431.0 469.0,431.0 469.4,430.8 469.8,430.8 470.2,431.1 470.6,431.0 471.0,430.7 471.4,430.8 471.8,430.8 472.2,430.5 472.6,430.6 473.0,430.8 473.4,430.9 473.8,430.8 474.2,430.6 474.6,430.4 475.0,429.7 475.4,428.8 475.8,427.8 476.2,426.5 476.6,424.8 477.0,423.3 477.4,422.0 477.8,421.4 478.2,421.9 478.6,422.8 479.0,423.9 479.4,425.5 479.8,427.2 480.2,428.4 480.6,429.3 481.0,429.7 481.4,430.2 481.8,430.5 482.2,430.6 482.6,430.6 483.0,430.4 483.4,430.3 483.8,430.0 484.2,429.5 484.6,428.8 485.0,427.8 485.4,426.3 485.8,424.4 486.2,422.9 486.6,421.9 487.0,421.4 487.4,421.9 487.8,423.3 488.2,424.9 488.6,426.4 489.0,427.6 489.4,428.6 489.8,429.5 490.2,430.2 490.6,430.8 491.0,430.9 491.4,430.9 491.8,430.8 492.2,430.7 492.6,430.8 493.0,431.0 493.4,431.0 493.8,430.9 494.2,430.7 494.6,430.7 495.0,430.9 495.4,431.0 495.8,431.0 496.2,430.9 496.6,430.8 497.0,430.9 497.4,431.0 497.8,431.0 498.2,430.9 498.6,431.0 499.0,431.0 499.4,431.0 499.8,431.0 500.2,431.1 500.6,431.2 501.0,431.3 501.4,431.2 501.8,431.0 502.2,430.8 502.6,431.1 503.0,431.3 503.4,430.9 503.8,430.7 504.2,430.9 504.6,431.1 505.0,431.1 505.4,430.9 505.8,431.0 506.2,431.2 506.6,431.3 507.0,431.5 507.4,431.3 507.8,431.1 508.2,431.1 508.6,430.9 509.0,430.8 509.4,431.0 509.8,430.9 510.2,430.8 510.6,430.8 511.0,430.9 511.4,431.0 511.8,431.0 512.2,431.0 512.6,431.1 513.0,431.0 513.4,430.9 513.8,431.2 514.2,431.3 514.6,431.1 515.0,431.1 515.4,431.0 515.8,430.9 516.2,431.0 516.6,431.1 517.0,431.1 517.4,431.1 517.8,431.0 518.2,430.9 518.6,430.8 519.0,430.8 519.4,431.0 519.8,431.2 520.2,431.0 520.6,430.8 521.0,430.9 521.4,430.7 521.8,430.4 522.2,430.6 522.6,430.7 523.0,430.7 523.4,430.6 523.8,430.5 524.2,430.6 524.6,430.4 525.0,430.3 525.4,430.2 525.8,429.8 526.2,429.0 526.6,427.6 527.0,426.0 527.4,424.2 527.8,422.2 528.2,420.4 528.6,419.4 529.0,419.4 529.4,420.4 529.8,421.9 530.2,424.1 530.6,426.2 531.0,427.7 531.4,428.8 531.8,429.6 532.2,430.0 532.6,430.3 533.0,430.6 533.4,430.8 533.8,431.0 534.2,430.9 534.6,430.7 535.0,430.7 535.4,430.7 535.8,430.8 536.2,430.9 536.6,431.0 537.0,431.2 537.4,431.1 537.8,430.8 538.2,430.8 538.6,430.8 539.0,430.7 539.4,431.0 539.8,431.2 540.2,431.1 540.6,431.0 541.0,431.1 541.4,431.1 541.8,431.2 542.2,431.3 542.6,431.0 543.0,430.7 543.4,430.9 543.8,431.1 544.2,431.1 544.6,430.9 545.0,430.9 545.4,431.0 545.8,431.1 546.2,431.1 546.6,430.9 547.0,430.9 547.4,431.1 547.8,431.1 548.2,431.2 548.6,431.2 549.0,431.1 549.4,431.0 549.8,430.9 550.2,430.7 550.6,430.7 551.0,430.9 551.4,430.9 551.8,430.9 552.2,430.9 552.6,430.9 553.0,430.9 553.4,430.9 553.8,430.7 554.2,430.7 554.6,431.0 555.0,430.9 555.4,430.6 555.8,430.7 556.2,431.0 556.6,431.0 557.0,431.0 557.4,430.9 557.8,430.9 558.2,431.0 558.6,430.9 559.0,430.9 559.4,431.1 559.8,431.1 560.2,430.9 560.6,430.9 561.0,431.0 561.4,431.0 561.8,431.1 562.2,431.2 562.6,431.2 563.0,430.9 563.4,430.6 563.8,430.8 564.2,431.0 564.6,431.0 565.0,430.8 565.4,430.6 565.8,430.8 566.2,430.9 566.6,430.7 567.0,430.7 567.4,430.8 567.8,431.0 568.2,431.2 568.6,431.3 569.0,431.1 569.4,430.7 569.8,430.7 570.2,431.2 570.6,431.3 571.0,431.1 571.4,430.9 571.8,430.6 572.2,430.5 572.6,430.6 573.0,430.8 573.4,430.8 573.8,430.9 574.2,430.9 574.6,431.1 575.0,431.2 575.4,431.2 575.8,431.2 576.2,431.0 576.6,430.9 577.0,430.9 577.4,431.0 577.8,431.0 578.2,431.0 578.6,431.1 579.0,431.3 579.4,431.3 579.8,431.0 580.2,430.9 580.6,430.7 581.0,430.6 581.4,430.9 581.8,431.0 582.2,430.8 582.6,430.5 583.0,430.5 583.4,430.9 583.8,431.1 584.2,431.0 584.6,430.5 585.0,430.2 585.4,429.8 585.8,429.1 586.2,428.5 586.6,427.6 587.0,426.2 587.4,424.5 587.8,422.8 588.2,421.5 588.6,420.8 589.0,421.3 589.4,422.5 589.8,424.1 590.2,425.8 590.6,427.3 591.0,428.6 591.4,429.4 591.8,429.8 592.2,430.2 592.6,430.3 593.0,430.4 593.4,430.8 593.8,431.2 594.2,431.4 594.6,431.2 595.0,430.9 595.4,431.1 595.8,431.0 596.2,430.7 596.6,430.9 597.0,431.1 597.4,431.0 597.8,431.0 598.2,431.1 598.6,431.1 599.0,431.0 599.4,430.9 599.8,430.9 600.2,430.9 600.6,430.8 601.0,431.0 601.4,431.1 601.8,431.1 602.2,431.0 602.6,430.9 603.0,430.9 603.4,431.0 603.8,431.1 604.2,431.2 604.6,431.1 605.0,431.1 605.4,431.1 605.8,430.8 606.2,430.7 606.6,430.9 607.0,430.8 607.4,430.7 607.8,430.7 608.2,430.9 608.6,431.0 609.0,431.0 609.4,431.1 609.8,431.1 610.2,431.0 610.6,431.0 611.0,430.8 611.4,430.7 611.8,430.8 612.2,431.1 612.6,431.1 613.0,431.1 613.4,430.9 613.8,430.7 614.2,430.9 614.6,431.0 615.0,430.9 615.4,430.9 615.8,430.9 616.2,431.0 616.6,430.8 617.0,430.6 617.4,430.9 617.8,431.3 618.2,431.1 618.6,430.9 619.0,430.9 619.4,430.9 619.8,430.9 620.2,431.0 620.6,431.0 621.0,430.8 621.4,430.9 621.8,430.9 622.2,430.8 622.6,430.7 623.0,430.8 623.4,430.7 623.8,430.7 624.2,430.7 624.6,430.7 625.0,430.7 625.4,430.7 625.8,430.9 626.2,431.0 626.6,430.7 627.0,430.4 627.4,430.0 627.8,429.5 628.2,428.8 628.6,427.5 629.0,425.9 629.4,424.3 629.8,422.9 630.2,422.1 630.6,421.9 631.0,422.3 631.4,423.4 631.8,424.9 632.2,426.5 632.6,428.1 633.0,429.3 633.4,429.9 633.8,430.2 634.2,430.5 634.6,430.5 635.0,430.4 635.4,430.4 635.8,430.4 636.2,430.4 636.6,430.5 637.0,430.5 637.4,430.5 637.8,430.7 638.2,430.7 638.6,430.6 639.0,430.4 639.4,430.1 639.8,429.6 640.2,428.7 640.6,427.3 641.0,425.7 641.4,423.8 641.8,421.3 642.2,419.1 642.6,417.9 643.0,417.4 643.4,418.1 643.8,419.9 644.2,422.3 644.6,424.5 645.0,426.5 645.4,428.2 645.8,429.2 646.2,429.8 646.6,430.2 647.0,430.7 647.4,430.9 647.8,430.7 648.2,430.8 648.6,431.1 649.0,430.9 649.4,430.6 649.8,430.5 650.2,430.5 650.6,430.4 651.0,430.4 651.4,430.3 651.8,430.1 652.2,429.9 652.6,429.3 653.0,428.6 653.4,427.9 653.8,427.0 654.2,426.0 654.6,425.2 655.0,424.6 655.4,424.3 655.8,424.6 656.2,425.4 656.6,426.4 657.0,427.3 657.4,428.1 657.8,428.9 658.2,429.5 658.6,430.0 659.0,430.2 659.4,430.3 659.8,430.5 660.2,430.6 660.6,430.5 661.0,430.6 661.4,430.7 661.8,430.8 662.2,430.9 662.6,431.1 663.0,431.0 663.4,430.8 663.8,431.0 664.2,430.9 664.6,430.6 665.0,430.7 665.4,430.9 665.8,431.0 666.2,430.8 666.6,430.5 667.0,430.7 667.4,431.1 667.8,431.1 668.2,430.9 668.6,430.8 669.0,430.8 669.4,430.8 669.8,430.9 670.2,430.8 670.6,430.7 671.0,430.6 671.4,430.4 671.8,430.1 672.2,429.5 672.6,428.6 673.0,427.3 673.4,425.5 673.8,423.5 674.2,421.2 674.6,418.9 675.0,417.6 675.4,417.6 675.8,418.7 676.2,420.5 676.6,422.8 677.0,424.8 677.4,426.6 677.8,428.0 678.2,428.8 678.6,429.5 679.0,430.2 679.4,430.3 679.8,430.3 680.2,430.6 680.6,430.8 681.0,430.7 681.4,430.5 681.8,430.4 682.2,430.5 682.6,430.5 683.0,430.4 683.4,430.3 683.8,430.0 684.2,429.3 684.6,428.3 685.0,427.3 685.4,425.5 685.8,422.5 686.2,419.4 686.6,416.5 687.0,414.0 687.4,412.8 687.8,413.3 688.2,415.2 688.6,417.9 689.0,421.1 689.4,424.1 689.8,426.4 690.2,428.0 690.6,429.1 691.0,429.9 691.4,430.4 691.8,430.6 692.2,430.6 692.6,430.6 693.0,430.6 693.4,430.5 693.8,430.8 694.2,431.0 694.6,430.9 695.0,430.7 695.4,430.7 695.8,430.9 696.2,430.8 696.6,430.7 697.0,430.7 697.4,430.8 697.8,430.8 698.2,430.7 698.6,430.7 699.0,430.7 699.4,430.7 699.8,430.6 700.2,430.4 700.6,430.2 701.0,430.0 701.4,429.5 701.8,429.0 702.2,428.2 702.6,426.5 703.0,424.5 703.4,422.5 703.8,420.4 704.2,418.5 704.6,417.1 705.0,416.2 705.4,415.8 705.8,416.4 706.2,418.2 706.6,420.4 707.0,422.5 707.4,424.6 707.8,426.5 708.2,427.9 708.6,429.0 709.0,429.7 709.4,430.0 709.8,430.3 710.2,430.5 710.6,430.6 711.0,430.7 711.4,430.7 711.8,430.8 712.2,430.9 712.6,431.0 713.0,430.9 713.4,430.9 713.8,430.8 714.2,430.7 714.6,430.8 715.0,430.8 715.4,430.8 715.8,430.8 716.2,430.8 716.6,430.9 717.0,430.8 717.4,430.6 717.8,430.5 718.2,430.7 718.6,430.7 719.0,430.6 719.4,430.8 719.8,431.0 720.2,430.9 720.6,430.7 721.0,430.8 721.4,430.9 721.8,430.6 722.2,430.6 722.6,430.9 723.0,430.9 723.4,431.0 723.8,431.0 724.2,430.9 724.6,430.8 725.0,430.9 725.4,430.9 725.8,430.8 726.2,430.8 726.6,430.9 727.0,430.8 727.4,430.7 727.8,430.9 728.2,430.8 728.6,430.6 729.0,430.4 729.4,430.4 729.8,430.7 730.2,430.6 730.6,430.2 731.0,430.3 731.4,430.7 731.8,430.9 732.2,430.8 732.6,430.6 733.0,430.3 733.4,430.0 733.8,429.8 734.2,429.5 734.6,429.2 735.0,429.3 735.4,429.0 735.8,428.0 736.2,426.0 736.6,421.9 737.0,413.9 737.4,400.3 737.8,380.4 738.2,357.1 738.6,336.7 739.0,326.7 739.4,329.3 739.8,339.2 740.2,351.0 740.6,363.4 741.0,377.6 741.4,392.5 741.8,405.8 742.2,415.9 742.6,422.4 743.0,426.4 743.4,428.2 743.8,428.7 744.2,429.1 744.6,429.6 745.0,429.9 745.4,430.0 745.8,430.0 746.2,430.1 746.6,430.3 747.0,430.6 747.4,430.6 747.8,430.3 748.2,430.3 748.6,430.2 749.0,430.3 749.4,430.5 749.8,430.3 750.2,430.1 750.6,430.6 751.0,431.1 751.4,431.0 751.8,430.9 752.2,430.7 752.6,430.4 753.0,430.4 753.4,430.8 753.8,431.0 754.2,431.1 754.6,431.0 755.0,430.9 755.4,431.0 755.8,431.1 756.2,431.0 756.6,430.8 757.0,430.7 757.4,430.8 757.8,430.8 758.2,430.8 758.6,430.6 759.0,430.6 759.4,430.8 759.8,431.0 760.2,430.8 760.6,430.2 761.0,430.4 761.4,430.9 761.8,430.8 762.2,430.7 762.6,430.8 763.0,430.6 763.4,430.4 763.8,430.4 764.2,430.2 764.6,429.6 765.0,429.0 765.4,428.0 765.8,426.8 766.2,425.4 766.6,423.6 767.0,421.8 767.4,420.3 767.8,419.3 768.2,419.6 768.6,420.5 769.0,421.9 769.4,423.5 769.8,425.3 770.2,426.7 770.6,427.9 771.0,428.8 771.4,429.3 771.8,429.7 772.2,430.0 772.6,430.4 773.0,430.6 773.4,430.6 773.8,430.7 774.2,430.8 774.6,430.7 775.0,430.7 775.4,430.8 775.8,430.8 776.2,430.6 776.6,430.6 777.0,430.6 777.4,430.2 777.8,430.0 778.2,430.2 778.6,430.6 779.0,430.7 779.4,430.7 779.8,430.8 780.2,430.9 780.6,431.0 781.0,430.7 781.4,430.4 781.8,430.3 782.2,430.2 782.6,430.1 783.0,430.0 783.4,430.1 783.8,430.1 784.2,429.8 784.6,429.4 785.0,429.0 785.4,428.6 785.8,427.9 786.2,426.0 786.6,421.8 787.0,413.8 787.4,401.3 787.8,385.1 788.2,368.5 788.6,357.1 789.0,355.3 789.4,361.2 789.8,369.3 790.2,376.8 790.6,384.7 791.0,394.1 791.4,404.2 791.8,413.7 792.2,420.7 792.6,424.7 793.0,427.2 793.4,428.7 793.8,429.6 794.2,429.8 794.6,429.7 795.0,430.0 795.4,430.1 795.8,430.1 796.2,430.3 796.6,430.5 797.0,430.5 797.4,430.2 797.8,430.6 798.2,430.9 798.6,430.7 799.0,430.6 799.4,430.7 799.8,430.7 800.2,430.9 800.6,430.8 801.0,430.6 801.4,430.6 801.8,430.6 802.2,430.7 802.6,430.5 803.0,430.3 803.4,430.4 803.8,430.7 804.2,431.0 804.6,431.0 805.0,431.0 805.4,431.0 805.8,430.8 806.2,430.7 806.6,430.7 807.0,431.0 807.4,431.2 807.8,431.0 808.2,430.8 808.6,430.7 809.0,430.7 809.4,430.8 809.8,430.8 810.2,430.7 810.6,430.5 811.0,430.3 811.4,430.3 811.8,430.6 812.2,430.8 812.6,430.8 813.0,430.8 813.4,430.6 813.8,430.6 814.2,430.7 814.6,431.0 815.0,431.2 815.4,430.9 815.8,430.8 816.2,430.9 816.6,430.9 817.0,430.9 817.4,430.9 817.8,431.1 818.2,431.4 818.6,431.0 819.0,430.8 819.4,430.9 819.8,430.9 820.2,430.8 820.6,430.8 821.0,431.0 821.4,431.0 821.8,430.8 822.2,430.8 822.6,431.0 823.0,430.9 823.4,430.9 823.8,430.9 824.2,430.8 824.6,430.8 825.0,430.7 825.4,430.5 825.8,430.7 826.2,430.9 826.6,431.0 827.0,431.0 827.4,430.9 827.8,431.0 828.2,431.1 828.6,430.9 829.0,430.7 829.4,430.8 829.8,431.1 830.2,431.1 830.6,430.8 831.0,430.6 831.4,431.0 831.8,431.3 832.2,431.3 832.6,431.0 833.0,430.8 833.4,430.7 833.8,430.6 834.2,430.7 834.6,431.1 835.0,431.2 835.4,431.2 835.8,430.9 836.2,430.7 836.6,430.9 837.0,430.8 837.4,430.8 837.8,431.2 838.2,431.0 838.6,430.6 839.0,430.6 839.4,430.7 839.8,431.0 840.2,431.1 840.6,431.0 841.0,430.9 841.4,430.9 841.8,431.0 842.2,430.8 842.6,430.7 843.0,430.7 843.4,430.7 843.8,430.8 844.2,430.8 844.6,430.7 845.0,430.6 845.4,430.6 845.8,430.7 846.2,430.7 846.6,430.7 847.0,430.7 847.4,430.8 847.8,430.6 848.2,430.4 848.6,430.8 849.0,431.0 849.4,430.9 849.8,430.5 850.2,430.2 850.6,430.2 851.0,430.3 851.4,430.4 851.8,430.4 852.2,430.3 852.6,430.2 853.0,430.2 853.4,430.3 853.8,430.2 854.2,430.0 854.6,430.1 855.0,430.3 855.4,430.1 855.8,430.1 856.2,430.2 856.6,430.0 857.0,430.0 857.4,430.0 857.8,429.8 858.2,429.4 858.6,429.2 859.0,429.1 859.4,428.8 859.8,428.4 860.2,427.9 860.6,427.5 861.0,427.4 861.4,427.0 861.8,426.1 862.2,425.0 862.6,423.3 863.0,420.1 863.4,413.5 863.8,399.1 864.2,370.8 864.6,323.5 865.0,258.9 865.4,189.8 865.8,138.7 866.2,126.0 866.6,149.1 867.0,184.8 867.4,214.3 867.8,235.8 868.2,259.5 868.6,293.3 869.0,332.4 869.4,367.7 869.8,393.8 870.2,410.1 870.6,418.8 871.0,423.0 871.4,424.9 871.8,425.9 872.2,426.7 872.6,427.3 873.0,427.8 873.4,428.2 873.8,428.7 874.2,429.0 874.6,429.2 875.0,429.4 875.4,429.7 875.8,429.5 876.2,429.5 876.6,429.9 877.0,430.2 877.4,430.2 877.8,430.1 878.2,430.1 878.6,430.2 879.0,430.3 879.4,430.3 879.8,430.3 880.2,430.5 880.6,430.6 881.0,430.5 881.4,430.6 881.8,430.6 882.2,430.6 882.6,430.6 883.0,430.7 883.4,431.0 883.8,431.0 884.2,430.9 884.6,430.7 885.0,430.6 885.4,430.7 885.8,430.5 886.2,430.3 886.6,430.5 887.0,430.6 887.4,430.6 887.8,430.8 888.2,430.6 888.6,430.2 889.0,430.2 889.4,430.0 889.8,429.6 890.2,429.3 890.6,428.9 891.0,428.4 891.4,428.0 891.8,427.7 892.2,427.2 892.6,426.4 893.0,425.4 893.4,424.6 893.8,424.0 894.2,423.5 894.6,422.8 895.0,422.5 895.4,422.7 895.8,423.1 896.2,423.5 896.6,424.1 897.0,424.8 897.4,425.4 897.8,426.0 898.2,426.8 898.6,427.6 899.0,428.3 899.4,428.8 899.8,429.2 900.2,429.7 900.6,430.1 901.0,430.2 901.4,430.3 901.8,430.5 902.2,430.7 902.6,430.8 903.0,431.0 903.4,431.0 903.8,430.9 904.2,430.8 904.6,430.7 905.0,430.8 905.4,430.8 905.8,430.7 906.2,430.7 906.6,430.7 907.0,430.9 907.4,431.3 907.8,431.3 908.2,431.0 908.6,431.1 909.0,431.1 909.4,431.1 909.8,431.3 910.2,431.2 910.6,430.9 911.0,430.6 911.4,430.7 911.8,430.9 912.2,430.9 912.6,430.9 913.0,430.9 913.4,430.9 913.8,430.8 914.2,430.7 914.6,430.8 915.0,430.8 915.4,430.8 915.8,431.1 916.2,431.1 916.6,431.0 917.0,431.1 917.4,431.1 917.8,431.0 918.2,430.8 918.6,430.8 919.0,431.2 919.4,431.3 919.8,431.2 920.2,431.0 920.6,431.0 921.0,431.0 921.4,431.0 921.8,431.1 922.2,431.0 922.6,430.9 923.0,430.9 923.4,430.9 923.8,431.0 924.2,431.2 924.6,431.3 925.0,431.1 925.4,430.9 925.8,430.9 926.2,431.0 926.6,431.0 927.0,431.2 927.4,431.2 927.8,431.0 928.2,430.8 928.6,431.0 929.0,431.2 929.4,431.1 929.8,431.1 930.2,431.0 930.6,431.0 931.0,431.2 931.4,431.3 931.8,431.3 932.2,431.2 932.6,431.1 933.0,431.2 933.4,431.4 933.8,431.4 934.2,431.3 934.6,431.2 935.0,431.3 935.4,431.4 935.8,431.2 936.2,431.1 936.6,431.2 937.0,431.4 937.4,431.4 937.8,431.4 938.2,431.2 938.6,431.1 939.0,431.2 939.4,431.1 939.8,430.9 940.2,431.1 940.6,431.4 941.0,431.4 941.4,431.0 941.8,430.9 942.2,431.2 942.6,431.3 943.0,431.2 943.4,431.3 943.8,431.5 944.2,431.6 944.6,431.5 945.0,431.4 945.4,431.3 945.8,431.2 946.2,431.2 946.6,431.0 947.0,431.1 947.4,431.2 947.8,431.1 948.2,431.1 948.6,431.2 949.0,431.1 949.4,430.9 949.8,430.8 950.2,431.0 950.6,431.0 951.0,431.2 951.4,431.2 951.8,431.1 952.2,431.1 952.6,431.2 953.0,431.2 953.4,431.1 953.8,431.2 954.2,431.5 954.6,431.8 955.0,431.6 955.4,431.2 955.8,431.1 956.2,431.3 956.6,431.4 957.0,431.5 957.4,431.8 957.8,431.8 958.2,431.7 958.6,431.4 959.0,431.1 959.4,431.1 959.8,431.2 960.2,431.1 960.6,431.2 961.0,431.3 961.4,431.5 961.8,431.3 962.2,431.1 962.6,431.2 963.0,431.4 963.4,431.4 963.8,431.3 964.2,431.5 964.6,431.7 965.0,431.6 965.4,431.4 965.8,431.3 966.2,431.1 966.6,431.1 967.0,431.3 967.4,431.4 967.8,431.5 968.2,431.5 968.6,431.4 969.0,431.5 969.4,431.6 969.8,431.7 970.2,431.6 970.6,431.5 971.0,431.5 971.4,431.5 971.8,431.2 972.2,431.2 972.6,431.3 973.0,431.1 973.4,431.1 973.8,431.1 974.2,431.2 974.6,431.3 975.0,431.4 975.4,431.4 975.8,431.2 976.2,431.1 976.6,431.3 977.0,431.5 977.4,431.5 977.8,431.5 978.2,431.5 978.6,431.7 979.0,431.5 979.4,431.5 979.8,431.7 980.2,431.8 980.6,431.6 981.0,431.5 981.4,431.5 981.8,431.5 982.2,431.5 982.6,431.4 983.0,431.4 983.4,431.6 983.8,431.6 984.2,431.4 984.6,431.4 985.0,431.5 985.4,431.5 985.8,431.3 986.2,431.2 986.6,431.4 987.0,431.6 987.4,431.8 987.8,431.7 988.2,431.6 988.6,431.5 989.0,431.4 989.4,431.6 989.8,431.8 990.2,431.7 990.6,431.5 991.0,431.3 991.4,431.4 991.8,431.6 992.2,431.8 992.6,431.9 993.0,432.0 993.4,431.8 993.8,431.7 994.2,431.6 994.6,431.7 995.0,431.8 995.4,431.8 995.8,431.6 996.2,431.5 996.6,431.6 997.0,431.6 997.4,431.8 997.8,431.7 998.2,431.5 998.6,431.4 999.0,431.4 999.4,431.6 999.8,431.7 1000.2,431.6 1000.6,431.4 1001.0,431.6 1001.4,431.7 1001.8,431.6 1002.2,431.5 1002.6,431.5 1003.0,431.7 1003.4,431.8 1003.8,432.0 1004.2,431.8 1004.6,431.7 1005.0,431.6 1005.4,431.6 1005.8,431.8 1006.2,431.9 1006.6,431.7 1007.0,431.7 1007.4,431.7 1007.8,431.6 1008.2,431.7 1008.6,431.6 1009.0,431.6 1009.4,431.7 1009.8,431.8 1010.2,431.8 1010.6,431.8 1011.0,431.8 1011.4,431.9 1011.8,431.8 1012.2,431.5 1012.6,431.6 1013.0,431.6 1013.4,431.5 1013.8,431.5 1014.2,431.6 1014.6,431.7 1015.0,431.6 1015.4,431.7 1015.8,431.7 1016.2,431.7 1016.6,432.0 1017.0,432.1 1017.4,431.9 1017.8,431.8 1018.2,431.8 1018.6,431.8 1019.0,431.9 1019.4,432.1 1019.8,431.9 1020.2,431.9 1020.6,431.8 1021.0,431.5 1021.4,431.4 1021.8,431.8 1022.2,431.9 1022.6,431.7 1023.0,431.7 1023.4,431.9 1023.8,432.1 1024.2,432.0 1024.6,431.8 1025.0,431.6 1025.4,431.4 1025.8,431.4 1026.2,431.8 1026.6,432.1 1027.0,432.0 1027.4,431.7 1027.8,431.5 1028.2,431.6 1028.6,431.7 1029.0,431.8 1029.4,431.9 1029.8,431.9 1030.2,431.9 1030.6,431.8 1031.0,431.9 1031.4,431.9 1031.8,431.8 1032.2,431.6 1032.6,431.6 1033.0,431.8 1033.4,432.1 1033.8,432.1 1034.2,432.1 1034.6,432.1 1035.0,432.1 1035.4,432.0 1035.8,431.9 1036.2,431.8 1036.6,431.9 1037.0,432.0 1037.4,431.8 1037.8,431.9 1038.2,432.0 1038.6,431.8 1039.0,431.6 1039.4,431.9 1039.8,432.0 1040.2,431.8 1040.6,431.7 1041.0,431.7 1041.4,431.8 1041.8,432.0 1042.2,432.1 1042.6,431.8 1043.0,431.7 1043.4,431.6 1043.8,431.5 1044.2,431.5 1044.6,431.6 1045.0,431.8 1045.4,432.0 1045.8,432.0 1046.2,431.8 1046.6,431.7 1047.0,431.7 1047.4,431.9 1047.8,432.0 1048.2,431.9 1048.6,431.9 1049.0,432.1 1049.4,432.1 1049.8,431.9 1050.2,431.8 1050.6,431.8 1051.0,431.9 1051.4,432.2 1051.8,432.1 1052.2,431.9 1052.6,431.6 1053.0,431.6 1053.4,431.9 1053.8,432.0 1054.2,431.8 1054.6,431.7 1055.0,431.8 1055.4,431.9 1055.8,431.9 1056.2,431.7 1056.6,431.8 1057.0,431.7 1057.4,431.7 1057.8,431.7 1058.2,431.8 1058.6,432.3 1059.0,432.5 1059.4,432.1 1059.8,431.9 1060.2,431.8 1060.6,432.0 1061.0,431.9 1061.4,431.8 1061.8,431.9 1062.2,431.7 1062.6,431.5 1063.0,431.4 1063.4,431.4 1063.8,431.4 1064.2,431.4 1064.6,431.4 1065.0,431.3 1065.4,431.0 1065.8,430.9 1066.2,430.3 1066.6,429.1 1067.0,426.7 1067.4,421.9 1067.8,413.4 1068.2,401.1 1068.6,385.8 1069.0,371.9 1069.4,365.6 1069.8,369.7 1070.2,380.2 1070.6,390.6 1071.0,396.6 1071.4,397.3 1071.8,395.6 1072.2,396.6 1072.6,402.4 1073.0,410.4 1073.4,418.0 1073.8,423.7 1074.2,427.3 1074.6,429.3 1075.0,430.5 1075.4,431.0 1075.8,431.0 1076.2,430.9 1076.6,431.2 1077.0,431.5 1077.4,431.7 1077.8,431.9 1078.2,432.0 1078.6,432.1 1079.0,431.9 1079.4,431.8 1079.8,431.9 1080.2,431.9 1080.6,431.9 1081.0,431.9 1081.4,431.9 1081.8,431.7 1082.2,431.8 1082.6,432.1 1083.0,432.2 1083.4,432.2 1083.8,432.4 1084.2,432.3 1084.6,432.0 1085.0,431.8 1085.4,431.8 1085.8,431.9 1086.2,431.9 1086.6,432.0 1087.0,432.1 1087.4,432.1 1087.8,431.9 1088.2,432.0 1088.6,432.2 1089.0,432.1 1089.4,431.8 1089.8,431.9 1090.2,431.9 1090.6,431.9 1091.0,432.2 1091.4,432.2 1091.8,431.9 1092.2,431.9 1092.6,432.3 1093.0,432.3 1093.4,432.0 1093.8,432.0 1094.2,432.2 1094.6,432.2 1095.0,432.2 1095.4,432.4 1095.8,432.2 1096.2,432.0 1096.6,432.0 1097.0,432.1 1097.4,432.3 1097.8,432.5 1098.2,432.5 1098.6,432.6 1099.0,432.7 1099.4,432.5 1099.8,432.2 1100.2,432.1 1100.6,432.1 1101.0,432.0 1101.4,431.9 1101.8,432.0 1102.2,431.9 1102.6,432.0 1103.0,432.2 1103.4,432.2 1103.8,432.2 1104.2,432.1 1104.6,432.0 1105.0,432.2 1105.4,432.3 1105.8,432.3 1106.2,432.2 1106.6,432.1 1107.0,432.4 1107.4,432.3 1107.8,432.1 1108.2,432.1 1108.6,432.1 1109.0,432.3 1109.4,432.3 1109.8,432.2 1110.2,432.4 1110.6,432.4 1111.0,432.4 1111.4,432.4 1111.8,432.5 1112.2,432.6 1112.6,432.6 1113.0,432.4 1113.4,432.3 1113.8,432.3 1114.2,432.2 1114.6,432.1 1115.0,432.2 1115.4,432.3 1115.8,432.4 1116.2,432.4 1116.6,432.4 1117.0,432.4 1117.4,432.3 1117.8,432.4 1118.2,432.4 1118.6,432.2 1119.0,432.1 1119.4,432.3 1119.8,432.5 1120.2,432.4 1120.6,432.1 1121.0,432.3 1121.4,432.6 1121.8,432.5 1122.2,432.3 1122.6,432.5 1123.0,433.0 1123.4,432.7 1123.8,432.2 1124.2,432.2 1124.6,432.4 1125.0,432.5 1125.4,432.6 1125.8,432.7 1126.2,432.5 1126.6,432.4 1127.0,432.4 1127.4,432.6 1127.8,432.7 1128.2,432.5 1128.6,432.3 1129.0,432.3 1129.4,432.5 1129.8,432.6 1130.2,432.6 1130.6,432.5 1131.0,432.4 1131.4,432.4 1131.8,432.4 1132.2,432.5 1132.6,432.5 1133.0,432.3 1133.4,432.3 1133.8,432.3 1134.2,432.2 1134.6,432.1 1135.0,432.2 1135.4,432.0 1135.8,431.7 1136.2,431.6 1136.6,431.4 1137.0,431.0 1137.4,430.4 1137.8,429.5 1138.2,428.6 1138.6,427.9 1139.0,427.0 1139.4,426.0 1139.8,425.3 1140.2,425.1 1140.6,425.2 1141.0,425.4 1141.4,425.6 1141.8,426.2 1142.2,427.4 1142.6,428.4 1143.0,429.1 1143.4,429.9 1143.8,430.7 1144.2,431.2 1144.6,431.5 1145.0,431.8 1145.4,432.0 1145.8,432.0 1146.2,432.2 1146.6,432.3 1147.0,432.3 1147.4,432.2 1147.8,432.1 1148.2,432.5 1148.6,432.6 1149.0,432.1 1149.4,432.1 1149.8,432.2 1150.2,432.3 1150.6,432.4 1151.0,432.3 1151.4,432.3 1151.8,432.3 1152.2,432.1 1152.6,432.4 1153.0,432.8 1153.4,432.6 1153.8,432.4 1154.2,432.7 1154.6,432.9 1155.0,432.7 1155.4,432.4 1155.8,432.2 1156.2,432.2 1156.6,432.2 1157.0,432.2 1157.4,432.1 1157.8,432.0 1158.2,432.1 1158.6,432.0 1159.0,432.0 1159.4,432.0 1159.8,431.8 1160.2,431.5 1160.6,431.1 1161.0,430.6 1161.4,430.1 1161.8,429.7 1162.2,429.5 1162.6,429.2 1163.0,428.9 1163.4,428.8 1163.8,428.7 1164.2,428.8 1164.6,428.9 1165.0,429.1 1165.4,429.3 1165.8,429.4 1166.2,429.6 1166.6,430.1 1167.0,430.6 1167.4,431.0 1167.8,431.2 1168.2,431.6 1168.6,431.8 1169.0,431.7 1169.4,431.9 1169.8,432.0 1170.2,432.0 1170.6,432.1 1171.0,432.3 1171.4,432.4 1171.8,432.5 1172.2,432.5 1172.6,432.4 1173.0,432.4 1173.4,432.5 1173.8,432.6 1174.2,432.6 1174.6,432.6 1175.0,432.6 1175.4,432.5 1175.8,432.5 1176.2,432.4 1176.6,432.2 1177.0,432.3 1177.4,432.4 1177.8,432.4 1178.2,432.5 1178.6,432.5 1179.0,432.5 1179.4,432.6 1179.8,432.6 1180.2,432.6 1180.6,432.6 1181.0,432.7 1181.4,432.7 1181.8,432.7 1182.2,432.8 1182.6,432.7 1183.0,432.6 1183.4,432.8 1183.8,432.9 1184.2,432.7 1184.6,432.8 1185.0,433.0 1185.4,433.0 1185.8,432.7 1186.2,432.5 1186.6,432.6 1187.0,432.7 1187.4,432.4 1187.8,432.3 1188.2,432.5 1188.6,432.6 1189.0,432.7 1189.4,432.5 1189.8,432.1 1190.2,432.0 1190.6,432.0 1191.0,431.7 1191.4,431.4 1191.8,431.1 1192.2,430.5 1192.6,429.8 1193.0,429.2 1193.4,428.7 1193.8,428.3 1194.2,428.0 1194.6,427.6 1195.0,427.8 1195.4,428.6 1195.8,429.2 1196.2,429.7 1196.6,430.2 1197.0,430.6 1197.4,431.1 1197.8,431.4 1198.2,431.7 1198.6,432.1 1199.0,432.3 1199.4,432.5 1199.8,432.7 1200.2,432.5 1200.6,432.5 1201.0,432.8 1201.4,432.9 1201.8,432.7 1202.2,432.6 1202.6,432.9 1203.0,432.7 1203.4,432.3 1203.8,432.3 1204.2,432.4 1204.6,432.6 1205.0,432.7 1205.4,432.7 1205.8,433.0 1206.2,433.0 1206.6,432.8 1207.0,432.6 1207.4,432.7 1207.8,432.9 1208.2,432.9 1208.6,432.8 1209.0,432.7 1209.4,432.6 1209.8,432.7 1210.2,433.0 1210.6,433.1 1211.0,432.8 1211.4,432.7 1211.8,432.5 1212.2,432.5 1212.6,432.8 1213.0,432.9 1213.4,432.9 1213.8,432.9 1214.2,432.9 1214.6,433.0 1215.0,433.0 1215.4,433.1 1215.8,433.1 1216.2,433.1 1216.6,432.9 1217.0,432.7 1217.4,432.8 1217.8,433.1 1218.2,433.2 1218.6,433.0 1219.0,432.7 1219.4,432.7 1219.8,432.9 1220.2,432.8 1220.6,432.7 1221.0,432.9 1221.4,433.0 1221.8,432.9 1222.2,433.0 1222.6,433.0 1223.0,433.0 1223.4,432.9 1223.8,433.0 1224.2,433.2 1224.6,433.1 1225.0,432.9 1225.4,432.9 1225.8,433.1 1226.2,433.0 1226.6,432.9 1227.0,433.1 1227.4,433.2 1227.8,433.0 1228.2,432.9 1228.6,432.9 1229.0,432.8 1229.4,433.0 1229.8,433.1 1230.2,433.0 1230.6,432.9 1231.0,432.9 1231.4,432.8 1231.8,432.7 1232.2,432.8 1232.6,432.9 1233.0,433.0 1233.4,433.0 1233.8,433.1 1234.2,433.0 1234.6,432.7 1235.0,432.7 1235.4,432.6 1235.8,432.6 1236.2,432.9 1236.6,432.9 1237.0,432.7 1237.4,432.6 1237.8,432.7 1238.2,432.8 1238.6,432.9 1239.0,432.7 1239.4,432.6 1239.8,432.8 1240.2,433.0 1240.6,433.0 1241.0,432.9 1241.4,432.9 1241.8,432.9 1242.2,432.9 1242.6,432.9 1243.0,432.8 1243.4,432.9 1243.8,433.0 1244.2,433.0 1244.6,432.8 1245.0,432.7 1245.4,432.9 1245.8,432.9 1246.2,432.9 1246.6,433.0 1247.0,433.2 1247.4,433.0 1247.8,433.0 1248.2,433.1 1248.6,433.2 1249.0,433.0 1249.4,433.0 1249.8,432.9 1250.2,432.7 1250.6,432.8 1251.0,433.0 1251.4,432.8 1251.8,432.7 1252.2,432.9 1252.6,433.1 1253.0,433.1 1253.4,433.1 1253.8,433.2 1254.2,433.1 1254.6,433.0 1255.0,432.9 1255.4,432.9 1255.8,432.9 1256.2,433.1 1256.6,433.2 1257.0,433.2 1257.4,433.0 1257.8,432.7 1258.2,432.7 1258.6,433.0 1259.0,433.4 1259.4,433.5 1259.8,433.2 1260.2,433.1 1260.6,433.1 1261.0,432.9 1261.4,432.9 1261.8,433.1 1262.2,433.1 1262.6,432.9 1263.0,432.8 1263.4,433.0 1263.8,433.1 1264.2,432.9 1264.6,433.1 1265.0,433.3 1265.4,433.3 1265.8,433.0 1266.2,432.8 1266.6,432.8 1267.0,432.8 1267.4,432.7 1267.8,432.6 1268.2,432.6 1268.6,432.9 1269.0,433.1 1269.4,433.2 1269.8,433.2 1270.2,433.1 1270.6,432.9 1271.0,432.8 1271.4,432.8 1271.8,432.9 1272.2,432.9 1272.6,433.0 1273.0,433.0 1273.4,433.0 1273.8,433.1 1274.2,433.2 1274.6,432.9 1275.0,432.8 1275.4,432.8 1275.8,432.8 1276.2,433.0 1276.6,433.0 1277.0,432.9 1277.4,432.9 1277.8,433.0 1278.2,433.0 1278.6,433.0 1279.0,433.2 1279.4,433.1 1279.8,432.9 1280.2,432.9 1280.6,432.8 1281.0,433.0 1281.4,433.0 1281.8,432.8 1282.2,432.9 1282.6,433.0 1283.0,432.8 1283.4,433.0 1283.8,433.2 1284.2,433.1 1284.6,433.0 1285.0,433.0 1285.4,433.0 1285.8,433.0 1286.2,432.9 1286.6,432.9 1287.0,432.9 1287.4,432.8 1287.8,432.8 1288.2,433.0 1288.6,433.0 1289.0,433.1 1289.4,433.1 1289.8,432.9 1290.2,432.7 1290.6,432.8 1291.0,433.0 1291.4,433.0 1291.8,433.0 1292.2,433.1 1292.6,433.1 1293.0,433.2 1293.4,433.6 1293.8,433.7 1294.2,433.2 1294.6,432.7 1295.0,432.8 1295.4,433.0 1295.8,432.9 1296.2,432.8 1296.6,432.7 1297.0,433.0 1297.4,433.1 1297.8,432.9 1298.2,432.8 1298.6,432.7 1299.0,432.5 1299.4,432.7 1299.8,432.8 1300.2,432.7 1300.6,432.8 1301.0,433.0 1301.4,433.1 1301.8,433.0 1302.2,432.9 1302.6,432.8 1303.0,432.9 1303.4,433.0 1303.8,433.2 1304.2,433.2 1304.6,432.9 1305.0,432.7 1305.4,432.8 1305.8,433.0 1306.2,433.1 1306.6,433.1 1307.0,433.0 1307.4,433.2 1307.8,433.3 1308.2,433.2 1308.6,433.1 1309.0,432.9 1309.4,432.9 1309.8,433.1 1310.2,433.1 1310.6,433.0 1311.0,433.0 1311.4,433.1 1311.8,433.0 1312.2,432.9 1312.6,432.9 1313.0,432.9 1313.4,432.9 1313.8,432.9 1314.2,432.9 1314.6,433.0 1315.0,433.2 1315.4,433.3 1315.8,433.2 1316.2,433.0 1316.6,433.0 1317.0,433.2 1317.4,433.2 1317.8,433.2 1318.2,433.2 1318.6,433.0 1319.0,432.8 1319.4,432.8 1319.8,432.9 1320.2,432.9 1320.6,432.6 1321.0,432.7 1321.4,433.0 1321.8,433.1 1322.2,432.9 1322.6,432.8 1323.0,432.8 1323.4,432.9 1323.8,433.0 1324.2,433.0 1324.6,432.9 1325.0,432.9 1325.4,433.0 1325.8,432.9 1326.2,432.8 1326.6,433.0 1327.0,433.0 1327.4,433.0 1327.8,433.0 1328.2,433.0 1328.6,432.9 1329.0,432.8 1329.4,432.6 1329.8,432.6 1330.2,432.7 1330.6,432.6 1331.0,432.8 1331.4,433.1 1331.8,433.0 1332.2,432.8 1332.6,432.8 1333.0,432.6 1333.4,432.7 1333.8,432.9 1334.2,433.0 1334.6,433.0 1335.0,432.9 1335.4,432.8 1335.8,433.0 1336.2,433.1 1336.6,433.2 1337.0,433.1 1337.4,433.0 1337.8,433.0 1338.2,433.0 1338.6,432.9 1339.0,432.8 1339.4,432.7 1339.8,432.9 1340.2,433.2 1340.6,433.1 1341.0,432.9 1341.4,432.9 1341.8,432.9 1342.2,432.8 1342.6,432.8 1343.0,432.9 1343.4,432.9 1343.8,432.9 1344.2,432.9 1344.6,432.7 1345.0,432.6 1345.4,432.6 1345.8,432.8 1346.2,432.9 1346.6,432.8 1347.0,432.6 1347.4,432.4 1347.8,432.4 1348.2,432.6 1348.6,432.8 1349.0,432.8 1349.4,432.7 1349.8,432.6 1350.2,432.7 1350.6,432.7 1351.0,432.6 1351.4,432.7 1351.8,432.8 1352.2,432.7 1352.6,432.6 1353.0,432.6 1353.4,432.6 1353.8,432.5 1354.2,432.4 1354.6,432.1 1355.0,432.0 1355.4,432.1 1355.8,431.8 1356.2,431.2 1356.6,430.5 1357.0,429.1 1357.4,426.2 1357.8,420.6 1358.2,411.1 1358.6,397.4 1359.0,381.5 1359.4,367.7 1359.8,361.9 1360.2,367.2 1360.6,380.3 1361.0,395.0 1361.4,406.2 1361.8,411.1 1362.2,409.9 1362.6,404.6 1363.0,398.8 1363.4,396.0 1363.8,398.2 1364.2,404.7 1364.6,412.7 1365.0,420.1 1365.4,425.4 1365.8,428.6 1366.2,430.2 1366.6,430.7 1367.0,430.7 1367.4,430.5 1367.8,429.6 1368.2,427.9 1368.6,424.3 1369.0,417.7 1369.4,408.0 1369.8,396.9 1370.2,387.3 1370.6,383.2 1371.0,387.0 1371.4,396.7 1371.8,407.8 1372.2,417.1 1372.6,423.1 1373.0,425.5 1373.4,425.2 1373.8,422.4 1374.2,417.6 1374.6,412.2 1375.0,408.4 1375.4,408.3 1375.8,411.7 1376.2,417.2 1376.6,422.8 1377.0,427.0 1377.4,429.6 1377.8,431.2 1378.2,431.8 1378.6,432.0 1379.0,432.3 1379.4,432.3 1379.8,432.2 1380.2,432.4 1380.6,432.5 1381.0,432.6 1381.4,432.8 1381.8,432.8 1382.2,432.7 1382.6,432.6 1383.0,432.7 1383.4,432.7 1383.8,433.0 1384.2,433.2 1384.6,432.9 1385.0,432.7 1385.4,432.7 1385.8,432.6 1386.2,432.7 1386.6,432.9 1387.0,433.1 1387.4,433.2 1387.8,433.0 1388.2,433.0 1388.6,433.3 1389.0,433.4 1389.4,433.2 1389.8,433.0 1390.2,433.0 1390.6,433.1 1391.0,433.1 1391.4,433.1 1391.8,433.0 1392.2,433.0 1392.6,433.2 1393.0,433.3 1393.4,433.1 1393.8,433.0 1394.2,433.1 1394.6,433.1 1395.0,433.1 1395.4,433.0 1395.8,432.9 1396.2,432.8 1396.6,432.7 1397.0,432.8 1397.4,433.2 1397.8,433.2 1398.2,432.9 1398.6,432.6 1399.0,432.7 1399.4,432.9 1399.8,432.9 1400.2,432.9 1400.6,432.9 1401.0,433.1 1401.4,433.1 1401.8,432.9 1402.2,433.0 1402.6,433.2 1403.0,433.3 1403.4,433.2 1403.8,432.8 1404.2,432.8 1404.6,432.9 1405.0,432.9 1405.4,432.9 1405.8,432.9 1406.2,433.0 1406.6,433.1 1407.0,433.0 1407.4,432.9 1407.8,433.0 1408.2,433.1 1408.6,433.1 1409.0,433.1 1409.4,433.4 1409.8,433.5 1410.2,433.4 1410.6,433.1 1411.0,433.0 1411.4,432.9 1411.8,432.9 1412.2,432.8 1412.6,432.8 1413.0,432.9 1413.4,433.1 1413.8,433.2 1414.2,433.3 1414.6,433.2 1415.0,432.9 1415.4,432.8 1415.8,432.7 1416.2,432.6 1416.6,432.7 1417.0,432.9 1417.4,432.9 1417.8,432.7 1418.2,432.8 1418.6,432.9 1419.0,432.9 1419.4,432.9 1419.8,433.0 1420.2,433.2 1420.6,433.3 1421.0,433.1 1421.4,432.9 1421.8,432.8 1422.2,433.0 1422.6,433.2 1423.0,433.3 1423.4,433.1 1423.8,432.9 1424.2,432.8 1424.6,432.9 1425.0,433.0 1425.4,433.1 1425.8,433.2 1426.2,432.8 1426.6,432.5 1427.0,432.5 1427.4,432.8 1427.8,433.1 1428.2,433.4 1428.6,433.3 1429.0,433.3 1429.4,433.2 1429.8,433.2 1430.2,433.2 1430.6,433.0 1431.0,432.9 1431.4,433.0 1431.8,433.3 1432.2,433.1 1432.6,432.9 1433.0,433.1 1433.4,433.2 1433.8,433.1 1434.2,433.0 1434.6,432.9 1435.0,433.0 1435.4,433.0 1435.8,432.9 1436.2,432.9 1436.6,432.9 1437.0,433.0 1437.4,433.0 1437.8,433.0 1438.2,433.0 1438.6,432.9 1439.0,432.9 1439.4,433.1 1439.8,433.2 1440.2,433.0 1440.6,432.9 1441.0,432.8 1441.4,432.7 1441.8,432.9 1442.2,433.1 1442.6,433.1 1443.0,433.0 1443.4,433.0 1443.8,433.0 1444.2,433.1 1444.6,433.1 1445.0,433.0 1445.4,432.9 1445.8,432.8 1446.2,432.9 1446.6,432.8 1447.0,432.8 1447.4,433.0 1447.8,433.2 1448.2,433.3 1448.6,433.1 1449.0,432.9 1449.4,432.9 1449.8,433.1 1450.2,433.3 1450.6,433.2 1451.0,432.9 1451.4,432.8 1451.8,433.1 1452.2,433.0 1452.6,432.7 1453.0,432.5 1453.4,432.6 1453.8,432.8 1454.2,433.0 1454.6,433.1 1455.0,433.1 1455.4,433.1 1455.8,432.9 1456.2,432.8 1456.6,432.9 1457.0,433.0 1457.4,432.7 1457.8,432.8 1458.2,433.2 1458.6,433.3 1459.0,432.9 1459.4,432.7 1459.8,432.7 1460.2,432.8 1460.6,432.9 1461.0,432.9 1461.4,432.6 1461.8,432.7 1462.2,433.0 1462.6,433.1 1463.0,432.9 1463.4,432.8 1463.8,432.8 1464.2,432.7 1464.6,432.6 1465.0,432.7 1465.4,432.9 1465.8,432.8 1466.2,432.8 1466.6,433.1 1467.0,433.3 1467.4,433.2 1467.8,433.1 1468.2,433.2 1468.6,433.2 1469.0,433.0 1469.4,432.9 1469.8,433.3 1470.2,433.2 1470.6,432.9 1471.0,433.0 1471.4,433.1 1471.8,432.9 1472.2,432.6 1472.6,432.6 1473.0,432.7 1473.4,433.0 1473.8,433.1 1474.2,432.9 1474.6,433.0 1475.0,433.1 1475.4,433.2 1475.8,433.2 1476.2,433.0 1476.6,432.7 1477.0,432.6 1477.4,432.8 1477.8,433.2 1478.2,433.3 1478.6,433.0 1479.0,432.9 1479.4,432.9 1479.8,433.0 1480.2,433.0 1480.6,432.6 1481.0,432.3 1481.4,432.3 1481.8,432.3 1482.2,432.3 1482.6,432.1 1483.0,431.7 1483.4,431.5 1483.8,431.2 1484.2,430.6 1484.6,429.9 1485.0,429.1 1485.4,428.4 1485.8,427.5 1486.2,426.3 1486.6,425.2 1487.0,424.5 1487.4,423.8 1487.8,423.4 1488.2,423.1 1488.6,423.1 1489.0,423.4 1489.4,424.0 1489.8,424.8 1490.2,425.8 1490.6,427.0 1491.0,428.2 1491.4,429.1 1491.8,429.9 1492.2,430.8 1492.6,431.2 1493.0,431.3 1493.4,431.5 1493.8,431.8 1494.2,432.1 1494.6,432.3 1495.0,432.4 1495.4,432.8 1495.8,432.9 1496.2,432.8 1496.6,432.9 1497.0,433.0 1497.4,432.9 1497.8,432.9 1498.2,433.3 1498.6,433.3 1499.0,432.9 1499.4,432.7 1499.8,432.7 1500.2,432.9 1500.6,433.0 1501.0,432.9 1501.4,432.8 1501.8,432.6 1502.2,432.6 1502.6,432.8 1503.0,432.9 1503.4,433.0 1503.8,433.1 1504.2,433.2 1504.6,433.1 1505.0,433.2 1505.4,433.4 1505.8,433.4 1506.2,432.9 1506.6,432.8 1507.0,433.0 1507.4,433.2 1507.8,433.1 1508.2,432.9 1508.6,432.7 1509.0,433.0 1509.4,433.2 1509.8,433.1 1510.2,433.0 1510.6,432.9 1511.0,432.7 1511.4,432.6 1511.8,432.5 1512.2,432.8 1512.6,433.0 1513.0,433.0 1513.4,432.8 1513.8,432.9 1514.2,433.1 1514.6,433.1 1515.0,432.9 1515.4,432.9 1515.8,433.1 1516.2,433.1 1516.6,432.8 1517.0,432.7 1517.4,432.6 1517.8,432.7 1518.2,433.1 1518.6,433.2 1519.0,433.0 1519.4,432.8 1519.8,432.7 1520.2,432.6 1520.6,432.8 1521.0,432.8 1521.4,432.7 1521.8,432.7 1522.2,432.8 1522.6,432.8 1523.0,432.9 1523.4,432.8 1523.8,432.7 1524.2,432.7 1524.6,432.6 1525.0,432.5 1525.4,432.6 1525.8,432.8 1526.2,433.0 1526.6,432.9 1527.0,432.8 1527.4,432.9 1527.8,433.1 1528.2,433.2 1528.6,433.2 1529.0,433.1 1529.4,433.1 1529.8,433.0 1530.2,432.9 1530.6,432.8 1531.0,432.9 1531.4,433.3 1531.8,433.4 1532.2,433.2 1532.6,433.1 1533.0,433.2 1533.4,433.1 1533.8,432.9 1534.2,433.0 1534.6,433.0 1535.0,433.2 1535.4,433.3 1535.8,432.9 1536.2,432.8 1536.6,433.0 1537.0,432.9 1537.4,432.7 1537.8,432.8 1538.2,433.1 1538.6,433.2 1539.0,433.1 1539.4,432.9 1539.8,432.8 1540.2,433.0 1540.6,433.2 1541.0,433.0 1541.4,432.9 1541.8,432.9 1542.2,432.9 1542.6,433.0 1543.0,432.9 1543.4,432.9 1543.8,433.0 1544.2,433.0 1544.6,433.0 1545.0,432.9 1545.4,433.1 1545.8,433.4 1546.2,433.3 1546.6,432.9 1547.0,432.6 1547.4,432.7 1547.8,432.8 1548.2,432.9 1548.6,432.9 1549.0,432.9 1549.4,432.9 1549.8,432.8 1550.2,432.7 1550.6,432.8 1551.0,432.8 1551.4,432.8 1551.8,432.9 1552.2,432.8 1552.6,433.0 1553.0,433.1 1553.4,432.9 1553.8,432.6 1554.2,432.6 1554.6,432.8 1555.0,432.9 1555.4,432.8 1555.8,432.8 1556.2,432.8 1556.6,432.9 1557.0,432.9 1557.4,432.8 1557.8,432.7 1558.2,432.8 1558.6,432.8 1559.0,432.9 1559.4,432.8 1559.8,432.8 1560.2,433.0 1560.6,433.0 1561.0,432.8 1561.4,432.7 1561.8,432.7 1562.2,432.8 1562.6,432.7 1563.0,432.7 1563.4,432.8 1563.8,433.1 1564.2,433.1 1564.6,433.0 1565.0,432.9 1565.4,432.8 1565.8,432.6 1566.2,432.4 1566.6,432.5 1567.0,432.8 1567.4,432.7 1567.8,432.4 1568.2,432.5 1568.6,432.7 1569.0,432.6 1569.4,432.5 1569.8,432.6 1570.2,432.8 1570.6,432.9 1571.0,432.9 1571.4,432.7 1571.8,432.7 1572.2,432.6 1572.6,432.4 1573.0,432.4 1573.4,432.3 1573.8,432.2 1574.2,432.3 1574.6,432.5 1575.0,432.5 1575.4,432.0 1575.8,431.8 1576.2,431.9 1576.6,431.9 1577.0,431.4 1577.4,430.4 1577.8,428.6 1578.2,425.5 1578.6,420.0 1579.0,411.5 1579.4,400.3 1579.8,388.0 1580.2,378.0 1580.6,373.9 1581.0,377.7 1581.4,387.8 1581.8,400.1 1582.2,410.9 1582.6,418.8 1583.0,423.8 1583.4,425.9 1583.8,424.7 1584.2,421.0 1584.6,415.8 1585.0,410.0 1585.4,405.0 1585.8,403.0 1586.2,404.9 1586.6,409.8 1587.0,415.9 1587.4,421.7 1587.8,426.1 1588.2,429.1 1588.6,430.9 1589.0,431.5 1589.4,431.7 1589.8,432.1 1590.2,432.3 1590.6,432.3 1591.0,432.4 1591.4,432.5 1591.8,432.4 1592.2,432.5 1592.6,432.5 1593.0,432.4 1593.4,432.4 1593.8,432.5 1594.2,432.5 1594.6,432.6 1595.0,432.7 1595.4,432.7 1595.8,432.6 1596.2,432.8 1596.6,432.8 1597.0,432.5 1597.4,432.4 1597.8,432.5 1598.2,432.7 1598.6,433.0 1599.0,433.0 1599.4,433.0 1599.8,432.9 1600.2,432.9 1600.6,432.7 1601.0,432.5 1601.4,432.5 1601.8,432.7 1602.2,432.7 1602.6,432.6 1603.0,432.6 1603.4,432.8 1603.8,432.7 1604.2,432.7 1604.6,432.8 1605.0,432.7 1605.4,432.7 1605.8,432.7 1606.2,432.4 1606.6,432.1 1607.0,432.0 1607.4,432.1 1607.8,431.8 1608.2,431.0 1608.6,430.1 1609.0,429.3 1609.4,428.5 1609.8,427.6 1610.2,426.6 1610.6,425.9 1611.0,425.1 1611.4,424.5 1611.8,424.1 1612.2,423.8 1612.6,423.8 1613.0,424.2 1613.4,424.9 1613.8,425.8 1614.2,426.8 1614.6,427.6 1615.0,428.5 1615.4,429.5 1615.8,430.2 1616.2,430.8 1616.6,431.2 1617.0,431.5 1617.4,431.9 1617.8,432.4 1618.2,432.8 1618.6,432.7 1619.0,432.6 1619.4,432.7 1619.8,432.5 1620.2,432.6 1620.6,432.9 1621.0,432.9 1621.4,432.9 1621.8,432.6 1622.2,432.6 1622.6,432.9 1623.0,432.9 1623.4,432.9 1623.8,432.8 1624.2,432.8 1624.6,432.9 1625.0,432.8 1625.4,432.6 1625.8,432.6 1626.2,432.6 1626.6,432.9 1627.0,433.0 1627.4,432.9 1627.8,432.7 1628.2,432.5 1628.6,432.6 1629.0,432.9 1629.4,433.0 1629.8,433.0 1630.2,432.9 1630.6,432.8 1631.0,432.7 1631.4,432.9 1631.8,433.1 1632.2,433.1 1632.6,432.9 1633.0,432.8 1633.4,432.8 1633.8,432.9 1634.2,433.0 1634.6,433.0 1635.0,432.9 1635.4,433.1 1635.8,433.1 1636.2,433.0 1636.6,433.1 1637.0,433.2 1637.4,433.1 1637.8,433.1 1638.2,433.2 1638.6,433.2 1639.0,433.1 1639.4,432.9 1639.8,433.0 1640.2,433.1 1640.6,432.9 1641.0,432.7 1641.4,432.9 1641.8,433.0 1642.2,433.0 1642.6,432.9 1643.0,432.9 1643.4,433.1 1643.8,433.1 1644.2,433.0 1644.6,433.0 1645.0,433.0 1645.4,432.9 1645.8,432.9 1646.2,433.0 1646.6,432.9 1647.0,432.8 1647.4,432.7 1647.8,432.7 1648.2,432.6 1648.6,432.6 1649.0,432.8 1649.4,433.2 1649.8,433.2 1650.2,433.0 1650.6,433.0 1651.0,432.9 1651.4,432.5 1651.8,432.5 1652.2,432.7 1652.6,432.6 1653.0,432.5 1653.4,432.7 1653.8,432.9 1654.2,432.9 1654.6,432.8 1655.0,432.8 1655.4,432.6 1655.8,432.4 1656.2,432.4 1656.6,432.3 1657.0,432.5 1657.4,432.6 1657.8,432.5 1658.2,432.3 1658.6,432.3 1659.0,432.2 1659.4,431.7 1659.8,430.8 1660.2,429.4 1660.6,427.0 1661.0,422.7 1661.4,416.2 1661.8,407.9 1662.2,399.4 1662.6,393.1 1663.0,391.5 1663.4,395.5 1663.8,403.3 1664.2,412.0 1664.6,419.6 1665.0,424.9 1665.4,427.7 1665.8,428.9 1666.2,428.6 1666.6,427.2 1667.0,424.5 1667.4,420.6 1667.8,416.4 1668.2,413.1 1668.6,412.1 1669.0,413.8 1669.4,417.5 1669.8,421.7 1670.2,425.4 1670.6,428.3 1671.0,430.4 1671.4,431.4 1671.8,431.9 1672.2,432.1 1672.6,432.1 1673.0,432.3 1673.4,432.5 1673.8,432.7 1674.2,432.6 1674.6,432.7 1675.0,432.8 1675.4,432.7 1675.8,432.7 1676.2,432.7 1676.6,432.6 1677.0,432.7 1677.4,432.8 1677.8,432.8 1678.2,432.9 1678.6,432.8 1679.0,432.7 1679.4,432.9 1679.8,433.2 1680.2,433.0 1680.6,432.8 1681.0,432.8 1681.4,432.7 1681.8,432.7 1682.2,432.7 1682.6,432.8 1683.0,433.1 1683.4,433.2 1683.8,433.1 1684.2,432.9 1684.6,432.8 1685.0,432.8 1685.4,432.9 1685.8,432.9 1686.2,432.9 1686.6,433.0 1687.0,432.9 1687.4,432.7 1687.8,432.7 1688.2,432.9 1688.6,433.1 1689.0,433.0 1689.4,432.9 1689.8,432.8 1690.2,432.8 1690.6,432.7 1691.0,432.7 1691.4,432.8 1691.8,433.1 1692.2,433.0 1692.6,432.8 1693.0,432.9 1693.4,433.0 1693.8,432.9 1694.2,432.9 1694.6,432.9 1695.0,432.9 1695.4,433.0 1695.8,433.1 1696.2,433.1 1696.6,433.2 1697.0,433.3 1697.4,433.2 1697.8,432.8 1698.2,432.7 1698.6,432.7 1699.0,432.7 1699.4,432.7 1699.8,432.9 1700.2,432.9 1700.6,432.8 1701.0,432.7 1701.4,432.7 1701.8,432.7 1702.2,432.9 1702.6,433.0 1703.0,432.7 1703.4,432.5 1703.8,432.7 1704.2,432.8 1704.6,432.7 1705.0,432.8 1705.4,432.7 1705.8,432.5 1706.2,432.5 1706.6,432.7 1707.0,432.7 1707.4,432.7 1707.8,432.6 1708.2,432.4 1708.6,432.6 1709.0,432.7 1709.4,432.5 1709.8,432.4 1710.2,432.7 1710.6,433.0 1711.0,433.1 1711.4,433.0 1711.8,432.7 1712.2,432.6 1712.6,432.6 1713.0,432.6 1713.4,432.5 1713.8,432.3 1714.2,432.3 1714.6,432.4 1715.0,432.9 1715.4,432.9 1715.8,432.5 1716.2,432.3 1716.6,432.3 1717.0,432.3 1717.4,432.1 1717.8,431.7 1718.2,431.6 1718.6,431.8 1719.0,431.6 1719.4,431.1 1719.8,430.8 1720.2,430.6 1720.6,430.4 1721.0,430.1 1721.4,429.7 1721.8,429.1 1722.2,428.3 1722.6,427.6 1723.0,426.8 1723.4,425.7 1723.8,424.7 1724.2,424.0 1724.6,423.1 1725.0,422.0 1725.4,420.8 1725.8,419.8 1726.2,419.5" fill="none" stroke="#066ee1" stroke-width="7.8" stroke-linejoin="round" stroke-linecap="butt"/>
<g stroke-width="8.2" stroke-linecap="round" fill="none">
<path d="M188,244.2H285" stroke="#066ee1"/>
<path d="M183,640.2H280" stroke="#ff4040"/>
<path d="M191,982H287" stroke="#505050"/>
</g>
<g stroke="#000" fill="none">
<path d="M256.9,1185.0V1162" stroke-width="5.2"/>
<path d="M440.6,1185.0V1162" stroke-width="5.2"/>
<path d="M624.3,1185.0V1162" stroke-width="5.2"/>
<path d="M808.0,1185.0V1162" stroke-width="5.2"/>
<path d="M991.7,1185.0V1162" stroke-width="5.2"/>
<path d="M1175.4,1185.0V1162" stroke-width="5.2"/>
<path d="M1359.1,1185.0V1162" stroke-width="5.2"/>
<path d="M1542.8,1185.0V1162" stroke-width="5.2"/>
<path d="M1726.5,1185.0V1162" stroke-width="5.2"/>
<path d="M348.7,1185.0V1173" stroke-width="4.8"/>
<path d="M532.4,1185.0V1173" stroke-width="4.8"/>
<path d="M716.1,1185.0V1173" stroke-width="4.8"/>
<path d="M899.8,1185.0V1173" stroke-width="4.8"/>
<path d="M1083.5,1185.0V1173" stroke-width="4.8"/>
<path d="M1267.2,1185.0V1173" stroke-width="4.8"/>
<path d="M1450.9,1185.0V1173" stroke-width="4.8"/>
<path d="M1634.6,1185.0V1173" stroke-width="4.8"/>
<rect x="165.0" y="35.0" width="1561.5" height="1150.0" stroke-width="5.6"/>
</g>
<g style="font-family:'Liberation Serif','DejaVu Serif',serif;font-weight:bold" fill="#000">
<g font-size="49" text-anchor="middle">
<text x="256.9" y="1246.5">10</text>
<text x="440.6" y="1246.5">20</text>
<text x="624.3" y="1246.5">30</text>
<text x="808.0" y="1246.5">40</text>
<text x="991.7" y="1246.5">50</text>
<text x="1175.4" y="1246.5">60</text>
<text x="1359.1" y="1246.5">70</text>
<text x="1542.8" y="1246.5">80</text>
<text x="1726.5" y="1246.5">90</text>
</g>
<text transform="translate(966,1344) scale(1.047,1)" font-size="58" text-anchor="middle">2<tspan font-weight="normal">θ</tspan>(degree)</text>
<text transform="translate(77.3,608.4) rotate(-90) scale(1.047,1)" font-size="58" text-anchor="middle">Intensity(a.u.)</text>
<text x="294.6" y="258.4" font-size="43.5" textLength="114" lengthAdjust="spacingAndGlyphs">80WF</text>
<text x="292" y="654.5" font-size="43.5" textLength="242" lengthAdjust="spacingAndGlyphs">0.3wt% CNT</text>
<text x="298.5" y="996" font-size="43.5" textLength="211.5" lengthAdjust="spacingAndGlyphs">1wt% CNT</text>
<g font-size="43">
<text transform="translate(1350.9,95.2) scale(1.145,1)" font-size="33.7" text-anchor="middle" style="font-family:'DejaVu Sans','Liberation Serif',sans-serif;font-weight:normal">♣</text><text x="1365.7" y="94.5">-Zn</text>
<text transform="translate(1350.5,154.9) scale(1.148,1)" font-size="33.9" text-anchor="middle" style="font-family:'DejaVu Sans','Liberation Serif',sans-serif;font-weight:normal">♠</text>
<text x="1365.7" y="154.4" textLength="343" lengthAdjust="spacingAndGlyphs">-Zn<tspan font-size="27.5" dy="11">5</tspan><tspan dy="-11">(OH)</tspan><tspan font-size="27.5" dy="11">8</tspan><tspan dy="-11">Cl</tspan><tspan font-size="27.5" dy="11">2</tspan><tspan dy="-11">·H</tspan><tspan font-size="27.5" dy="11">2</tspan><tspan dy="-11">O</tspan></text>
<text transform="translate(1350.2,222.4) scale(0.997,1)" font-size="32.5" text-anchor="middle" style="font-family:'DejaVu Sans','Liberation Serif',sans-serif;font-weight:normal">♥</text><text x="1365.7" y="221.6">-Fe</text>
</g>
<g>
<text transform="translate(273.8,317.3) scale(1.163,1)" font-size="45.1" text-anchor="middle" style="font-family:'DejaVu Sans','Liberation Serif',sans-serif;font-weight:normal">♠</text>
<text transform="translate(380.6,402.2) scale(1.163,1)" font-size="45.1" text-anchor="middle" style="font-family:'DejaVu Sans','Liberation Serif',sans-serif;font-weight:normal">♠</text>
<text transform="translate(479.0,410.0) scale(1.163,1)" font-size="45.1" text-anchor="middle" style="font-family:'DejaVu Sans','Liberation Serif',sans-serif;font-weight:normal">♠</text>
<text transform="translate(527.6,398.3) scale(1.163,1)" font-size="45.1" text-anchor="middle" style="font-family:'DejaVu Sans','Liberation Serif',sans-serif;font-weight:normal">♠</text>
<text transform="translate(583.4,405.6) scale(1.163,1)" font-size="45.1" text-anchor="middle" style="font-family:'DejaVu Sans','Liberation Serif',sans-serif;font-weight:normal">♠</text>
<text transform="translate(631.0,377.7) scale(1.163,1)" font-size="45.1" text-anchor="middle" style="font-family:'DejaVu Sans','Liberation Serif',sans-serif;font-weight:normal">♠</text>
<text transform="translate(679.1,372.8) scale(1.163,1)" font-size="45.1" text-anchor="middle" style="font-family:'DejaVu Sans','Liberation Serif',sans-serif;font-weight:normal">♠</text>
<text transform="translate(700.2,411.9) scale(1.163,1)" font-size="45.1" text-anchor="middle" style="font-family:'DejaVu Sans','Liberation Serif',sans-serif;font-weight:normal">♠</text>
<text transform="translate(895.2,406.7) scale(1.163,1)" font-size="45.1" text-anchor="middle" style="font-family:'DejaVu Sans','Liberation Serif',sans-serif;font-weight:normal">♠</text>
<text transform="translate(1183.6,417.6) scale(1.163,1)" font-size="45.1" text-anchor="middle" style="font-family:'DejaVu Sans','Liberation Serif',sans-serif;font-weight:normal">♠</text>
<text transform="translate(655.4,407.8) scale(0.977,1)" font-size="41.8" text-anchor="middle" style="font-family:'DejaVu Sans','Liberation Serif',sans-serif;font-weight:normal">♥</text>
<text transform="translate(738.0,315.0) scale(1.083,1)" font-size="46.6" text-anchor="middle" style="font-family:'DejaVu Sans','Liberation Serif',sans-serif;font-weight:normal">♣</text>
<text transform="translate(791.1,342.2) scale(1.083,1)" font-size="46.6" text-anchor="middle" style="font-family:'DejaVu Sans','Liberation Serif',sans-serif;font-weight:normal">♣</text>
<text transform="translate(864.6,117.7) scale(1.083,1)" font-size="46.6" text-anchor="middle" style="font-family:'DejaVu Sans','Liberation Serif',sans-serif;font-weight:normal">♣</text>
<text transform="translate(1071.5,353.0) scale(1.083,1)" font-size="46.6" text-anchor="middle" style="font-family:'DejaVu Sans','Liberation Serif',sans-serif;font-weight:normal">♣</text>
<text transform="translate(1373.7,352.9) scale(1.083,1)" font-size="46.6" text-anchor="middle" style="font-family:'DejaVu Sans','Liberation Serif',sans-serif;font-weight:normal">♣</text>
<text transform="translate(1490.3,407.4) scale(1.083,1)" font-size="46.6" text-anchor="middle" style="font-family:'DejaVu Sans','Liberation Serif',sans-serif;font-weight:normal">♣</text>
<text transform="translate(1584.3,364.4) scale(1.083,1)" font-size="46.6" text-anchor="middle" style="font-family:'DejaVu Sans','Liberation Serif',sans-serif;font-weight:normal">♣</text>
<text transform="translate(1613.8,418.2) scale(1.083,1)" font-size="46.6" text-anchor="middle" style="font-family:'DejaVu Sans','Liberation Serif',sans-serif;font-weight:normal">♣</text>
<text transform="translate(1665.0,381.7) scale(1.083,1)" font-size="46.6" text-anchor="middle" style="font-family:'DejaVu Sans','Liberation Serif',sans-serif;font-weight:normal">♣</text>
</g>
</g>
</svg>
</body></html>
